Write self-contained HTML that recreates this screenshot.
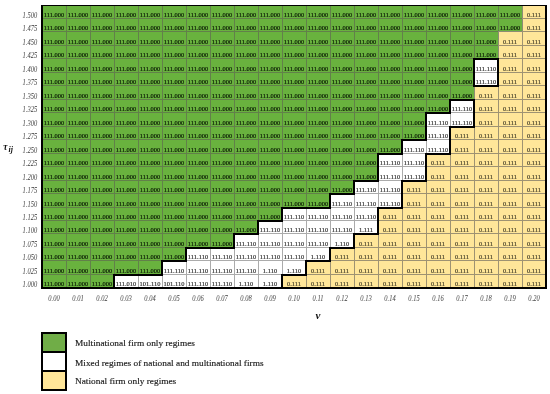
<!DOCTYPE html>
<html><head><meta charset="utf-8"><style>
html,body{margin:0;padding:0;background:#fff;}
body{width:550px;height:394px;position:relative;overflow:hidden;font-family:"Liberation Serif",serif;}
div{position:absolute;}
.t{white-space:nowrap;}
.t.b{-webkit-text-stroke:0.18px currentColor;}
.g{background:#69b23e;}
.y{background:#ffe699;}
.w{background:#fff;}
.L{left:0;top:0;width:550px;height:394px;will-change:transform;}
</style></head><body>
<div class="g" style="left:42px;top:5px;width:24px;height:13px"></div>
<div class="g" style="left:66px;top:5px;width:24px;height:13px"></div>
<div class="g" style="left:90px;top:5px;width:24px;height:13px"></div>
<div class="g" style="left:114px;top:5px;width:24px;height:13px"></div>
<div class="g" style="left:138px;top:5px;width:24px;height:13px"></div>
<div class="g" style="left:162px;top:5px;width:24px;height:13px"></div>
<div class="g" style="left:186px;top:5px;width:24px;height:13px"></div>
<div class="g" style="left:210px;top:5px;width:24px;height:13px"></div>
<div class="g" style="left:234px;top:5px;width:24px;height:13px"></div>
<div class="g" style="left:258px;top:5px;width:24px;height:13px"></div>
<div class="g" style="left:282px;top:5px;width:24px;height:13px"></div>
<div class="g" style="left:306px;top:5px;width:24px;height:13px"></div>
<div class="g" style="left:330px;top:5px;width:24px;height:13px"></div>
<div class="g" style="left:354px;top:5px;width:24px;height:13px"></div>
<div class="g" style="left:378px;top:5px;width:24px;height:13px"></div>
<div class="g" style="left:402px;top:5px;width:24px;height:13px"></div>
<div class="g" style="left:426px;top:5px;width:24px;height:13px"></div>
<div class="g" style="left:450px;top:5px;width:24px;height:13px"></div>
<div class="g" style="left:474px;top:5px;width:24px;height:13px"></div>
<div class="g" style="left:498px;top:5px;width:24px;height:13px"></div>
<div class="y" style="left:522px;top:5px;width:24px;height:13px"></div>
<div class="g" style="left:42px;top:18px;width:24px;height:13px"></div>
<div class="g" style="left:66px;top:18px;width:24px;height:13px"></div>
<div class="g" style="left:90px;top:18px;width:24px;height:13px"></div>
<div class="g" style="left:114px;top:18px;width:24px;height:13px"></div>
<div class="g" style="left:138px;top:18px;width:24px;height:13px"></div>
<div class="g" style="left:162px;top:18px;width:24px;height:13px"></div>
<div class="g" style="left:186px;top:18px;width:24px;height:13px"></div>
<div class="g" style="left:210px;top:18px;width:24px;height:13px"></div>
<div class="g" style="left:234px;top:18px;width:24px;height:13px"></div>
<div class="g" style="left:258px;top:18px;width:24px;height:13px"></div>
<div class="g" style="left:282px;top:18px;width:24px;height:13px"></div>
<div class="g" style="left:306px;top:18px;width:24px;height:13px"></div>
<div class="g" style="left:330px;top:18px;width:24px;height:13px"></div>
<div class="g" style="left:354px;top:18px;width:24px;height:13px"></div>
<div class="g" style="left:378px;top:18px;width:24px;height:13px"></div>
<div class="g" style="left:402px;top:18px;width:24px;height:13px"></div>
<div class="g" style="left:426px;top:18px;width:24px;height:13px"></div>
<div class="g" style="left:450px;top:18px;width:24px;height:13px"></div>
<div class="g" style="left:474px;top:18px;width:24px;height:13px"></div>
<div class="g" style="left:498px;top:18px;width:24px;height:13px"></div>
<div class="y" style="left:522px;top:18px;width:24px;height:13px"></div>
<div class="g" style="left:42px;top:31px;width:24px;height:14px"></div>
<div class="g" style="left:66px;top:31px;width:24px;height:14px"></div>
<div class="g" style="left:90px;top:31px;width:24px;height:14px"></div>
<div class="g" style="left:114px;top:31px;width:24px;height:14px"></div>
<div class="g" style="left:138px;top:31px;width:24px;height:14px"></div>
<div class="g" style="left:162px;top:31px;width:24px;height:14px"></div>
<div class="g" style="left:186px;top:31px;width:24px;height:14px"></div>
<div class="g" style="left:210px;top:31px;width:24px;height:14px"></div>
<div class="g" style="left:234px;top:31px;width:24px;height:14px"></div>
<div class="g" style="left:258px;top:31px;width:24px;height:14px"></div>
<div class="g" style="left:282px;top:31px;width:24px;height:14px"></div>
<div class="g" style="left:306px;top:31px;width:24px;height:14px"></div>
<div class="g" style="left:330px;top:31px;width:24px;height:14px"></div>
<div class="g" style="left:354px;top:31px;width:24px;height:14px"></div>
<div class="g" style="left:378px;top:31px;width:24px;height:14px"></div>
<div class="g" style="left:402px;top:31px;width:24px;height:14px"></div>
<div class="g" style="left:426px;top:31px;width:24px;height:14px"></div>
<div class="g" style="left:450px;top:31px;width:24px;height:14px"></div>
<div class="g" style="left:474px;top:31px;width:24px;height:14px"></div>
<div class="y" style="left:498px;top:31px;width:24px;height:14px"></div>
<div class="y" style="left:522px;top:31px;width:24px;height:14px"></div>
<div class="g" style="left:42px;top:45px;width:24px;height:13px"></div>
<div class="g" style="left:66px;top:45px;width:24px;height:13px"></div>
<div class="g" style="left:90px;top:45px;width:24px;height:13px"></div>
<div class="g" style="left:114px;top:45px;width:24px;height:13px"></div>
<div class="g" style="left:138px;top:45px;width:24px;height:13px"></div>
<div class="g" style="left:162px;top:45px;width:24px;height:13px"></div>
<div class="g" style="left:186px;top:45px;width:24px;height:13px"></div>
<div class="g" style="left:210px;top:45px;width:24px;height:13px"></div>
<div class="g" style="left:234px;top:45px;width:24px;height:13px"></div>
<div class="g" style="left:258px;top:45px;width:24px;height:13px"></div>
<div class="g" style="left:282px;top:45px;width:24px;height:13px"></div>
<div class="g" style="left:306px;top:45px;width:24px;height:13px"></div>
<div class="g" style="left:330px;top:45px;width:24px;height:13px"></div>
<div class="g" style="left:354px;top:45px;width:24px;height:13px"></div>
<div class="g" style="left:378px;top:45px;width:24px;height:13px"></div>
<div class="g" style="left:402px;top:45px;width:24px;height:13px"></div>
<div class="g" style="left:426px;top:45px;width:24px;height:13px"></div>
<div class="g" style="left:450px;top:45px;width:24px;height:13px"></div>
<div class="g" style="left:474px;top:45px;width:24px;height:13px"></div>
<div class="y" style="left:498px;top:45px;width:24px;height:13px"></div>
<div class="y" style="left:522px;top:45px;width:24px;height:13px"></div>
<div class="g" style="left:42px;top:58px;width:24px;height:14px"></div>
<div class="g" style="left:66px;top:58px;width:24px;height:14px"></div>
<div class="g" style="left:90px;top:58px;width:24px;height:14px"></div>
<div class="g" style="left:114px;top:58px;width:24px;height:14px"></div>
<div class="g" style="left:138px;top:58px;width:24px;height:14px"></div>
<div class="g" style="left:162px;top:58px;width:24px;height:14px"></div>
<div class="g" style="left:186px;top:58px;width:24px;height:14px"></div>
<div class="g" style="left:210px;top:58px;width:24px;height:14px"></div>
<div class="g" style="left:234px;top:58px;width:24px;height:14px"></div>
<div class="g" style="left:258px;top:58px;width:24px;height:14px"></div>
<div class="g" style="left:282px;top:58px;width:24px;height:14px"></div>
<div class="g" style="left:306px;top:58px;width:24px;height:14px"></div>
<div class="g" style="left:330px;top:58px;width:24px;height:14px"></div>
<div class="g" style="left:354px;top:58px;width:24px;height:14px"></div>
<div class="g" style="left:378px;top:58px;width:24px;height:14px"></div>
<div class="g" style="left:402px;top:58px;width:24px;height:14px"></div>
<div class="g" style="left:426px;top:58px;width:24px;height:14px"></div>
<div class="g" style="left:450px;top:58px;width:24px;height:14px"></div>
<div class="w" style="left:474px;top:58px;width:24px;height:14px"></div>
<div class="y" style="left:498px;top:58px;width:24px;height:14px"></div>
<div class="y" style="left:522px;top:58px;width:24px;height:14px"></div>
<div class="g" style="left:42px;top:72px;width:24px;height:13px"></div>
<div class="g" style="left:66px;top:72px;width:24px;height:13px"></div>
<div class="g" style="left:90px;top:72px;width:24px;height:13px"></div>
<div class="g" style="left:114px;top:72px;width:24px;height:13px"></div>
<div class="g" style="left:138px;top:72px;width:24px;height:13px"></div>
<div class="g" style="left:162px;top:72px;width:24px;height:13px"></div>
<div class="g" style="left:186px;top:72px;width:24px;height:13px"></div>
<div class="g" style="left:210px;top:72px;width:24px;height:13px"></div>
<div class="g" style="left:234px;top:72px;width:24px;height:13px"></div>
<div class="g" style="left:258px;top:72px;width:24px;height:13px"></div>
<div class="g" style="left:282px;top:72px;width:24px;height:13px"></div>
<div class="g" style="left:306px;top:72px;width:24px;height:13px"></div>
<div class="g" style="left:330px;top:72px;width:24px;height:13px"></div>
<div class="g" style="left:354px;top:72px;width:24px;height:13px"></div>
<div class="g" style="left:378px;top:72px;width:24px;height:13px"></div>
<div class="g" style="left:402px;top:72px;width:24px;height:13px"></div>
<div class="g" style="left:426px;top:72px;width:24px;height:13px"></div>
<div class="g" style="left:450px;top:72px;width:24px;height:13px"></div>
<div class="w" style="left:474px;top:72px;width:24px;height:13px"></div>
<div class="y" style="left:498px;top:72px;width:24px;height:13px"></div>
<div class="y" style="left:522px;top:72px;width:24px;height:13px"></div>
<div class="g" style="left:42px;top:85px;width:24px;height:14px"></div>
<div class="g" style="left:66px;top:85px;width:24px;height:14px"></div>
<div class="g" style="left:90px;top:85px;width:24px;height:14px"></div>
<div class="g" style="left:114px;top:85px;width:24px;height:14px"></div>
<div class="g" style="left:138px;top:85px;width:24px;height:14px"></div>
<div class="g" style="left:162px;top:85px;width:24px;height:14px"></div>
<div class="g" style="left:186px;top:85px;width:24px;height:14px"></div>
<div class="g" style="left:210px;top:85px;width:24px;height:14px"></div>
<div class="g" style="left:234px;top:85px;width:24px;height:14px"></div>
<div class="g" style="left:258px;top:85px;width:24px;height:14px"></div>
<div class="g" style="left:282px;top:85px;width:24px;height:14px"></div>
<div class="g" style="left:306px;top:85px;width:24px;height:14px"></div>
<div class="g" style="left:330px;top:85px;width:24px;height:14px"></div>
<div class="g" style="left:354px;top:85px;width:24px;height:14px"></div>
<div class="g" style="left:378px;top:85px;width:24px;height:14px"></div>
<div class="g" style="left:402px;top:85px;width:24px;height:14px"></div>
<div class="g" style="left:426px;top:85px;width:24px;height:14px"></div>
<div class="g" style="left:450px;top:85px;width:24px;height:14px"></div>
<div class="y" style="left:474px;top:85px;width:24px;height:14px"></div>
<div class="y" style="left:498px;top:85px;width:24px;height:14px"></div>
<div class="y" style="left:522px;top:85px;width:24px;height:14px"></div>
<div class="g" style="left:42px;top:99px;width:24px;height:13px"></div>
<div class="g" style="left:66px;top:99px;width:24px;height:13px"></div>
<div class="g" style="left:90px;top:99px;width:24px;height:13px"></div>
<div class="g" style="left:114px;top:99px;width:24px;height:13px"></div>
<div class="g" style="left:138px;top:99px;width:24px;height:13px"></div>
<div class="g" style="left:162px;top:99px;width:24px;height:13px"></div>
<div class="g" style="left:186px;top:99px;width:24px;height:13px"></div>
<div class="g" style="left:210px;top:99px;width:24px;height:13px"></div>
<div class="g" style="left:234px;top:99px;width:24px;height:13px"></div>
<div class="g" style="left:258px;top:99px;width:24px;height:13px"></div>
<div class="g" style="left:282px;top:99px;width:24px;height:13px"></div>
<div class="g" style="left:306px;top:99px;width:24px;height:13px"></div>
<div class="g" style="left:330px;top:99px;width:24px;height:13px"></div>
<div class="g" style="left:354px;top:99px;width:24px;height:13px"></div>
<div class="g" style="left:378px;top:99px;width:24px;height:13px"></div>
<div class="g" style="left:402px;top:99px;width:24px;height:13px"></div>
<div class="g" style="left:426px;top:99px;width:24px;height:13px"></div>
<div class="w" style="left:450px;top:99px;width:24px;height:13px"></div>
<div class="y" style="left:474px;top:99px;width:24px;height:13px"></div>
<div class="y" style="left:498px;top:99px;width:24px;height:13px"></div>
<div class="y" style="left:522px;top:99px;width:24px;height:13px"></div>
<div class="g" style="left:42px;top:112px;width:24px;height:14px"></div>
<div class="g" style="left:66px;top:112px;width:24px;height:14px"></div>
<div class="g" style="left:90px;top:112px;width:24px;height:14px"></div>
<div class="g" style="left:114px;top:112px;width:24px;height:14px"></div>
<div class="g" style="left:138px;top:112px;width:24px;height:14px"></div>
<div class="g" style="left:162px;top:112px;width:24px;height:14px"></div>
<div class="g" style="left:186px;top:112px;width:24px;height:14px"></div>
<div class="g" style="left:210px;top:112px;width:24px;height:14px"></div>
<div class="g" style="left:234px;top:112px;width:24px;height:14px"></div>
<div class="g" style="left:258px;top:112px;width:24px;height:14px"></div>
<div class="g" style="left:282px;top:112px;width:24px;height:14px"></div>
<div class="g" style="left:306px;top:112px;width:24px;height:14px"></div>
<div class="g" style="left:330px;top:112px;width:24px;height:14px"></div>
<div class="g" style="left:354px;top:112px;width:24px;height:14px"></div>
<div class="g" style="left:378px;top:112px;width:24px;height:14px"></div>
<div class="g" style="left:402px;top:112px;width:24px;height:14px"></div>
<div class="w" style="left:426px;top:112px;width:24px;height:14px"></div>
<div class="w" style="left:450px;top:112px;width:24px;height:14px"></div>
<div class="y" style="left:474px;top:112px;width:24px;height:14px"></div>
<div class="y" style="left:498px;top:112px;width:24px;height:14px"></div>
<div class="y" style="left:522px;top:112px;width:24px;height:14px"></div>
<div class="g" style="left:42px;top:126px;width:24px;height:13px"></div>
<div class="g" style="left:66px;top:126px;width:24px;height:13px"></div>
<div class="g" style="left:90px;top:126px;width:24px;height:13px"></div>
<div class="g" style="left:114px;top:126px;width:24px;height:13px"></div>
<div class="g" style="left:138px;top:126px;width:24px;height:13px"></div>
<div class="g" style="left:162px;top:126px;width:24px;height:13px"></div>
<div class="g" style="left:186px;top:126px;width:24px;height:13px"></div>
<div class="g" style="left:210px;top:126px;width:24px;height:13px"></div>
<div class="g" style="left:234px;top:126px;width:24px;height:13px"></div>
<div class="g" style="left:258px;top:126px;width:24px;height:13px"></div>
<div class="g" style="left:282px;top:126px;width:24px;height:13px"></div>
<div class="g" style="left:306px;top:126px;width:24px;height:13px"></div>
<div class="g" style="left:330px;top:126px;width:24px;height:13px"></div>
<div class="g" style="left:354px;top:126px;width:24px;height:13px"></div>
<div class="g" style="left:378px;top:126px;width:24px;height:13px"></div>
<div class="g" style="left:402px;top:126px;width:24px;height:13px"></div>
<div class="w" style="left:426px;top:126px;width:24px;height:13px"></div>
<div class="y" style="left:450px;top:126px;width:24px;height:13px"></div>
<div class="y" style="left:474px;top:126px;width:24px;height:13px"></div>
<div class="y" style="left:498px;top:126px;width:24px;height:13px"></div>
<div class="y" style="left:522px;top:126px;width:24px;height:13px"></div>
<div class="g" style="left:42px;top:139px;width:24px;height:14px"></div>
<div class="g" style="left:66px;top:139px;width:24px;height:14px"></div>
<div class="g" style="left:90px;top:139px;width:24px;height:14px"></div>
<div class="g" style="left:114px;top:139px;width:24px;height:14px"></div>
<div class="g" style="left:138px;top:139px;width:24px;height:14px"></div>
<div class="g" style="left:162px;top:139px;width:24px;height:14px"></div>
<div class="g" style="left:186px;top:139px;width:24px;height:14px"></div>
<div class="g" style="left:210px;top:139px;width:24px;height:14px"></div>
<div class="g" style="left:234px;top:139px;width:24px;height:14px"></div>
<div class="g" style="left:258px;top:139px;width:24px;height:14px"></div>
<div class="g" style="left:282px;top:139px;width:24px;height:14px"></div>
<div class="g" style="left:306px;top:139px;width:24px;height:14px"></div>
<div class="g" style="left:330px;top:139px;width:24px;height:14px"></div>
<div class="g" style="left:354px;top:139px;width:24px;height:14px"></div>
<div class="g" style="left:378px;top:139px;width:24px;height:14px"></div>
<div class="w" style="left:402px;top:139px;width:24px;height:14px"></div>
<div class="w" style="left:426px;top:139px;width:24px;height:14px"></div>
<div class="y" style="left:450px;top:139px;width:24px;height:14px"></div>
<div class="y" style="left:474px;top:139px;width:24px;height:14px"></div>
<div class="y" style="left:498px;top:139px;width:24px;height:14px"></div>
<div class="y" style="left:522px;top:139px;width:24px;height:14px"></div>
<div class="g" style="left:42px;top:153px;width:24px;height:13px"></div>
<div class="g" style="left:66px;top:153px;width:24px;height:13px"></div>
<div class="g" style="left:90px;top:153px;width:24px;height:13px"></div>
<div class="g" style="left:114px;top:153px;width:24px;height:13px"></div>
<div class="g" style="left:138px;top:153px;width:24px;height:13px"></div>
<div class="g" style="left:162px;top:153px;width:24px;height:13px"></div>
<div class="g" style="left:186px;top:153px;width:24px;height:13px"></div>
<div class="g" style="left:210px;top:153px;width:24px;height:13px"></div>
<div class="g" style="left:234px;top:153px;width:24px;height:13px"></div>
<div class="g" style="left:258px;top:153px;width:24px;height:13px"></div>
<div class="g" style="left:282px;top:153px;width:24px;height:13px"></div>
<div class="g" style="left:306px;top:153px;width:24px;height:13px"></div>
<div class="g" style="left:330px;top:153px;width:24px;height:13px"></div>
<div class="g" style="left:354px;top:153px;width:24px;height:13px"></div>
<div class="w" style="left:378px;top:153px;width:24px;height:13px"></div>
<div class="w" style="left:402px;top:153px;width:24px;height:13px"></div>
<div class="y" style="left:426px;top:153px;width:24px;height:13px"></div>
<div class="y" style="left:450px;top:153px;width:24px;height:13px"></div>
<div class="y" style="left:474px;top:153px;width:24px;height:13px"></div>
<div class="y" style="left:498px;top:153px;width:24px;height:13px"></div>
<div class="y" style="left:522px;top:153px;width:24px;height:13px"></div>
<div class="g" style="left:42px;top:166px;width:24px;height:14px"></div>
<div class="g" style="left:66px;top:166px;width:24px;height:14px"></div>
<div class="g" style="left:90px;top:166px;width:24px;height:14px"></div>
<div class="g" style="left:114px;top:166px;width:24px;height:14px"></div>
<div class="g" style="left:138px;top:166px;width:24px;height:14px"></div>
<div class="g" style="left:162px;top:166px;width:24px;height:14px"></div>
<div class="g" style="left:186px;top:166px;width:24px;height:14px"></div>
<div class="g" style="left:210px;top:166px;width:24px;height:14px"></div>
<div class="g" style="left:234px;top:166px;width:24px;height:14px"></div>
<div class="g" style="left:258px;top:166px;width:24px;height:14px"></div>
<div class="g" style="left:282px;top:166px;width:24px;height:14px"></div>
<div class="g" style="left:306px;top:166px;width:24px;height:14px"></div>
<div class="g" style="left:330px;top:166px;width:24px;height:14px"></div>
<div class="g" style="left:354px;top:166px;width:24px;height:14px"></div>
<div class="w" style="left:378px;top:166px;width:24px;height:14px"></div>
<div class="w" style="left:402px;top:166px;width:24px;height:14px"></div>
<div class="y" style="left:426px;top:166px;width:24px;height:14px"></div>
<div class="y" style="left:450px;top:166px;width:24px;height:14px"></div>
<div class="y" style="left:474px;top:166px;width:24px;height:14px"></div>
<div class="y" style="left:498px;top:166px;width:24px;height:14px"></div>
<div class="y" style="left:522px;top:166px;width:24px;height:14px"></div>
<div class="g" style="left:42px;top:180px;width:24px;height:13px"></div>
<div class="g" style="left:66px;top:180px;width:24px;height:13px"></div>
<div class="g" style="left:90px;top:180px;width:24px;height:13px"></div>
<div class="g" style="left:114px;top:180px;width:24px;height:13px"></div>
<div class="g" style="left:138px;top:180px;width:24px;height:13px"></div>
<div class="g" style="left:162px;top:180px;width:24px;height:13px"></div>
<div class="g" style="left:186px;top:180px;width:24px;height:13px"></div>
<div class="g" style="left:210px;top:180px;width:24px;height:13px"></div>
<div class="g" style="left:234px;top:180px;width:24px;height:13px"></div>
<div class="g" style="left:258px;top:180px;width:24px;height:13px"></div>
<div class="g" style="left:282px;top:180px;width:24px;height:13px"></div>
<div class="g" style="left:306px;top:180px;width:24px;height:13px"></div>
<div class="g" style="left:330px;top:180px;width:24px;height:13px"></div>
<div class="w" style="left:354px;top:180px;width:24px;height:13px"></div>
<div class="w" style="left:378px;top:180px;width:24px;height:13px"></div>
<div class="y" style="left:402px;top:180px;width:24px;height:13px"></div>
<div class="y" style="left:426px;top:180px;width:24px;height:13px"></div>
<div class="y" style="left:450px;top:180px;width:24px;height:13px"></div>
<div class="y" style="left:474px;top:180px;width:24px;height:13px"></div>
<div class="y" style="left:498px;top:180px;width:24px;height:13px"></div>
<div class="y" style="left:522px;top:180px;width:24px;height:13px"></div>
<div class="g" style="left:42px;top:193px;width:24px;height:14px"></div>
<div class="g" style="left:66px;top:193px;width:24px;height:14px"></div>
<div class="g" style="left:90px;top:193px;width:24px;height:14px"></div>
<div class="g" style="left:114px;top:193px;width:24px;height:14px"></div>
<div class="g" style="left:138px;top:193px;width:24px;height:14px"></div>
<div class="g" style="left:162px;top:193px;width:24px;height:14px"></div>
<div class="g" style="left:186px;top:193px;width:24px;height:14px"></div>
<div class="g" style="left:210px;top:193px;width:24px;height:14px"></div>
<div class="g" style="left:234px;top:193px;width:24px;height:14px"></div>
<div class="g" style="left:258px;top:193px;width:24px;height:14px"></div>
<div class="g" style="left:282px;top:193px;width:24px;height:14px"></div>
<div class="g" style="left:306px;top:193px;width:24px;height:14px"></div>
<div class="w" style="left:330px;top:193px;width:24px;height:14px"></div>
<div class="w" style="left:354px;top:193px;width:24px;height:14px"></div>
<div class="w" style="left:378px;top:193px;width:24px;height:14px"></div>
<div class="y" style="left:402px;top:193px;width:24px;height:14px"></div>
<div class="y" style="left:426px;top:193px;width:24px;height:14px"></div>
<div class="y" style="left:450px;top:193px;width:24px;height:14px"></div>
<div class="y" style="left:474px;top:193px;width:24px;height:14px"></div>
<div class="y" style="left:498px;top:193px;width:24px;height:14px"></div>
<div class="y" style="left:522px;top:193px;width:24px;height:14px"></div>
<div class="g" style="left:42px;top:207px;width:24px;height:13px"></div>
<div class="g" style="left:66px;top:207px;width:24px;height:13px"></div>
<div class="g" style="left:90px;top:207px;width:24px;height:13px"></div>
<div class="g" style="left:114px;top:207px;width:24px;height:13px"></div>
<div class="g" style="left:138px;top:207px;width:24px;height:13px"></div>
<div class="g" style="left:162px;top:207px;width:24px;height:13px"></div>
<div class="g" style="left:186px;top:207px;width:24px;height:13px"></div>
<div class="g" style="left:210px;top:207px;width:24px;height:13px"></div>
<div class="g" style="left:234px;top:207px;width:24px;height:13px"></div>
<div class="g" style="left:258px;top:207px;width:24px;height:13px"></div>
<div class="w" style="left:282px;top:207px;width:24px;height:13px"></div>
<div class="w" style="left:306px;top:207px;width:24px;height:13px"></div>
<div class="w" style="left:330px;top:207px;width:24px;height:13px"></div>
<div class="w" style="left:354px;top:207px;width:24px;height:13px"></div>
<div class="y" style="left:378px;top:207px;width:24px;height:13px"></div>
<div class="y" style="left:402px;top:207px;width:24px;height:13px"></div>
<div class="y" style="left:426px;top:207px;width:24px;height:13px"></div>
<div class="y" style="left:450px;top:207px;width:24px;height:13px"></div>
<div class="y" style="left:474px;top:207px;width:24px;height:13px"></div>
<div class="y" style="left:498px;top:207px;width:24px;height:13px"></div>
<div class="y" style="left:522px;top:207px;width:24px;height:13px"></div>
<div class="g" style="left:42px;top:220px;width:24px;height:13px"></div>
<div class="g" style="left:66px;top:220px;width:24px;height:13px"></div>
<div class="g" style="left:90px;top:220px;width:24px;height:13px"></div>
<div class="g" style="left:114px;top:220px;width:24px;height:13px"></div>
<div class="g" style="left:138px;top:220px;width:24px;height:13px"></div>
<div class="g" style="left:162px;top:220px;width:24px;height:13px"></div>
<div class="g" style="left:186px;top:220px;width:24px;height:13px"></div>
<div class="g" style="left:210px;top:220px;width:24px;height:13px"></div>
<div class="g" style="left:234px;top:220px;width:24px;height:13px"></div>
<div class="w" style="left:258px;top:220px;width:24px;height:13px"></div>
<div class="w" style="left:282px;top:220px;width:24px;height:13px"></div>
<div class="w" style="left:306px;top:220px;width:24px;height:13px"></div>
<div class="w" style="left:330px;top:220px;width:24px;height:13px"></div>
<div class="w" style="left:354px;top:220px;width:24px;height:13px"></div>
<div class="y" style="left:378px;top:220px;width:24px;height:13px"></div>
<div class="y" style="left:402px;top:220px;width:24px;height:13px"></div>
<div class="y" style="left:426px;top:220px;width:24px;height:13px"></div>
<div class="y" style="left:450px;top:220px;width:24px;height:13px"></div>
<div class="y" style="left:474px;top:220px;width:24px;height:13px"></div>
<div class="y" style="left:498px;top:220px;width:24px;height:13px"></div>
<div class="y" style="left:522px;top:220px;width:24px;height:13px"></div>
<div class="g" style="left:42px;top:233px;width:24px;height:14px"></div>
<div class="g" style="left:66px;top:233px;width:24px;height:14px"></div>
<div class="g" style="left:90px;top:233px;width:24px;height:14px"></div>
<div class="g" style="left:114px;top:233px;width:24px;height:14px"></div>
<div class="g" style="left:138px;top:233px;width:24px;height:14px"></div>
<div class="g" style="left:162px;top:233px;width:24px;height:14px"></div>
<div class="g" style="left:186px;top:233px;width:24px;height:14px"></div>
<div class="g" style="left:210px;top:233px;width:24px;height:14px"></div>
<div class="w" style="left:234px;top:233px;width:24px;height:14px"></div>
<div class="w" style="left:258px;top:233px;width:24px;height:14px"></div>
<div class="w" style="left:282px;top:233px;width:24px;height:14px"></div>
<div class="w" style="left:306px;top:233px;width:24px;height:14px"></div>
<div class="w" style="left:330px;top:233px;width:24px;height:14px"></div>
<div class="y" style="left:354px;top:233px;width:24px;height:14px"></div>
<div class="y" style="left:378px;top:233px;width:24px;height:14px"></div>
<div class="y" style="left:402px;top:233px;width:24px;height:14px"></div>
<div class="y" style="left:426px;top:233px;width:24px;height:14px"></div>
<div class="y" style="left:450px;top:233px;width:24px;height:14px"></div>
<div class="y" style="left:474px;top:233px;width:24px;height:14px"></div>
<div class="y" style="left:498px;top:233px;width:24px;height:14px"></div>
<div class="y" style="left:522px;top:233px;width:24px;height:14px"></div>
<div class="g" style="left:42px;top:247px;width:24px;height:13px"></div>
<div class="g" style="left:66px;top:247px;width:24px;height:13px"></div>
<div class="g" style="left:90px;top:247px;width:24px;height:13px"></div>
<div class="g" style="left:114px;top:247px;width:24px;height:13px"></div>
<div class="g" style="left:138px;top:247px;width:24px;height:13px"></div>
<div class="g" style="left:162px;top:247px;width:24px;height:13px"></div>
<div class="w" style="left:186px;top:247px;width:24px;height:13px"></div>
<div class="w" style="left:210px;top:247px;width:24px;height:13px"></div>
<div class="w" style="left:234px;top:247px;width:24px;height:13px"></div>
<div class="w" style="left:258px;top:247px;width:24px;height:13px"></div>
<div class="w" style="left:282px;top:247px;width:24px;height:13px"></div>
<div class="w" style="left:306px;top:247px;width:24px;height:13px"></div>
<div class="y" style="left:330px;top:247px;width:24px;height:13px"></div>
<div class="y" style="left:354px;top:247px;width:24px;height:13px"></div>
<div class="y" style="left:378px;top:247px;width:24px;height:13px"></div>
<div class="y" style="left:402px;top:247px;width:24px;height:13px"></div>
<div class="y" style="left:426px;top:247px;width:24px;height:13px"></div>
<div class="y" style="left:450px;top:247px;width:24px;height:13px"></div>
<div class="y" style="left:474px;top:247px;width:24px;height:13px"></div>
<div class="y" style="left:498px;top:247px;width:24px;height:13px"></div>
<div class="y" style="left:522px;top:247px;width:24px;height:13px"></div>
<div class="g" style="left:42px;top:260px;width:24px;height:14px"></div>
<div class="g" style="left:66px;top:260px;width:24px;height:14px"></div>
<div class="g" style="left:90px;top:260px;width:24px;height:14px"></div>
<div class="g" style="left:114px;top:260px;width:24px;height:14px"></div>
<div class="g" style="left:138px;top:260px;width:24px;height:14px"></div>
<div class="w" style="left:162px;top:260px;width:24px;height:14px"></div>
<div class="w" style="left:186px;top:260px;width:24px;height:14px"></div>
<div class="w" style="left:210px;top:260px;width:24px;height:14px"></div>
<div class="w" style="left:234px;top:260px;width:24px;height:14px"></div>
<div class="w" style="left:258px;top:260px;width:24px;height:14px"></div>
<div class="w" style="left:282px;top:260px;width:24px;height:14px"></div>
<div class="y" style="left:306px;top:260px;width:24px;height:14px"></div>
<div class="y" style="left:330px;top:260px;width:24px;height:14px"></div>
<div class="y" style="left:354px;top:260px;width:24px;height:14px"></div>
<div class="y" style="left:378px;top:260px;width:24px;height:14px"></div>
<div class="y" style="left:402px;top:260px;width:24px;height:14px"></div>
<div class="y" style="left:426px;top:260px;width:24px;height:14px"></div>
<div class="y" style="left:450px;top:260px;width:24px;height:14px"></div>
<div class="y" style="left:474px;top:260px;width:24px;height:14px"></div>
<div class="y" style="left:498px;top:260px;width:24px;height:14px"></div>
<div class="y" style="left:522px;top:260px;width:24px;height:14px"></div>
<div class="g" style="left:42px;top:274px;width:24px;height:13px"></div>
<div class="g" style="left:66px;top:274px;width:24px;height:13px"></div>
<div class="g" style="left:90px;top:274px;width:24px;height:13px"></div>
<div class="w" style="left:114px;top:274px;width:24px;height:13px"></div>
<div class="w" style="left:138px;top:274px;width:24px;height:13px"></div>
<div class="w" style="left:162px;top:274px;width:24px;height:13px"></div>
<div class="w" style="left:186px;top:274px;width:24px;height:13px"></div>
<div class="w" style="left:210px;top:274px;width:24px;height:13px"></div>
<div class="w" style="left:234px;top:274px;width:24px;height:13px"></div>
<div class="w" style="left:258px;top:274px;width:24px;height:13px"></div>
<div class="y" style="left:282px;top:274px;width:24px;height:13px"></div>
<div class="y" style="left:306px;top:274px;width:24px;height:13px"></div>
<div class="y" style="left:330px;top:274px;width:24px;height:13px"></div>
<div class="y" style="left:354px;top:274px;width:24px;height:13px"></div>
<div class="y" style="left:378px;top:274px;width:24px;height:13px"></div>
<div class="y" style="left:402px;top:274px;width:24px;height:13px"></div>
<div class="y" style="left:426px;top:274px;width:24px;height:13px"></div>
<div class="y" style="left:450px;top:274px;width:24px;height:13px"></div>
<div class="y" style="left:474px;top:274px;width:24px;height:13px"></div>
<div class="y" style="left:498px;top:274px;width:24px;height:13px"></div>
<div class="y" style="left:522px;top:274px;width:24px;height:13px"></div>
<div style="left:66px;top:5px;width:1px;height:13px;background:#62804a"></div>
<div style="left:66px;top:18px;width:1px;height:13px;background:#62804a"></div>
<div style="left:66px;top:31px;width:1px;height:14px;background:#62804a"></div>
<div style="left:66px;top:45px;width:1px;height:13px;background:#62804a"></div>
<div style="left:66px;top:58px;width:1px;height:14px;background:#62804a"></div>
<div style="left:66px;top:72px;width:1px;height:13px;background:#62804a"></div>
<div style="left:66px;top:85px;width:1px;height:14px;background:#62804a"></div>
<div style="left:66px;top:99px;width:1px;height:13px;background:#62804a"></div>
<div style="left:66px;top:112px;width:1px;height:14px;background:#62804a"></div>
<div style="left:66px;top:126px;width:1px;height:13px;background:#62804a"></div>
<div style="left:66px;top:139px;width:1px;height:14px;background:#62804a"></div>
<div style="left:66px;top:153px;width:1px;height:13px;background:#62804a"></div>
<div style="left:66px;top:166px;width:1px;height:14px;background:#62804a"></div>
<div style="left:66px;top:180px;width:1px;height:13px;background:#62804a"></div>
<div style="left:66px;top:193px;width:1px;height:14px;background:#62804a"></div>
<div style="left:66px;top:207px;width:1px;height:13px;background:#62804a"></div>
<div style="left:66px;top:220px;width:1px;height:13px;background:#62804a"></div>
<div style="left:66px;top:233px;width:1px;height:14px;background:#62804a"></div>
<div style="left:66px;top:247px;width:1px;height:13px;background:#62804a"></div>
<div style="left:66px;top:260px;width:1px;height:14px;background:#62804a"></div>
<div style="left:66px;top:274px;width:1px;height:13px;background:#62804a"></div>
<div style="left:90px;top:5px;width:1px;height:13px;background:#62804a"></div>
<div style="left:90px;top:18px;width:1px;height:13px;background:#62804a"></div>
<div style="left:90px;top:31px;width:1px;height:14px;background:#62804a"></div>
<div style="left:90px;top:45px;width:1px;height:13px;background:#62804a"></div>
<div style="left:90px;top:58px;width:1px;height:14px;background:#62804a"></div>
<div style="left:90px;top:72px;width:1px;height:13px;background:#62804a"></div>
<div style="left:90px;top:85px;width:1px;height:14px;background:#62804a"></div>
<div style="left:90px;top:99px;width:1px;height:13px;background:#62804a"></div>
<div style="left:90px;top:112px;width:1px;height:14px;background:#62804a"></div>
<div style="left:90px;top:126px;width:1px;height:13px;background:#62804a"></div>
<div style="left:90px;top:139px;width:1px;height:14px;background:#62804a"></div>
<div style="left:90px;top:153px;width:1px;height:13px;background:#62804a"></div>
<div style="left:90px;top:166px;width:1px;height:14px;background:#62804a"></div>
<div style="left:90px;top:180px;width:1px;height:13px;background:#62804a"></div>
<div style="left:90px;top:193px;width:1px;height:14px;background:#62804a"></div>
<div style="left:90px;top:207px;width:1px;height:13px;background:#62804a"></div>
<div style="left:90px;top:220px;width:1px;height:13px;background:#62804a"></div>
<div style="left:90px;top:233px;width:1px;height:14px;background:#62804a"></div>
<div style="left:90px;top:247px;width:1px;height:13px;background:#62804a"></div>
<div style="left:90px;top:260px;width:1px;height:14px;background:#62804a"></div>
<div style="left:90px;top:274px;width:1px;height:13px;background:#62804a"></div>
<div style="left:114px;top:5px;width:1px;height:13px;background:#62804a"></div>
<div style="left:114px;top:18px;width:1px;height:13px;background:#62804a"></div>
<div style="left:114px;top:31px;width:1px;height:14px;background:#62804a"></div>
<div style="left:114px;top:45px;width:1px;height:13px;background:#62804a"></div>
<div style="left:114px;top:58px;width:1px;height:14px;background:#62804a"></div>
<div style="left:114px;top:72px;width:1px;height:13px;background:#62804a"></div>
<div style="left:114px;top:85px;width:1px;height:14px;background:#62804a"></div>
<div style="left:114px;top:99px;width:1px;height:13px;background:#62804a"></div>
<div style="left:114px;top:112px;width:1px;height:14px;background:#62804a"></div>
<div style="left:114px;top:126px;width:1px;height:13px;background:#62804a"></div>
<div style="left:114px;top:139px;width:1px;height:14px;background:#62804a"></div>
<div style="left:114px;top:153px;width:1px;height:13px;background:#62804a"></div>
<div style="left:114px;top:166px;width:1px;height:14px;background:#62804a"></div>
<div style="left:114px;top:180px;width:1px;height:13px;background:#62804a"></div>
<div style="left:114px;top:193px;width:1px;height:14px;background:#62804a"></div>
<div style="left:114px;top:207px;width:1px;height:13px;background:#62804a"></div>
<div style="left:114px;top:220px;width:1px;height:13px;background:#62804a"></div>
<div style="left:114px;top:233px;width:1px;height:14px;background:#62804a"></div>
<div style="left:114px;top:247px;width:1px;height:13px;background:#62804a"></div>
<div style="left:114px;top:260px;width:1px;height:14px;background:#62804a"></div>
<div style="left:114px;top:274px;width:1px;height:13px;background:#8c8c74"></div>
<div style="left:138px;top:5px;width:1px;height:13px;background:#62804a"></div>
<div style="left:138px;top:18px;width:1px;height:13px;background:#62804a"></div>
<div style="left:138px;top:31px;width:1px;height:14px;background:#62804a"></div>
<div style="left:138px;top:45px;width:1px;height:13px;background:#62804a"></div>
<div style="left:138px;top:58px;width:1px;height:14px;background:#62804a"></div>
<div style="left:138px;top:72px;width:1px;height:13px;background:#62804a"></div>
<div style="left:138px;top:85px;width:1px;height:14px;background:#62804a"></div>
<div style="left:138px;top:99px;width:1px;height:13px;background:#62804a"></div>
<div style="left:138px;top:112px;width:1px;height:14px;background:#62804a"></div>
<div style="left:138px;top:126px;width:1px;height:13px;background:#62804a"></div>
<div style="left:138px;top:139px;width:1px;height:14px;background:#62804a"></div>
<div style="left:138px;top:153px;width:1px;height:13px;background:#62804a"></div>
<div style="left:138px;top:166px;width:1px;height:14px;background:#62804a"></div>
<div style="left:138px;top:180px;width:1px;height:13px;background:#62804a"></div>
<div style="left:138px;top:193px;width:1px;height:14px;background:#62804a"></div>
<div style="left:138px;top:207px;width:1px;height:13px;background:#62804a"></div>
<div style="left:138px;top:220px;width:1px;height:13px;background:#62804a"></div>
<div style="left:138px;top:233px;width:1px;height:14px;background:#62804a"></div>
<div style="left:138px;top:247px;width:1px;height:13px;background:#62804a"></div>
<div style="left:138px;top:260px;width:1px;height:14px;background:#62804a"></div>
<div style="left:138px;top:274px;width:1px;height:13px;background:#ababab"></div>
<div style="left:162px;top:5px;width:1px;height:13px;background:#62804a"></div>
<div style="left:162px;top:18px;width:1px;height:13px;background:#62804a"></div>
<div style="left:162px;top:31px;width:1px;height:14px;background:#62804a"></div>
<div style="left:162px;top:45px;width:1px;height:13px;background:#62804a"></div>
<div style="left:162px;top:58px;width:1px;height:14px;background:#62804a"></div>
<div style="left:162px;top:72px;width:1px;height:13px;background:#62804a"></div>
<div style="left:162px;top:85px;width:1px;height:14px;background:#62804a"></div>
<div style="left:162px;top:99px;width:1px;height:13px;background:#62804a"></div>
<div style="left:162px;top:112px;width:1px;height:14px;background:#62804a"></div>
<div style="left:162px;top:126px;width:1px;height:13px;background:#62804a"></div>
<div style="left:162px;top:139px;width:1px;height:14px;background:#62804a"></div>
<div style="left:162px;top:153px;width:1px;height:13px;background:#62804a"></div>
<div style="left:162px;top:166px;width:1px;height:14px;background:#62804a"></div>
<div style="left:162px;top:180px;width:1px;height:13px;background:#62804a"></div>
<div style="left:162px;top:193px;width:1px;height:14px;background:#62804a"></div>
<div style="left:162px;top:207px;width:1px;height:13px;background:#62804a"></div>
<div style="left:162px;top:220px;width:1px;height:13px;background:#62804a"></div>
<div style="left:162px;top:233px;width:1px;height:14px;background:#62804a"></div>
<div style="left:162px;top:247px;width:1px;height:13px;background:#62804a"></div>
<div style="left:162px;top:260px;width:1px;height:14px;background:#8c8c74"></div>
<div style="left:162px;top:274px;width:1px;height:13px;background:#ababab"></div>
<div style="left:186px;top:5px;width:1px;height:13px;background:#62804a"></div>
<div style="left:186px;top:18px;width:1px;height:13px;background:#62804a"></div>
<div style="left:186px;top:31px;width:1px;height:14px;background:#62804a"></div>
<div style="left:186px;top:45px;width:1px;height:13px;background:#62804a"></div>
<div style="left:186px;top:58px;width:1px;height:14px;background:#62804a"></div>
<div style="left:186px;top:72px;width:1px;height:13px;background:#62804a"></div>
<div style="left:186px;top:85px;width:1px;height:14px;background:#62804a"></div>
<div style="left:186px;top:99px;width:1px;height:13px;background:#62804a"></div>
<div style="left:186px;top:112px;width:1px;height:14px;background:#62804a"></div>
<div style="left:186px;top:126px;width:1px;height:13px;background:#62804a"></div>
<div style="left:186px;top:139px;width:1px;height:14px;background:#62804a"></div>
<div style="left:186px;top:153px;width:1px;height:13px;background:#62804a"></div>
<div style="left:186px;top:166px;width:1px;height:14px;background:#62804a"></div>
<div style="left:186px;top:180px;width:1px;height:13px;background:#62804a"></div>
<div style="left:186px;top:193px;width:1px;height:14px;background:#62804a"></div>
<div style="left:186px;top:207px;width:1px;height:13px;background:#62804a"></div>
<div style="left:186px;top:220px;width:1px;height:13px;background:#62804a"></div>
<div style="left:186px;top:233px;width:1px;height:14px;background:#62804a"></div>
<div style="left:186px;top:247px;width:1px;height:13px;background:#8c8c74"></div>
<div style="left:186px;top:260px;width:1px;height:14px;background:#ababab"></div>
<div style="left:186px;top:274px;width:1px;height:13px;background:#ababab"></div>
<div style="left:210px;top:5px;width:1px;height:13px;background:#62804a"></div>
<div style="left:210px;top:18px;width:1px;height:13px;background:#62804a"></div>
<div style="left:210px;top:31px;width:1px;height:14px;background:#62804a"></div>
<div style="left:210px;top:45px;width:1px;height:13px;background:#62804a"></div>
<div style="left:210px;top:58px;width:1px;height:14px;background:#62804a"></div>
<div style="left:210px;top:72px;width:1px;height:13px;background:#62804a"></div>
<div style="left:210px;top:85px;width:1px;height:14px;background:#62804a"></div>
<div style="left:210px;top:99px;width:1px;height:13px;background:#62804a"></div>
<div style="left:210px;top:112px;width:1px;height:14px;background:#62804a"></div>
<div style="left:210px;top:126px;width:1px;height:13px;background:#62804a"></div>
<div style="left:210px;top:139px;width:1px;height:14px;background:#62804a"></div>
<div style="left:210px;top:153px;width:1px;height:13px;background:#62804a"></div>
<div style="left:210px;top:166px;width:1px;height:14px;background:#62804a"></div>
<div style="left:210px;top:180px;width:1px;height:13px;background:#62804a"></div>
<div style="left:210px;top:193px;width:1px;height:14px;background:#62804a"></div>
<div style="left:210px;top:207px;width:1px;height:13px;background:#62804a"></div>
<div style="left:210px;top:220px;width:1px;height:13px;background:#62804a"></div>
<div style="left:210px;top:233px;width:1px;height:14px;background:#62804a"></div>
<div style="left:210px;top:247px;width:1px;height:13px;background:#ababab"></div>
<div style="left:210px;top:260px;width:1px;height:14px;background:#ababab"></div>
<div style="left:210px;top:274px;width:1px;height:13px;background:#ababab"></div>
<div style="left:234px;top:5px;width:1px;height:13px;background:#62804a"></div>
<div style="left:234px;top:18px;width:1px;height:13px;background:#62804a"></div>
<div style="left:234px;top:31px;width:1px;height:14px;background:#62804a"></div>
<div style="left:234px;top:45px;width:1px;height:13px;background:#62804a"></div>
<div style="left:234px;top:58px;width:1px;height:14px;background:#62804a"></div>
<div style="left:234px;top:72px;width:1px;height:13px;background:#62804a"></div>
<div style="left:234px;top:85px;width:1px;height:14px;background:#62804a"></div>
<div style="left:234px;top:99px;width:1px;height:13px;background:#62804a"></div>
<div style="left:234px;top:112px;width:1px;height:14px;background:#62804a"></div>
<div style="left:234px;top:126px;width:1px;height:13px;background:#62804a"></div>
<div style="left:234px;top:139px;width:1px;height:14px;background:#62804a"></div>
<div style="left:234px;top:153px;width:1px;height:13px;background:#62804a"></div>
<div style="left:234px;top:166px;width:1px;height:14px;background:#62804a"></div>
<div style="left:234px;top:180px;width:1px;height:13px;background:#62804a"></div>
<div style="left:234px;top:193px;width:1px;height:14px;background:#62804a"></div>
<div style="left:234px;top:207px;width:1px;height:13px;background:#62804a"></div>
<div style="left:234px;top:220px;width:1px;height:13px;background:#62804a"></div>
<div style="left:234px;top:233px;width:1px;height:14px;background:#8c8c74"></div>
<div style="left:234px;top:247px;width:1px;height:13px;background:#ababab"></div>
<div style="left:234px;top:260px;width:1px;height:14px;background:#ababab"></div>
<div style="left:234px;top:274px;width:1px;height:13px;background:#ababab"></div>
<div style="left:258px;top:5px;width:1px;height:13px;background:#62804a"></div>
<div style="left:258px;top:18px;width:1px;height:13px;background:#62804a"></div>
<div style="left:258px;top:31px;width:1px;height:14px;background:#62804a"></div>
<div style="left:258px;top:45px;width:1px;height:13px;background:#62804a"></div>
<div style="left:258px;top:58px;width:1px;height:14px;background:#62804a"></div>
<div style="left:258px;top:72px;width:1px;height:13px;background:#62804a"></div>
<div style="left:258px;top:85px;width:1px;height:14px;background:#62804a"></div>
<div style="left:258px;top:99px;width:1px;height:13px;background:#62804a"></div>
<div style="left:258px;top:112px;width:1px;height:14px;background:#62804a"></div>
<div style="left:258px;top:126px;width:1px;height:13px;background:#62804a"></div>
<div style="left:258px;top:139px;width:1px;height:14px;background:#62804a"></div>
<div style="left:258px;top:153px;width:1px;height:13px;background:#62804a"></div>
<div style="left:258px;top:166px;width:1px;height:14px;background:#62804a"></div>
<div style="left:258px;top:180px;width:1px;height:13px;background:#62804a"></div>
<div style="left:258px;top:193px;width:1px;height:14px;background:#62804a"></div>
<div style="left:258px;top:207px;width:1px;height:13px;background:#62804a"></div>
<div style="left:258px;top:220px;width:1px;height:13px;background:#8c8c74"></div>
<div style="left:258px;top:233px;width:1px;height:14px;background:#ababab"></div>
<div style="left:258px;top:247px;width:1px;height:13px;background:#ababab"></div>
<div style="left:258px;top:260px;width:1px;height:14px;background:#ababab"></div>
<div style="left:258px;top:274px;width:1px;height:13px;background:#ababab"></div>
<div style="left:282px;top:5px;width:1px;height:13px;background:#62804a"></div>
<div style="left:282px;top:18px;width:1px;height:13px;background:#62804a"></div>
<div style="left:282px;top:31px;width:1px;height:14px;background:#62804a"></div>
<div style="left:282px;top:45px;width:1px;height:13px;background:#62804a"></div>
<div style="left:282px;top:58px;width:1px;height:14px;background:#62804a"></div>
<div style="left:282px;top:72px;width:1px;height:13px;background:#62804a"></div>
<div style="left:282px;top:85px;width:1px;height:14px;background:#62804a"></div>
<div style="left:282px;top:99px;width:1px;height:13px;background:#62804a"></div>
<div style="left:282px;top:112px;width:1px;height:14px;background:#62804a"></div>
<div style="left:282px;top:126px;width:1px;height:13px;background:#62804a"></div>
<div style="left:282px;top:139px;width:1px;height:14px;background:#62804a"></div>
<div style="left:282px;top:153px;width:1px;height:13px;background:#62804a"></div>
<div style="left:282px;top:166px;width:1px;height:14px;background:#62804a"></div>
<div style="left:282px;top:180px;width:1px;height:13px;background:#62804a"></div>
<div style="left:282px;top:193px;width:1px;height:14px;background:#62804a"></div>
<div style="left:282px;top:207px;width:1px;height:13px;background:#8c8c74"></div>
<div style="left:282px;top:220px;width:1px;height:13px;background:#ababab"></div>
<div style="left:282px;top:233px;width:1px;height:14px;background:#ababab"></div>
<div style="left:282px;top:247px;width:1px;height:13px;background:#ababab"></div>
<div style="left:282px;top:260px;width:1px;height:14px;background:#ababab"></div>
<div style="left:282px;top:274px;width:1px;height:13px;background:#8c8c74"></div>
<div style="left:306px;top:5px;width:1px;height:13px;background:#62804a"></div>
<div style="left:306px;top:18px;width:1px;height:13px;background:#62804a"></div>
<div style="left:306px;top:31px;width:1px;height:14px;background:#62804a"></div>
<div style="left:306px;top:45px;width:1px;height:13px;background:#62804a"></div>
<div style="left:306px;top:58px;width:1px;height:14px;background:#62804a"></div>
<div style="left:306px;top:72px;width:1px;height:13px;background:#62804a"></div>
<div style="left:306px;top:85px;width:1px;height:14px;background:#62804a"></div>
<div style="left:306px;top:99px;width:1px;height:13px;background:#62804a"></div>
<div style="left:306px;top:112px;width:1px;height:14px;background:#62804a"></div>
<div style="left:306px;top:126px;width:1px;height:13px;background:#62804a"></div>
<div style="left:306px;top:139px;width:1px;height:14px;background:#62804a"></div>
<div style="left:306px;top:153px;width:1px;height:13px;background:#62804a"></div>
<div style="left:306px;top:166px;width:1px;height:14px;background:#62804a"></div>
<div style="left:306px;top:180px;width:1px;height:13px;background:#62804a"></div>
<div style="left:306px;top:193px;width:1px;height:14px;background:#62804a"></div>
<div style="left:306px;top:207px;width:1px;height:13px;background:#ababab"></div>
<div style="left:306px;top:220px;width:1px;height:13px;background:#ababab"></div>
<div style="left:306px;top:233px;width:1px;height:14px;background:#ababab"></div>
<div style="left:306px;top:247px;width:1px;height:13px;background:#ababab"></div>
<div style="left:306px;top:260px;width:1px;height:14px;background:#8c8c74"></div>
<div style="left:306px;top:274px;width:1px;height:13px;background:#9e9272"></div>
<div style="left:330px;top:5px;width:1px;height:13px;background:#62804a"></div>
<div style="left:330px;top:18px;width:1px;height:13px;background:#62804a"></div>
<div style="left:330px;top:31px;width:1px;height:14px;background:#62804a"></div>
<div style="left:330px;top:45px;width:1px;height:13px;background:#62804a"></div>
<div style="left:330px;top:58px;width:1px;height:14px;background:#62804a"></div>
<div style="left:330px;top:72px;width:1px;height:13px;background:#62804a"></div>
<div style="left:330px;top:85px;width:1px;height:14px;background:#62804a"></div>
<div style="left:330px;top:99px;width:1px;height:13px;background:#62804a"></div>
<div style="left:330px;top:112px;width:1px;height:14px;background:#62804a"></div>
<div style="left:330px;top:126px;width:1px;height:13px;background:#62804a"></div>
<div style="left:330px;top:139px;width:1px;height:14px;background:#62804a"></div>
<div style="left:330px;top:153px;width:1px;height:13px;background:#62804a"></div>
<div style="left:330px;top:166px;width:1px;height:14px;background:#62804a"></div>
<div style="left:330px;top:180px;width:1px;height:13px;background:#62804a"></div>
<div style="left:330px;top:193px;width:1px;height:14px;background:#8c8c74"></div>
<div style="left:330px;top:207px;width:1px;height:13px;background:#ababab"></div>
<div style="left:330px;top:220px;width:1px;height:13px;background:#ababab"></div>
<div style="left:330px;top:233px;width:1px;height:14px;background:#ababab"></div>
<div style="left:330px;top:247px;width:1px;height:13px;background:#8c8c74"></div>
<div style="left:330px;top:260px;width:1px;height:14px;background:#9e9272"></div>
<div style="left:330px;top:274px;width:1px;height:13px;background:#9e9272"></div>
<div style="left:354px;top:5px;width:1px;height:13px;background:#62804a"></div>
<div style="left:354px;top:18px;width:1px;height:13px;background:#62804a"></div>
<div style="left:354px;top:31px;width:1px;height:14px;background:#62804a"></div>
<div style="left:354px;top:45px;width:1px;height:13px;background:#62804a"></div>
<div style="left:354px;top:58px;width:1px;height:14px;background:#62804a"></div>
<div style="left:354px;top:72px;width:1px;height:13px;background:#62804a"></div>
<div style="left:354px;top:85px;width:1px;height:14px;background:#62804a"></div>
<div style="left:354px;top:99px;width:1px;height:13px;background:#62804a"></div>
<div style="left:354px;top:112px;width:1px;height:14px;background:#62804a"></div>
<div style="left:354px;top:126px;width:1px;height:13px;background:#62804a"></div>
<div style="left:354px;top:139px;width:1px;height:14px;background:#62804a"></div>
<div style="left:354px;top:153px;width:1px;height:13px;background:#62804a"></div>
<div style="left:354px;top:166px;width:1px;height:14px;background:#62804a"></div>
<div style="left:354px;top:180px;width:1px;height:13px;background:#8c8c74"></div>
<div style="left:354px;top:193px;width:1px;height:14px;background:#ababab"></div>
<div style="left:354px;top:207px;width:1px;height:13px;background:#ababab"></div>
<div style="left:354px;top:220px;width:1px;height:13px;background:#ababab"></div>
<div style="left:354px;top:233px;width:1px;height:14px;background:#8c8c74"></div>
<div style="left:354px;top:247px;width:1px;height:13px;background:#9e9272"></div>
<div style="left:354px;top:260px;width:1px;height:14px;background:#9e9272"></div>
<div style="left:354px;top:274px;width:1px;height:13px;background:#9e9272"></div>
<div style="left:378px;top:5px;width:1px;height:13px;background:#62804a"></div>
<div style="left:378px;top:18px;width:1px;height:13px;background:#62804a"></div>
<div style="left:378px;top:31px;width:1px;height:14px;background:#62804a"></div>
<div style="left:378px;top:45px;width:1px;height:13px;background:#62804a"></div>
<div style="left:378px;top:58px;width:1px;height:14px;background:#62804a"></div>
<div style="left:378px;top:72px;width:1px;height:13px;background:#62804a"></div>
<div style="left:378px;top:85px;width:1px;height:14px;background:#62804a"></div>
<div style="left:378px;top:99px;width:1px;height:13px;background:#62804a"></div>
<div style="left:378px;top:112px;width:1px;height:14px;background:#62804a"></div>
<div style="left:378px;top:126px;width:1px;height:13px;background:#62804a"></div>
<div style="left:378px;top:139px;width:1px;height:14px;background:#62804a"></div>
<div style="left:378px;top:153px;width:1px;height:13px;background:#8c8c74"></div>
<div style="left:378px;top:166px;width:1px;height:14px;background:#8c8c74"></div>
<div style="left:378px;top:180px;width:1px;height:13px;background:#ababab"></div>
<div style="left:378px;top:193px;width:1px;height:14px;background:#ababab"></div>
<div style="left:378px;top:207px;width:1px;height:13px;background:#8c8c74"></div>
<div style="left:378px;top:220px;width:1px;height:13px;background:#8c8c74"></div>
<div style="left:378px;top:233px;width:1px;height:14px;background:#9e9272"></div>
<div style="left:378px;top:247px;width:1px;height:13px;background:#9e9272"></div>
<div style="left:378px;top:260px;width:1px;height:14px;background:#9e9272"></div>
<div style="left:378px;top:274px;width:1px;height:13px;background:#9e9272"></div>
<div style="left:402px;top:5px;width:1px;height:13px;background:#62804a"></div>
<div style="left:402px;top:18px;width:1px;height:13px;background:#62804a"></div>
<div style="left:402px;top:31px;width:1px;height:14px;background:#62804a"></div>
<div style="left:402px;top:45px;width:1px;height:13px;background:#62804a"></div>
<div style="left:402px;top:58px;width:1px;height:14px;background:#62804a"></div>
<div style="left:402px;top:72px;width:1px;height:13px;background:#62804a"></div>
<div style="left:402px;top:85px;width:1px;height:14px;background:#62804a"></div>
<div style="left:402px;top:99px;width:1px;height:13px;background:#62804a"></div>
<div style="left:402px;top:112px;width:1px;height:14px;background:#62804a"></div>
<div style="left:402px;top:126px;width:1px;height:13px;background:#62804a"></div>
<div style="left:402px;top:139px;width:1px;height:14px;background:#8c8c74"></div>
<div style="left:402px;top:153px;width:1px;height:13px;background:#ababab"></div>
<div style="left:402px;top:166px;width:1px;height:14px;background:#ababab"></div>
<div style="left:402px;top:180px;width:1px;height:13px;background:#8c8c74"></div>
<div style="left:402px;top:193px;width:1px;height:14px;background:#8c8c74"></div>
<div style="left:402px;top:207px;width:1px;height:13px;background:#9e9272"></div>
<div style="left:402px;top:220px;width:1px;height:13px;background:#9e9272"></div>
<div style="left:402px;top:233px;width:1px;height:14px;background:#9e9272"></div>
<div style="left:402px;top:247px;width:1px;height:13px;background:#9e9272"></div>
<div style="left:402px;top:260px;width:1px;height:14px;background:#9e9272"></div>
<div style="left:402px;top:274px;width:1px;height:13px;background:#9e9272"></div>
<div style="left:426px;top:5px;width:1px;height:13px;background:#62804a"></div>
<div style="left:426px;top:18px;width:1px;height:13px;background:#62804a"></div>
<div style="left:426px;top:31px;width:1px;height:14px;background:#62804a"></div>
<div style="left:426px;top:45px;width:1px;height:13px;background:#62804a"></div>
<div style="left:426px;top:58px;width:1px;height:14px;background:#62804a"></div>
<div style="left:426px;top:72px;width:1px;height:13px;background:#62804a"></div>
<div style="left:426px;top:85px;width:1px;height:14px;background:#62804a"></div>
<div style="left:426px;top:99px;width:1px;height:13px;background:#62804a"></div>
<div style="left:426px;top:112px;width:1px;height:14px;background:#8c8c74"></div>
<div style="left:426px;top:126px;width:1px;height:13px;background:#8c8c74"></div>
<div style="left:426px;top:139px;width:1px;height:14px;background:#ababab"></div>
<div style="left:426px;top:153px;width:1px;height:13px;background:#8c8c74"></div>
<div style="left:426px;top:166px;width:1px;height:14px;background:#8c8c74"></div>
<div style="left:426px;top:180px;width:1px;height:13px;background:#9e9272"></div>
<div style="left:426px;top:193px;width:1px;height:14px;background:#9e9272"></div>
<div style="left:426px;top:207px;width:1px;height:13px;background:#9e9272"></div>
<div style="left:426px;top:220px;width:1px;height:13px;background:#9e9272"></div>
<div style="left:426px;top:233px;width:1px;height:14px;background:#9e9272"></div>
<div style="left:426px;top:247px;width:1px;height:13px;background:#9e9272"></div>
<div style="left:426px;top:260px;width:1px;height:14px;background:#9e9272"></div>
<div style="left:426px;top:274px;width:1px;height:13px;background:#9e9272"></div>
<div style="left:450px;top:5px;width:1px;height:13px;background:#62804a"></div>
<div style="left:450px;top:18px;width:1px;height:13px;background:#62804a"></div>
<div style="left:450px;top:31px;width:1px;height:14px;background:#62804a"></div>
<div style="left:450px;top:45px;width:1px;height:13px;background:#62804a"></div>
<div style="left:450px;top:58px;width:1px;height:14px;background:#62804a"></div>
<div style="left:450px;top:72px;width:1px;height:13px;background:#62804a"></div>
<div style="left:450px;top:85px;width:1px;height:14px;background:#62804a"></div>
<div style="left:450px;top:99px;width:1px;height:13px;background:#8c8c74"></div>
<div style="left:450px;top:112px;width:1px;height:14px;background:#ababab"></div>
<div style="left:450px;top:126px;width:1px;height:13px;background:#8c8c74"></div>
<div style="left:450px;top:139px;width:1px;height:14px;background:#8c8c74"></div>
<div style="left:450px;top:153px;width:1px;height:13px;background:#9e9272"></div>
<div style="left:450px;top:166px;width:1px;height:14px;background:#9e9272"></div>
<div style="left:450px;top:180px;width:1px;height:13px;background:#9e9272"></div>
<div style="left:450px;top:193px;width:1px;height:14px;background:#9e9272"></div>
<div style="left:450px;top:207px;width:1px;height:13px;background:#9e9272"></div>
<div style="left:450px;top:220px;width:1px;height:13px;background:#9e9272"></div>
<div style="left:450px;top:233px;width:1px;height:14px;background:#9e9272"></div>
<div style="left:450px;top:247px;width:1px;height:13px;background:#9e9272"></div>
<div style="left:450px;top:260px;width:1px;height:14px;background:#9e9272"></div>
<div style="left:450px;top:274px;width:1px;height:13px;background:#9e9272"></div>
<div style="left:474px;top:5px;width:1px;height:13px;background:#62804a"></div>
<div style="left:474px;top:18px;width:1px;height:13px;background:#62804a"></div>
<div style="left:474px;top:31px;width:1px;height:14px;background:#62804a"></div>
<div style="left:474px;top:45px;width:1px;height:13px;background:#62804a"></div>
<div style="left:474px;top:58px;width:1px;height:14px;background:#8c8c74"></div>
<div style="left:474px;top:72px;width:1px;height:13px;background:#8c8c74"></div>
<div style="left:474px;top:85px;width:1px;height:14px;background:#8c8c74"></div>
<div style="left:474px;top:99px;width:1px;height:13px;background:#8c8c74"></div>
<div style="left:474px;top:112px;width:1px;height:14px;background:#8c8c74"></div>
<div style="left:474px;top:126px;width:1px;height:13px;background:#9e9272"></div>
<div style="left:474px;top:139px;width:1px;height:14px;background:#9e9272"></div>
<div style="left:474px;top:153px;width:1px;height:13px;background:#9e9272"></div>
<div style="left:474px;top:166px;width:1px;height:14px;background:#9e9272"></div>
<div style="left:474px;top:180px;width:1px;height:13px;background:#9e9272"></div>
<div style="left:474px;top:193px;width:1px;height:14px;background:#9e9272"></div>
<div style="left:474px;top:207px;width:1px;height:13px;background:#9e9272"></div>
<div style="left:474px;top:220px;width:1px;height:13px;background:#9e9272"></div>
<div style="left:474px;top:233px;width:1px;height:14px;background:#9e9272"></div>
<div style="left:474px;top:247px;width:1px;height:13px;background:#9e9272"></div>
<div style="left:474px;top:260px;width:1px;height:14px;background:#9e9272"></div>
<div style="left:474px;top:274px;width:1px;height:13px;background:#9e9272"></div>
<div style="left:498px;top:5px;width:1px;height:13px;background:#62804a"></div>
<div style="left:498px;top:18px;width:1px;height:13px;background:#62804a"></div>
<div style="left:498px;top:31px;width:1px;height:14px;background:#8c8c74"></div>
<div style="left:498px;top:45px;width:1px;height:13px;background:#8c8c74"></div>
<div style="left:498px;top:58px;width:1px;height:14px;background:#8c8c74"></div>
<div style="left:498px;top:72px;width:1px;height:13px;background:#8c8c74"></div>
<div style="left:498px;top:85px;width:1px;height:14px;background:#9e9272"></div>
<div style="left:498px;top:99px;width:1px;height:13px;background:#9e9272"></div>
<div style="left:498px;top:112px;width:1px;height:14px;background:#9e9272"></div>
<div style="left:498px;top:126px;width:1px;height:13px;background:#9e9272"></div>
<div style="left:498px;top:139px;width:1px;height:14px;background:#9e9272"></div>
<div style="left:498px;top:153px;width:1px;height:13px;background:#9e9272"></div>
<div style="left:498px;top:166px;width:1px;height:14px;background:#9e9272"></div>
<div style="left:498px;top:180px;width:1px;height:13px;background:#9e9272"></div>
<div style="left:498px;top:193px;width:1px;height:14px;background:#9e9272"></div>
<div style="left:498px;top:207px;width:1px;height:13px;background:#9e9272"></div>
<div style="left:498px;top:220px;width:1px;height:13px;background:#9e9272"></div>
<div style="left:498px;top:233px;width:1px;height:14px;background:#9e9272"></div>
<div style="left:498px;top:247px;width:1px;height:13px;background:#9e9272"></div>
<div style="left:498px;top:260px;width:1px;height:14px;background:#9e9272"></div>
<div style="left:498px;top:274px;width:1px;height:13px;background:#9e9272"></div>
<div style="left:522px;top:5px;width:1px;height:13px;background:#8c8c74"></div>
<div style="left:522px;top:18px;width:1px;height:13px;background:#8c8c74"></div>
<div style="left:522px;top:31px;width:1px;height:14px;background:#9e9272"></div>
<div style="left:522px;top:45px;width:1px;height:13px;background:#9e9272"></div>
<div style="left:522px;top:58px;width:1px;height:14px;background:#9e9272"></div>
<div style="left:522px;top:72px;width:1px;height:13px;background:#9e9272"></div>
<div style="left:522px;top:85px;width:1px;height:14px;background:#9e9272"></div>
<div style="left:522px;top:99px;width:1px;height:13px;background:#9e9272"></div>
<div style="left:522px;top:112px;width:1px;height:14px;background:#9e9272"></div>
<div style="left:522px;top:126px;width:1px;height:13px;background:#9e9272"></div>
<div style="left:522px;top:139px;width:1px;height:14px;background:#9e9272"></div>
<div style="left:522px;top:153px;width:1px;height:13px;background:#9e9272"></div>
<div style="left:522px;top:166px;width:1px;height:14px;background:#9e9272"></div>
<div style="left:522px;top:180px;width:1px;height:13px;background:#9e9272"></div>
<div style="left:522px;top:193px;width:1px;height:14px;background:#9e9272"></div>
<div style="left:522px;top:207px;width:1px;height:13px;background:#9e9272"></div>
<div style="left:522px;top:220px;width:1px;height:13px;background:#9e9272"></div>
<div style="left:522px;top:233px;width:1px;height:14px;background:#9e9272"></div>
<div style="left:522px;top:247px;width:1px;height:13px;background:#9e9272"></div>
<div style="left:522px;top:260px;width:1px;height:14px;background:#9e9272"></div>
<div style="left:522px;top:274px;width:1px;height:13px;background:#9e9272"></div>
<div style="left:42px;top:18px;width:24px;height:1px;background:#62804a"></div>
<div style="left:66px;top:18px;width:24px;height:1px;background:#62804a"></div>
<div style="left:90px;top:18px;width:24px;height:1px;background:#62804a"></div>
<div style="left:114px;top:18px;width:24px;height:1px;background:#62804a"></div>
<div style="left:138px;top:18px;width:24px;height:1px;background:#62804a"></div>
<div style="left:162px;top:18px;width:24px;height:1px;background:#62804a"></div>
<div style="left:186px;top:18px;width:24px;height:1px;background:#62804a"></div>
<div style="left:210px;top:18px;width:24px;height:1px;background:#62804a"></div>
<div style="left:234px;top:18px;width:24px;height:1px;background:#62804a"></div>
<div style="left:258px;top:18px;width:24px;height:1px;background:#62804a"></div>
<div style="left:282px;top:18px;width:24px;height:1px;background:#62804a"></div>
<div style="left:306px;top:18px;width:24px;height:1px;background:#62804a"></div>
<div style="left:330px;top:18px;width:24px;height:1px;background:#62804a"></div>
<div style="left:354px;top:18px;width:24px;height:1px;background:#62804a"></div>
<div style="left:378px;top:18px;width:24px;height:1px;background:#62804a"></div>
<div style="left:402px;top:18px;width:24px;height:1px;background:#62804a"></div>
<div style="left:426px;top:18px;width:24px;height:1px;background:#62804a"></div>
<div style="left:450px;top:18px;width:24px;height:1px;background:#62804a"></div>
<div style="left:474px;top:18px;width:24px;height:1px;background:#62804a"></div>
<div style="left:498px;top:18px;width:24px;height:1px;background:#62804a"></div>
<div style="left:522px;top:18px;width:24px;height:1px;background:#9e9272"></div>
<div style="left:42px;top:31px;width:24px;height:1px;background:#62804a"></div>
<div style="left:66px;top:31px;width:24px;height:1px;background:#62804a"></div>
<div style="left:90px;top:31px;width:24px;height:1px;background:#62804a"></div>
<div style="left:114px;top:31px;width:24px;height:1px;background:#62804a"></div>
<div style="left:138px;top:31px;width:24px;height:1px;background:#62804a"></div>
<div style="left:162px;top:31px;width:24px;height:1px;background:#62804a"></div>
<div style="left:186px;top:31px;width:24px;height:1px;background:#62804a"></div>
<div style="left:210px;top:31px;width:24px;height:1px;background:#62804a"></div>
<div style="left:234px;top:31px;width:24px;height:1px;background:#62804a"></div>
<div style="left:258px;top:31px;width:24px;height:1px;background:#62804a"></div>
<div style="left:282px;top:31px;width:24px;height:1px;background:#62804a"></div>
<div style="left:306px;top:31px;width:24px;height:1px;background:#62804a"></div>
<div style="left:330px;top:31px;width:24px;height:1px;background:#62804a"></div>
<div style="left:354px;top:31px;width:24px;height:1px;background:#62804a"></div>
<div style="left:378px;top:31px;width:24px;height:1px;background:#62804a"></div>
<div style="left:402px;top:31px;width:24px;height:1px;background:#62804a"></div>
<div style="left:426px;top:31px;width:24px;height:1px;background:#62804a"></div>
<div style="left:450px;top:31px;width:24px;height:1px;background:#62804a"></div>
<div style="left:474px;top:31px;width:24px;height:1px;background:#62804a"></div>
<div style="left:498px;top:31px;width:24px;height:1px;background:#8c8c74"></div>
<div style="left:522px;top:31px;width:24px;height:1px;background:#9e9272"></div>
<div style="left:42px;top:45px;width:24px;height:1px;background:#62804a"></div>
<div style="left:66px;top:45px;width:24px;height:1px;background:#62804a"></div>
<div style="left:90px;top:45px;width:24px;height:1px;background:#62804a"></div>
<div style="left:114px;top:45px;width:24px;height:1px;background:#62804a"></div>
<div style="left:138px;top:45px;width:24px;height:1px;background:#62804a"></div>
<div style="left:162px;top:45px;width:24px;height:1px;background:#62804a"></div>
<div style="left:186px;top:45px;width:24px;height:1px;background:#62804a"></div>
<div style="left:210px;top:45px;width:24px;height:1px;background:#62804a"></div>
<div style="left:234px;top:45px;width:24px;height:1px;background:#62804a"></div>
<div style="left:258px;top:45px;width:24px;height:1px;background:#62804a"></div>
<div style="left:282px;top:45px;width:24px;height:1px;background:#62804a"></div>
<div style="left:306px;top:45px;width:24px;height:1px;background:#62804a"></div>
<div style="left:330px;top:45px;width:24px;height:1px;background:#62804a"></div>
<div style="left:354px;top:45px;width:24px;height:1px;background:#62804a"></div>
<div style="left:378px;top:45px;width:24px;height:1px;background:#62804a"></div>
<div style="left:402px;top:45px;width:24px;height:1px;background:#62804a"></div>
<div style="left:426px;top:45px;width:24px;height:1px;background:#62804a"></div>
<div style="left:450px;top:45px;width:24px;height:1px;background:#62804a"></div>
<div style="left:474px;top:45px;width:24px;height:1px;background:#62804a"></div>
<div style="left:498px;top:45px;width:24px;height:1px;background:#9e9272"></div>
<div style="left:522px;top:45px;width:24px;height:1px;background:#9e9272"></div>
<div style="left:42px;top:58px;width:24px;height:1px;background:#62804a"></div>
<div style="left:66px;top:58px;width:24px;height:1px;background:#62804a"></div>
<div style="left:90px;top:58px;width:24px;height:1px;background:#62804a"></div>
<div style="left:114px;top:58px;width:24px;height:1px;background:#62804a"></div>
<div style="left:138px;top:58px;width:24px;height:1px;background:#62804a"></div>
<div style="left:162px;top:58px;width:24px;height:1px;background:#62804a"></div>
<div style="left:186px;top:58px;width:24px;height:1px;background:#62804a"></div>
<div style="left:210px;top:58px;width:24px;height:1px;background:#62804a"></div>
<div style="left:234px;top:58px;width:24px;height:1px;background:#62804a"></div>
<div style="left:258px;top:58px;width:24px;height:1px;background:#62804a"></div>
<div style="left:282px;top:58px;width:24px;height:1px;background:#62804a"></div>
<div style="left:306px;top:58px;width:24px;height:1px;background:#62804a"></div>
<div style="left:330px;top:58px;width:24px;height:1px;background:#62804a"></div>
<div style="left:354px;top:58px;width:24px;height:1px;background:#62804a"></div>
<div style="left:378px;top:58px;width:24px;height:1px;background:#62804a"></div>
<div style="left:402px;top:58px;width:24px;height:1px;background:#62804a"></div>
<div style="left:426px;top:58px;width:24px;height:1px;background:#62804a"></div>
<div style="left:450px;top:58px;width:24px;height:1px;background:#62804a"></div>
<div style="left:474px;top:58px;width:24px;height:1px;background:#8c8c74"></div>
<div style="left:498px;top:58px;width:24px;height:1px;background:#9e9272"></div>
<div style="left:522px;top:58px;width:24px;height:1px;background:#9e9272"></div>
<div style="left:42px;top:72px;width:24px;height:1px;background:#62804a"></div>
<div style="left:66px;top:72px;width:24px;height:1px;background:#62804a"></div>
<div style="left:90px;top:72px;width:24px;height:1px;background:#62804a"></div>
<div style="left:114px;top:72px;width:24px;height:1px;background:#62804a"></div>
<div style="left:138px;top:72px;width:24px;height:1px;background:#62804a"></div>
<div style="left:162px;top:72px;width:24px;height:1px;background:#62804a"></div>
<div style="left:186px;top:72px;width:24px;height:1px;background:#62804a"></div>
<div style="left:210px;top:72px;width:24px;height:1px;background:#62804a"></div>
<div style="left:234px;top:72px;width:24px;height:1px;background:#62804a"></div>
<div style="left:258px;top:72px;width:24px;height:1px;background:#62804a"></div>
<div style="left:282px;top:72px;width:24px;height:1px;background:#62804a"></div>
<div style="left:306px;top:72px;width:24px;height:1px;background:#62804a"></div>
<div style="left:330px;top:72px;width:24px;height:1px;background:#62804a"></div>
<div style="left:354px;top:72px;width:24px;height:1px;background:#62804a"></div>
<div style="left:378px;top:72px;width:24px;height:1px;background:#62804a"></div>
<div style="left:402px;top:72px;width:24px;height:1px;background:#62804a"></div>
<div style="left:426px;top:72px;width:24px;height:1px;background:#62804a"></div>
<div style="left:450px;top:72px;width:24px;height:1px;background:#62804a"></div>
<div style="left:474px;top:72px;width:24px;height:1px;background:#ababab"></div>
<div style="left:498px;top:72px;width:24px;height:1px;background:#9e9272"></div>
<div style="left:522px;top:72px;width:24px;height:1px;background:#9e9272"></div>
<div style="left:42px;top:85px;width:24px;height:1px;background:#62804a"></div>
<div style="left:66px;top:85px;width:24px;height:1px;background:#62804a"></div>
<div style="left:90px;top:85px;width:24px;height:1px;background:#62804a"></div>
<div style="left:114px;top:85px;width:24px;height:1px;background:#62804a"></div>
<div style="left:138px;top:85px;width:24px;height:1px;background:#62804a"></div>
<div style="left:162px;top:85px;width:24px;height:1px;background:#62804a"></div>
<div style="left:186px;top:85px;width:24px;height:1px;background:#62804a"></div>
<div style="left:210px;top:85px;width:24px;height:1px;background:#62804a"></div>
<div style="left:234px;top:85px;width:24px;height:1px;background:#62804a"></div>
<div style="left:258px;top:85px;width:24px;height:1px;background:#62804a"></div>
<div style="left:282px;top:85px;width:24px;height:1px;background:#62804a"></div>
<div style="left:306px;top:85px;width:24px;height:1px;background:#62804a"></div>
<div style="left:330px;top:85px;width:24px;height:1px;background:#62804a"></div>
<div style="left:354px;top:85px;width:24px;height:1px;background:#62804a"></div>
<div style="left:378px;top:85px;width:24px;height:1px;background:#62804a"></div>
<div style="left:402px;top:85px;width:24px;height:1px;background:#62804a"></div>
<div style="left:426px;top:85px;width:24px;height:1px;background:#62804a"></div>
<div style="left:450px;top:85px;width:24px;height:1px;background:#62804a"></div>
<div style="left:474px;top:85px;width:24px;height:1px;background:#8c8c74"></div>
<div style="left:498px;top:85px;width:24px;height:1px;background:#9e9272"></div>
<div style="left:522px;top:85px;width:24px;height:1px;background:#9e9272"></div>
<div style="left:42px;top:99px;width:24px;height:1px;background:#62804a"></div>
<div style="left:66px;top:99px;width:24px;height:1px;background:#62804a"></div>
<div style="left:90px;top:99px;width:24px;height:1px;background:#62804a"></div>
<div style="left:114px;top:99px;width:24px;height:1px;background:#62804a"></div>
<div style="left:138px;top:99px;width:24px;height:1px;background:#62804a"></div>
<div style="left:162px;top:99px;width:24px;height:1px;background:#62804a"></div>
<div style="left:186px;top:99px;width:24px;height:1px;background:#62804a"></div>
<div style="left:210px;top:99px;width:24px;height:1px;background:#62804a"></div>
<div style="left:234px;top:99px;width:24px;height:1px;background:#62804a"></div>
<div style="left:258px;top:99px;width:24px;height:1px;background:#62804a"></div>
<div style="left:282px;top:99px;width:24px;height:1px;background:#62804a"></div>
<div style="left:306px;top:99px;width:24px;height:1px;background:#62804a"></div>
<div style="left:330px;top:99px;width:24px;height:1px;background:#62804a"></div>
<div style="left:354px;top:99px;width:24px;height:1px;background:#62804a"></div>
<div style="left:378px;top:99px;width:24px;height:1px;background:#62804a"></div>
<div style="left:402px;top:99px;width:24px;height:1px;background:#62804a"></div>
<div style="left:426px;top:99px;width:24px;height:1px;background:#62804a"></div>
<div style="left:450px;top:99px;width:24px;height:1px;background:#8c8c74"></div>
<div style="left:474px;top:99px;width:24px;height:1px;background:#9e9272"></div>
<div style="left:498px;top:99px;width:24px;height:1px;background:#9e9272"></div>
<div style="left:522px;top:99px;width:24px;height:1px;background:#9e9272"></div>
<div style="left:42px;top:112px;width:24px;height:1px;background:#62804a"></div>
<div style="left:66px;top:112px;width:24px;height:1px;background:#62804a"></div>
<div style="left:90px;top:112px;width:24px;height:1px;background:#62804a"></div>
<div style="left:114px;top:112px;width:24px;height:1px;background:#62804a"></div>
<div style="left:138px;top:112px;width:24px;height:1px;background:#62804a"></div>
<div style="left:162px;top:112px;width:24px;height:1px;background:#62804a"></div>
<div style="left:186px;top:112px;width:24px;height:1px;background:#62804a"></div>
<div style="left:210px;top:112px;width:24px;height:1px;background:#62804a"></div>
<div style="left:234px;top:112px;width:24px;height:1px;background:#62804a"></div>
<div style="left:258px;top:112px;width:24px;height:1px;background:#62804a"></div>
<div style="left:282px;top:112px;width:24px;height:1px;background:#62804a"></div>
<div style="left:306px;top:112px;width:24px;height:1px;background:#62804a"></div>
<div style="left:330px;top:112px;width:24px;height:1px;background:#62804a"></div>
<div style="left:354px;top:112px;width:24px;height:1px;background:#62804a"></div>
<div style="left:378px;top:112px;width:24px;height:1px;background:#62804a"></div>
<div style="left:402px;top:112px;width:24px;height:1px;background:#62804a"></div>
<div style="left:426px;top:112px;width:24px;height:1px;background:#8c8c74"></div>
<div style="left:450px;top:112px;width:24px;height:1px;background:#ababab"></div>
<div style="left:474px;top:112px;width:24px;height:1px;background:#9e9272"></div>
<div style="left:498px;top:112px;width:24px;height:1px;background:#9e9272"></div>
<div style="left:522px;top:112px;width:24px;height:1px;background:#9e9272"></div>
<div style="left:42px;top:126px;width:24px;height:1px;background:#62804a"></div>
<div style="left:66px;top:126px;width:24px;height:1px;background:#62804a"></div>
<div style="left:90px;top:126px;width:24px;height:1px;background:#62804a"></div>
<div style="left:114px;top:126px;width:24px;height:1px;background:#62804a"></div>
<div style="left:138px;top:126px;width:24px;height:1px;background:#62804a"></div>
<div style="left:162px;top:126px;width:24px;height:1px;background:#62804a"></div>
<div style="left:186px;top:126px;width:24px;height:1px;background:#62804a"></div>
<div style="left:210px;top:126px;width:24px;height:1px;background:#62804a"></div>
<div style="left:234px;top:126px;width:24px;height:1px;background:#62804a"></div>
<div style="left:258px;top:126px;width:24px;height:1px;background:#62804a"></div>
<div style="left:282px;top:126px;width:24px;height:1px;background:#62804a"></div>
<div style="left:306px;top:126px;width:24px;height:1px;background:#62804a"></div>
<div style="left:330px;top:126px;width:24px;height:1px;background:#62804a"></div>
<div style="left:354px;top:126px;width:24px;height:1px;background:#62804a"></div>
<div style="left:378px;top:126px;width:24px;height:1px;background:#62804a"></div>
<div style="left:402px;top:126px;width:24px;height:1px;background:#62804a"></div>
<div style="left:426px;top:126px;width:24px;height:1px;background:#ababab"></div>
<div style="left:450px;top:126px;width:24px;height:1px;background:#8c8c74"></div>
<div style="left:474px;top:126px;width:24px;height:1px;background:#9e9272"></div>
<div style="left:498px;top:126px;width:24px;height:1px;background:#9e9272"></div>
<div style="left:522px;top:126px;width:24px;height:1px;background:#9e9272"></div>
<div style="left:42px;top:139px;width:24px;height:1px;background:#62804a"></div>
<div style="left:66px;top:139px;width:24px;height:1px;background:#62804a"></div>
<div style="left:90px;top:139px;width:24px;height:1px;background:#62804a"></div>
<div style="left:114px;top:139px;width:24px;height:1px;background:#62804a"></div>
<div style="left:138px;top:139px;width:24px;height:1px;background:#62804a"></div>
<div style="left:162px;top:139px;width:24px;height:1px;background:#62804a"></div>
<div style="left:186px;top:139px;width:24px;height:1px;background:#62804a"></div>
<div style="left:210px;top:139px;width:24px;height:1px;background:#62804a"></div>
<div style="left:234px;top:139px;width:24px;height:1px;background:#62804a"></div>
<div style="left:258px;top:139px;width:24px;height:1px;background:#62804a"></div>
<div style="left:282px;top:139px;width:24px;height:1px;background:#62804a"></div>
<div style="left:306px;top:139px;width:24px;height:1px;background:#62804a"></div>
<div style="left:330px;top:139px;width:24px;height:1px;background:#62804a"></div>
<div style="left:354px;top:139px;width:24px;height:1px;background:#62804a"></div>
<div style="left:378px;top:139px;width:24px;height:1px;background:#62804a"></div>
<div style="left:402px;top:139px;width:24px;height:1px;background:#8c8c74"></div>
<div style="left:426px;top:139px;width:24px;height:1px;background:#ababab"></div>
<div style="left:450px;top:139px;width:24px;height:1px;background:#9e9272"></div>
<div style="left:474px;top:139px;width:24px;height:1px;background:#9e9272"></div>
<div style="left:498px;top:139px;width:24px;height:1px;background:#9e9272"></div>
<div style="left:522px;top:139px;width:24px;height:1px;background:#9e9272"></div>
<div style="left:42px;top:153px;width:24px;height:1px;background:#62804a"></div>
<div style="left:66px;top:153px;width:24px;height:1px;background:#62804a"></div>
<div style="left:90px;top:153px;width:24px;height:1px;background:#62804a"></div>
<div style="left:114px;top:153px;width:24px;height:1px;background:#62804a"></div>
<div style="left:138px;top:153px;width:24px;height:1px;background:#62804a"></div>
<div style="left:162px;top:153px;width:24px;height:1px;background:#62804a"></div>
<div style="left:186px;top:153px;width:24px;height:1px;background:#62804a"></div>
<div style="left:210px;top:153px;width:24px;height:1px;background:#62804a"></div>
<div style="left:234px;top:153px;width:24px;height:1px;background:#62804a"></div>
<div style="left:258px;top:153px;width:24px;height:1px;background:#62804a"></div>
<div style="left:282px;top:153px;width:24px;height:1px;background:#62804a"></div>
<div style="left:306px;top:153px;width:24px;height:1px;background:#62804a"></div>
<div style="left:330px;top:153px;width:24px;height:1px;background:#62804a"></div>
<div style="left:354px;top:153px;width:24px;height:1px;background:#62804a"></div>
<div style="left:378px;top:153px;width:24px;height:1px;background:#8c8c74"></div>
<div style="left:402px;top:153px;width:24px;height:1px;background:#ababab"></div>
<div style="left:426px;top:153px;width:24px;height:1px;background:#8c8c74"></div>
<div style="left:450px;top:153px;width:24px;height:1px;background:#9e9272"></div>
<div style="left:474px;top:153px;width:24px;height:1px;background:#9e9272"></div>
<div style="left:498px;top:153px;width:24px;height:1px;background:#9e9272"></div>
<div style="left:522px;top:153px;width:24px;height:1px;background:#9e9272"></div>
<div style="left:42px;top:166px;width:24px;height:1px;background:#62804a"></div>
<div style="left:66px;top:166px;width:24px;height:1px;background:#62804a"></div>
<div style="left:90px;top:166px;width:24px;height:1px;background:#62804a"></div>
<div style="left:114px;top:166px;width:24px;height:1px;background:#62804a"></div>
<div style="left:138px;top:166px;width:24px;height:1px;background:#62804a"></div>
<div style="left:162px;top:166px;width:24px;height:1px;background:#62804a"></div>
<div style="left:186px;top:166px;width:24px;height:1px;background:#62804a"></div>
<div style="left:210px;top:166px;width:24px;height:1px;background:#62804a"></div>
<div style="left:234px;top:166px;width:24px;height:1px;background:#62804a"></div>
<div style="left:258px;top:166px;width:24px;height:1px;background:#62804a"></div>
<div style="left:282px;top:166px;width:24px;height:1px;background:#62804a"></div>
<div style="left:306px;top:166px;width:24px;height:1px;background:#62804a"></div>
<div style="left:330px;top:166px;width:24px;height:1px;background:#62804a"></div>
<div style="left:354px;top:166px;width:24px;height:1px;background:#62804a"></div>
<div style="left:378px;top:166px;width:24px;height:1px;background:#ababab"></div>
<div style="left:402px;top:166px;width:24px;height:1px;background:#ababab"></div>
<div style="left:426px;top:166px;width:24px;height:1px;background:#9e9272"></div>
<div style="left:450px;top:166px;width:24px;height:1px;background:#9e9272"></div>
<div style="left:474px;top:166px;width:24px;height:1px;background:#9e9272"></div>
<div style="left:498px;top:166px;width:24px;height:1px;background:#9e9272"></div>
<div style="left:522px;top:166px;width:24px;height:1px;background:#9e9272"></div>
<div style="left:42px;top:180px;width:24px;height:1px;background:#62804a"></div>
<div style="left:66px;top:180px;width:24px;height:1px;background:#62804a"></div>
<div style="left:90px;top:180px;width:24px;height:1px;background:#62804a"></div>
<div style="left:114px;top:180px;width:24px;height:1px;background:#62804a"></div>
<div style="left:138px;top:180px;width:24px;height:1px;background:#62804a"></div>
<div style="left:162px;top:180px;width:24px;height:1px;background:#62804a"></div>
<div style="left:186px;top:180px;width:24px;height:1px;background:#62804a"></div>
<div style="left:210px;top:180px;width:24px;height:1px;background:#62804a"></div>
<div style="left:234px;top:180px;width:24px;height:1px;background:#62804a"></div>
<div style="left:258px;top:180px;width:24px;height:1px;background:#62804a"></div>
<div style="left:282px;top:180px;width:24px;height:1px;background:#62804a"></div>
<div style="left:306px;top:180px;width:24px;height:1px;background:#62804a"></div>
<div style="left:330px;top:180px;width:24px;height:1px;background:#62804a"></div>
<div style="left:354px;top:180px;width:24px;height:1px;background:#8c8c74"></div>
<div style="left:378px;top:180px;width:24px;height:1px;background:#ababab"></div>
<div style="left:402px;top:180px;width:24px;height:1px;background:#8c8c74"></div>
<div style="left:426px;top:180px;width:24px;height:1px;background:#9e9272"></div>
<div style="left:450px;top:180px;width:24px;height:1px;background:#9e9272"></div>
<div style="left:474px;top:180px;width:24px;height:1px;background:#9e9272"></div>
<div style="left:498px;top:180px;width:24px;height:1px;background:#9e9272"></div>
<div style="left:522px;top:180px;width:24px;height:1px;background:#9e9272"></div>
<div style="left:42px;top:193px;width:24px;height:1px;background:#62804a"></div>
<div style="left:66px;top:193px;width:24px;height:1px;background:#62804a"></div>
<div style="left:90px;top:193px;width:24px;height:1px;background:#62804a"></div>
<div style="left:114px;top:193px;width:24px;height:1px;background:#62804a"></div>
<div style="left:138px;top:193px;width:24px;height:1px;background:#62804a"></div>
<div style="left:162px;top:193px;width:24px;height:1px;background:#62804a"></div>
<div style="left:186px;top:193px;width:24px;height:1px;background:#62804a"></div>
<div style="left:210px;top:193px;width:24px;height:1px;background:#62804a"></div>
<div style="left:234px;top:193px;width:24px;height:1px;background:#62804a"></div>
<div style="left:258px;top:193px;width:24px;height:1px;background:#62804a"></div>
<div style="left:282px;top:193px;width:24px;height:1px;background:#62804a"></div>
<div style="left:306px;top:193px;width:24px;height:1px;background:#62804a"></div>
<div style="left:330px;top:193px;width:24px;height:1px;background:#8c8c74"></div>
<div style="left:354px;top:193px;width:24px;height:1px;background:#ababab"></div>
<div style="left:378px;top:193px;width:24px;height:1px;background:#ababab"></div>
<div style="left:402px;top:193px;width:24px;height:1px;background:#9e9272"></div>
<div style="left:426px;top:193px;width:24px;height:1px;background:#9e9272"></div>
<div style="left:450px;top:193px;width:24px;height:1px;background:#9e9272"></div>
<div style="left:474px;top:193px;width:24px;height:1px;background:#9e9272"></div>
<div style="left:498px;top:193px;width:24px;height:1px;background:#9e9272"></div>
<div style="left:522px;top:193px;width:24px;height:1px;background:#9e9272"></div>
<div style="left:42px;top:207px;width:24px;height:1px;background:#62804a"></div>
<div style="left:66px;top:207px;width:24px;height:1px;background:#62804a"></div>
<div style="left:90px;top:207px;width:24px;height:1px;background:#62804a"></div>
<div style="left:114px;top:207px;width:24px;height:1px;background:#62804a"></div>
<div style="left:138px;top:207px;width:24px;height:1px;background:#62804a"></div>
<div style="left:162px;top:207px;width:24px;height:1px;background:#62804a"></div>
<div style="left:186px;top:207px;width:24px;height:1px;background:#62804a"></div>
<div style="left:210px;top:207px;width:24px;height:1px;background:#62804a"></div>
<div style="left:234px;top:207px;width:24px;height:1px;background:#62804a"></div>
<div style="left:258px;top:207px;width:24px;height:1px;background:#62804a"></div>
<div style="left:282px;top:207px;width:24px;height:1px;background:#8c8c74"></div>
<div style="left:306px;top:207px;width:24px;height:1px;background:#8c8c74"></div>
<div style="left:330px;top:207px;width:24px;height:1px;background:#ababab"></div>
<div style="left:354px;top:207px;width:24px;height:1px;background:#ababab"></div>
<div style="left:378px;top:207px;width:24px;height:1px;background:#8c8c74"></div>
<div style="left:402px;top:207px;width:24px;height:1px;background:#9e9272"></div>
<div style="left:426px;top:207px;width:24px;height:1px;background:#9e9272"></div>
<div style="left:450px;top:207px;width:24px;height:1px;background:#9e9272"></div>
<div style="left:474px;top:207px;width:24px;height:1px;background:#9e9272"></div>
<div style="left:498px;top:207px;width:24px;height:1px;background:#9e9272"></div>
<div style="left:522px;top:207px;width:24px;height:1px;background:#9e9272"></div>
<div style="left:42px;top:220px;width:24px;height:1px;background:#62804a"></div>
<div style="left:66px;top:220px;width:24px;height:1px;background:#62804a"></div>
<div style="left:90px;top:220px;width:24px;height:1px;background:#62804a"></div>
<div style="left:114px;top:220px;width:24px;height:1px;background:#62804a"></div>
<div style="left:138px;top:220px;width:24px;height:1px;background:#62804a"></div>
<div style="left:162px;top:220px;width:24px;height:1px;background:#62804a"></div>
<div style="left:186px;top:220px;width:24px;height:1px;background:#62804a"></div>
<div style="left:210px;top:220px;width:24px;height:1px;background:#62804a"></div>
<div style="left:234px;top:220px;width:24px;height:1px;background:#62804a"></div>
<div style="left:258px;top:220px;width:24px;height:1px;background:#8c8c74"></div>
<div style="left:282px;top:220px;width:24px;height:1px;background:#ababab"></div>
<div style="left:306px;top:220px;width:24px;height:1px;background:#ababab"></div>
<div style="left:330px;top:220px;width:24px;height:1px;background:#ababab"></div>
<div style="left:354px;top:220px;width:24px;height:1px;background:#ababab"></div>
<div style="left:378px;top:220px;width:24px;height:1px;background:#9e9272"></div>
<div style="left:402px;top:220px;width:24px;height:1px;background:#9e9272"></div>
<div style="left:426px;top:220px;width:24px;height:1px;background:#9e9272"></div>
<div style="left:450px;top:220px;width:24px;height:1px;background:#9e9272"></div>
<div style="left:474px;top:220px;width:24px;height:1px;background:#9e9272"></div>
<div style="left:498px;top:220px;width:24px;height:1px;background:#9e9272"></div>
<div style="left:522px;top:220px;width:24px;height:1px;background:#9e9272"></div>
<div style="left:42px;top:233px;width:24px;height:1px;background:#62804a"></div>
<div style="left:66px;top:233px;width:24px;height:1px;background:#62804a"></div>
<div style="left:90px;top:233px;width:24px;height:1px;background:#62804a"></div>
<div style="left:114px;top:233px;width:24px;height:1px;background:#62804a"></div>
<div style="left:138px;top:233px;width:24px;height:1px;background:#62804a"></div>
<div style="left:162px;top:233px;width:24px;height:1px;background:#62804a"></div>
<div style="left:186px;top:233px;width:24px;height:1px;background:#62804a"></div>
<div style="left:210px;top:233px;width:24px;height:1px;background:#62804a"></div>
<div style="left:234px;top:233px;width:24px;height:1px;background:#8c8c74"></div>
<div style="left:258px;top:233px;width:24px;height:1px;background:#ababab"></div>
<div style="left:282px;top:233px;width:24px;height:1px;background:#ababab"></div>
<div style="left:306px;top:233px;width:24px;height:1px;background:#ababab"></div>
<div style="left:330px;top:233px;width:24px;height:1px;background:#ababab"></div>
<div style="left:354px;top:233px;width:24px;height:1px;background:#8c8c74"></div>
<div style="left:378px;top:233px;width:24px;height:1px;background:#9e9272"></div>
<div style="left:402px;top:233px;width:24px;height:1px;background:#9e9272"></div>
<div style="left:426px;top:233px;width:24px;height:1px;background:#9e9272"></div>
<div style="left:450px;top:233px;width:24px;height:1px;background:#9e9272"></div>
<div style="left:474px;top:233px;width:24px;height:1px;background:#9e9272"></div>
<div style="left:498px;top:233px;width:24px;height:1px;background:#9e9272"></div>
<div style="left:522px;top:233px;width:24px;height:1px;background:#9e9272"></div>
<div style="left:42px;top:247px;width:24px;height:1px;background:#62804a"></div>
<div style="left:66px;top:247px;width:24px;height:1px;background:#62804a"></div>
<div style="left:90px;top:247px;width:24px;height:1px;background:#62804a"></div>
<div style="left:114px;top:247px;width:24px;height:1px;background:#62804a"></div>
<div style="left:138px;top:247px;width:24px;height:1px;background:#62804a"></div>
<div style="left:162px;top:247px;width:24px;height:1px;background:#62804a"></div>
<div style="left:186px;top:247px;width:24px;height:1px;background:#8c8c74"></div>
<div style="left:210px;top:247px;width:24px;height:1px;background:#8c8c74"></div>
<div style="left:234px;top:247px;width:24px;height:1px;background:#ababab"></div>
<div style="left:258px;top:247px;width:24px;height:1px;background:#ababab"></div>
<div style="left:282px;top:247px;width:24px;height:1px;background:#ababab"></div>
<div style="left:306px;top:247px;width:24px;height:1px;background:#ababab"></div>
<div style="left:330px;top:247px;width:24px;height:1px;background:#8c8c74"></div>
<div style="left:354px;top:247px;width:24px;height:1px;background:#9e9272"></div>
<div style="left:378px;top:247px;width:24px;height:1px;background:#9e9272"></div>
<div style="left:402px;top:247px;width:24px;height:1px;background:#9e9272"></div>
<div style="left:426px;top:247px;width:24px;height:1px;background:#9e9272"></div>
<div style="left:450px;top:247px;width:24px;height:1px;background:#9e9272"></div>
<div style="left:474px;top:247px;width:24px;height:1px;background:#9e9272"></div>
<div style="left:498px;top:247px;width:24px;height:1px;background:#9e9272"></div>
<div style="left:522px;top:247px;width:24px;height:1px;background:#9e9272"></div>
<div style="left:42px;top:260px;width:24px;height:1px;background:#62804a"></div>
<div style="left:66px;top:260px;width:24px;height:1px;background:#62804a"></div>
<div style="left:90px;top:260px;width:24px;height:1px;background:#62804a"></div>
<div style="left:114px;top:260px;width:24px;height:1px;background:#62804a"></div>
<div style="left:138px;top:260px;width:24px;height:1px;background:#62804a"></div>
<div style="left:162px;top:260px;width:24px;height:1px;background:#8c8c74"></div>
<div style="left:186px;top:260px;width:24px;height:1px;background:#ababab"></div>
<div style="left:210px;top:260px;width:24px;height:1px;background:#ababab"></div>
<div style="left:234px;top:260px;width:24px;height:1px;background:#ababab"></div>
<div style="left:258px;top:260px;width:24px;height:1px;background:#ababab"></div>
<div style="left:282px;top:260px;width:24px;height:1px;background:#ababab"></div>
<div style="left:306px;top:260px;width:24px;height:1px;background:#8c8c74"></div>
<div style="left:330px;top:260px;width:24px;height:1px;background:#9e9272"></div>
<div style="left:354px;top:260px;width:24px;height:1px;background:#9e9272"></div>
<div style="left:378px;top:260px;width:24px;height:1px;background:#9e9272"></div>
<div style="left:402px;top:260px;width:24px;height:1px;background:#9e9272"></div>
<div style="left:426px;top:260px;width:24px;height:1px;background:#9e9272"></div>
<div style="left:450px;top:260px;width:24px;height:1px;background:#9e9272"></div>
<div style="left:474px;top:260px;width:24px;height:1px;background:#9e9272"></div>
<div style="left:498px;top:260px;width:24px;height:1px;background:#9e9272"></div>
<div style="left:522px;top:260px;width:24px;height:1px;background:#9e9272"></div>
<div style="left:42px;top:274px;width:24px;height:1px;background:#62804a"></div>
<div style="left:66px;top:274px;width:24px;height:1px;background:#62804a"></div>
<div style="left:90px;top:274px;width:24px;height:1px;background:#62804a"></div>
<div style="left:114px;top:274px;width:24px;height:1px;background:#8c8c74"></div>
<div style="left:138px;top:274px;width:24px;height:1px;background:#8c8c74"></div>
<div style="left:162px;top:274px;width:24px;height:1px;background:#ababab"></div>
<div style="left:186px;top:274px;width:24px;height:1px;background:#ababab"></div>
<div style="left:210px;top:274px;width:24px;height:1px;background:#ababab"></div>
<div style="left:234px;top:274px;width:24px;height:1px;background:#ababab"></div>
<div style="left:258px;top:274px;width:24px;height:1px;background:#ababab"></div>
<div style="left:282px;top:274px;width:24px;height:1px;background:#8c8c74"></div>
<div style="left:306px;top:274px;width:24px;height:1px;background:#9e9272"></div>
<div style="left:330px;top:274px;width:24px;height:1px;background:#9e9272"></div>
<div style="left:354px;top:274px;width:24px;height:1px;background:#9e9272"></div>
<div style="left:378px;top:274px;width:24px;height:1px;background:#9e9272"></div>
<div style="left:402px;top:274px;width:24px;height:1px;background:#9e9272"></div>
<div style="left:426px;top:274px;width:24px;height:1px;background:#9e9272"></div>
<div style="left:450px;top:274px;width:24px;height:1px;background:#9e9272"></div>
<div style="left:474px;top:274px;width:24px;height:1px;background:#9e9272"></div>
<div style="left:498px;top:274px;width:24px;height:1px;background:#9e9272"></div>
<div style="left:522px;top:274px;width:24px;height:1px;background:#9e9272"></div>
<div class="L">
<div class="t b" style="left:22.00px;width:64.00px;top:12.26px;font-size:6.6px;line-height:6.6px;text-align:center;transform:scaleX(0.98);color:#0a1a05;">111.000</div>
<div class="t b" style="left:46.00px;width:64.00px;top:12.26px;font-size:6.6px;line-height:6.6px;text-align:center;transform:scaleX(0.98);color:#0a1a05;">111.000</div>
<div class="t b" style="left:70.00px;width:64.00px;top:12.26px;font-size:6.6px;line-height:6.6px;text-align:center;transform:scaleX(0.98);color:#0a1a05;">111.000</div>
<div class="t b" style="left:94.00px;width:64.00px;top:12.26px;font-size:6.6px;line-height:6.6px;text-align:center;transform:scaleX(0.98);color:#0a1a05;">111.000</div>
<div class="t b" style="left:118.00px;width:64.00px;top:12.26px;font-size:6.6px;line-height:6.6px;text-align:center;transform:scaleX(0.98);color:#0a1a05;">111.000</div>
<div class="t b" style="left:142.00px;width:64.00px;top:12.26px;font-size:6.6px;line-height:6.6px;text-align:center;transform:scaleX(0.98);color:#0a1a05;">111.000</div>
<div class="t b" style="left:166.00px;width:64.00px;top:12.26px;font-size:6.6px;line-height:6.6px;text-align:center;transform:scaleX(0.98);color:#0a1a05;">111.000</div>
<div class="t b" style="left:190.00px;width:64.00px;top:12.26px;font-size:6.6px;line-height:6.6px;text-align:center;transform:scaleX(0.98);color:#0a1a05;">111.000</div>
<div class="t b" style="left:214.00px;width:64.00px;top:12.26px;font-size:6.6px;line-height:6.6px;text-align:center;transform:scaleX(0.98);color:#0a1a05;">111.000</div>
<div class="t b" style="left:238.00px;width:64.00px;top:12.26px;font-size:6.6px;line-height:6.6px;text-align:center;transform:scaleX(0.98);color:#0a1a05;">111.000</div>
<div class="t b" style="left:262.00px;width:64.00px;top:12.26px;font-size:6.6px;line-height:6.6px;text-align:center;transform:scaleX(0.98);color:#0a1a05;">111.000</div>
<div class="t b" style="left:286.00px;width:64.00px;top:12.26px;font-size:6.6px;line-height:6.6px;text-align:center;transform:scaleX(0.98);color:#0a1a05;">111.000</div>
<div class="t b" style="left:310.00px;width:64.00px;top:12.26px;font-size:6.6px;line-height:6.6px;text-align:center;transform:scaleX(0.98);color:#0a1a05;">111.000</div>
<div class="t b" style="left:334.00px;width:64.00px;top:12.26px;font-size:6.6px;line-height:6.6px;text-align:center;transform:scaleX(0.98);color:#0a1a05;">111.000</div>
<div class="t b" style="left:358.00px;width:64.00px;top:12.26px;font-size:6.6px;line-height:6.6px;text-align:center;transform:scaleX(0.98);color:#0a1a05;">111.000</div>
<div class="t b" style="left:382.00px;width:64.00px;top:12.26px;font-size:6.6px;line-height:6.6px;text-align:center;transform:scaleX(0.98);color:#0a1a05;">111.000</div>
<div class="t b" style="left:406.00px;width:64.00px;top:12.26px;font-size:6.6px;line-height:6.6px;text-align:center;transform:scaleX(0.98);color:#0a1a05;">111.000</div>
<div class="t b" style="left:430.00px;width:64.00px;top:12.26px;font-size:6.6px;line-height:6.6px;text-align:center;transform:scaleX(0.98);color:#0a1a05;">111.000</div>
<div class="t b" style="left:454.00px;width:64.00px;top:12.26px;font-size:6.6px;line-height:6.6px;text-align:center;transform:scaleX(0.98);color:#0a1a05;">111.000</div>
<div class="t b" style="left:478.00px;width:64.00px;top:12.26px;font-size:6.6px;line-height:6.6px;text-align:center;transform:scaleX(0.98);color:#0a1a05;">111.000</div>
<div class="t b" style="left:502.00px;width:64.00px;top:12.26px;font-size:6.6px;line-height:6.6px;text-align:center;transform:scaleX(0.98);color:#433d28;">0.111</div>
<div class="t b" style="left:22.00px;width:64.00px;top:25.26px;font-size:6.6px;line-height:6.6px;text-align:center;transform:scaleX(0.98);color:#0a1a05;">111.000</div>
<div class="t b" style="left:46.00px;width:64.00px;top:25.26px;font-size:6.6px;line-height:6.6px;text-align:center;transform:scaleX(0.98);color:#0a1a05;">111.000</div>
<div class="t b" style="left:70.00px;width:64.00px;top:25.26px;font-size:6.6px;line-height:6.6px;text-align:center;transform:scaleX(0.98);color:#0a1a05;">111.000</div>
<div class="t b" style="left:94.00px;width:64.00px;top:25.26px;font-size:6.6px;line-height:6.6px;text-align:center;transform:scaleX(0.98);color:#0a1a05;">111.000</div>
<div class="t b" style="left:118.00px;width:64.00px;top:25.26px;font-size:6.6px;line-height:6.6px;text-align:center;transform:scaleX(0.98);color:#0a1a05;">111.000</div>
<div class="t b" style="left:142.00px;width:64.00px;top:25.26px;font-size:6.6px;line-height:6.6px;text-align:center;transform:scaleX(0.98);color:#0a1a05;">111.000</div>
<div class="t b" style="left:166.00px;width:64.00px;top:25.26px;font-size:6.6px;line-height:6.6px;text-align:center;transform:scaleX(0.98);color:#0a1a05;">111.000</div>
<div class="t b" style="left:190.00px;width:64.00px;top:25.26px;font-size:6.6px;line-height:6.6px;text-align:center;transform:scaleX(0.98);color:#0a1a05;">111.000</div>
<div class="t b" style="left:214.00px;width:64.00px;top:25.26px;font-size:6.6px;line-height:6.6px;text-align:center;transform:scaleX(0.98);color:#0a1a05;">111.000</div>
<div class="t b" style="left:238.00px;width:64.00px;top:25.26px;font-size:6.6px;line-height:6.6px;text-align:center;transform:scaleX(0.98);color:#0a1a05;">111.000</div>
<div class="t b" style="left:262.00px;width:64.00px;top:25.26px;font-size:6.6px;line-height:6.6px;text-align:center;transform:scaleX(0.98);color:#0a1a05;">111.000</div>
<div class="t b" style="left:286.00px;width:64.00px;top:25.26px;font-size:6.6px;line-height:6.6px;text-align:center;transform:scaleX(0.98);color:#0a1a05;">111.000</div>
<div class="t b" style="left:310.00px;width:64.00px;top:25.26px;font-size:6.6px;line-height:6.6px;text-align:center;transform:scaleX(0.98);color:#0a1a05;">111.000</div>
<div class="t b" style="left:334.00px;width:64.00px;top:25.26px;font-size:6.6px;line-height:6.6px;text-align:center;transform:scaleX(0.98);color:#0a1a05;">111.000</div>
<div class="t b" style="left:358.00px;width:64.00px;top:25.26px;font-size:6.6px;line-height:6.6px;text-align:center;transform:scaleX(0.98);color:#0a1a05;">111.000</div>
<div class="t b" style="left:382.00px;width:64.00px;top:25.26px;font-size:6.6px;line-height:6.6px;text-align:center;transform:scaleX(0.98);color:#0a1a05;">111.000</div>
<div class="t b" style="left:406.00px;width:64.00px;top:25.26px;font-size:6.6px;line-height:6.6px;text-align:center;transform:scaleX(0.98);color:#0a1a05;">111.000</div>
<div class="t b" style="left:430.00px;width:64.00px;top:25.26px;font-size:6.6px;line-height:6.6px;text-align:center;transform:scaleX(0.98);color:#0a1a05;">111.000</div>
<div class="t b" style="left:454.00px;width:64.00px;top:25.26px;font-size:6.6px;line-height:6.6px;text-align:center;transform:scaleX(0.98);color:#0a1a05;">111.000</div>
<div class="t b" style="left:478.00px;width:64.00px;top:25.26px;font-size:6.6px;line-height:6.6px;text-align:center;transform:scaleX(0.98);color:#0a1a05;">111.000</div>
<div class="t b" style="left:502.00px;width:64.00px;top:25.26px;font-size:6.6px;line-height:6.6px;text-align:center;transform:scaleX(0.98);color:#433d28;">0.111</div>
<div class="t b" style="left:22.00px;width:64.00px;top:39.26px;font-size:6.6px;line-height:6.6px;text-align:center;transform:scaleX(0.98);color:#0a1a05;">111.000</div>
<div class="t b" style="left:46.00px;width:64.00px;top:39.26px;font-size:6.6px;line-height:6.6px;text-align:center;transform:scaleX(0.98);color:#0a1a05;">111.000</div>
<div class="t b" style="left:70.00px;width:64.00px;top:39.26px;font-size:6.6px;line-height:6.6px;text-align:center;transform:scaleX(0.98);color:#0a1a05;">111.000</div>
<div class="t b" style="left:94.00px;width:64.00px;top:39.26px;font-size:6.6px;line-height:6.6px;text-align:center;transform:scaleX(0.98);color:#0a1a05;">111.000</div>
<div class="t b" style="left:118.00px;width:64.00px;top:39.26px;font-size:6.6px;line-height:6.6px;text-align:center;transform:scaleX(0.98);color:#0a1a05;">111.000</div>
<div class="t b" style="left:142.00px;width:64.00px;top:39.26px;font-size:6.6px;line-height:6.6px;text-align:center;transform:scaleX(0.98);color:#0a1a05;">111.000</div>
<div class="t b" style="left:166.00px;width:64.00px;top:39.26px;font-size:6.6px;line-height:6.6px;text-align:center;transform:scaleX(0.98);color:#0a1a05;">111.000</div>
<div class="t b" style="left:190.00px;width:64.00px;top:39.26px;font-size:6.6px;line-height:6.6px;text-align:center;transform:scaleX(0.98);color:#0a1a05;">111.000</div>
<div class="t b" style="left:214.00px;width:64.00px;top:39.26px;font-size:6.6px;line-height:6.6px;text-align:center;transform:scaleX(0.98);color:#0a1a05;">111.000</div>
<div class="t b" style="left:238.00px;width:64.00px;top:39.26px;font-size:6.6px;line-height:6.6px;text-align:center;transform:scaleX(0.98);color:#0a1a05;">111.000</div>
<div class="t b" style="left:262.00px;width:64.00px;top:39.26px;font-size:6.6px;line-height:6.6px;text-align:center;transform:scaleX(0.98);color:#0a1a05;">111.000</div>
<div class="t b" style="left:286.00px;width:64.00px;top:39.26px;font-size:6.6px;line-height:6.6px;text-align:center;transform:scaleX(0.98);color:#0a1a05;">111.000</div>
<div class="t b" style="left:310.00px;width:64.00px;top:39.26px;font-size:6.6px;line-height:6.6px;text-align:center;transform:scaleX(0.98);color:#0a1a05;">111.000</div>
<div class="t b" style="left:334.00px;width:64.00px;top:39.26px;font-size:6.6px;line-height:6.6px;text-align:center;transform:scaleX(0.98);color:#0a1a05;">111.000</div>
<div class="t b" style="left:358.00px;width:64.00px;top:39.26px;font-size:6.6px;line-height:6.6px;text-align:center;transform:scaleX(0.98);color:#0a1a05;">111.000</div>
<div class="t b" style="left:382.00px;width:64.00px;top:39.26px;font-size:6.6px;line-height:6.6px;text-align:center;transform:scaleX(0.98);color:#0a1a05;">111.000</div>
<div class="t b" style="left:406.00px;width:64.00px;top:39.26px;font-size:6.6px;line-height:6.6px;text-align:center;transform:scaleX(0.98);color:#0a1a05;">111.000</div>
<div class="t b" style="left:430.00px;width:64.00px;top:39.26px;font-size:6.6px;line-height:6.6px;text-align:center;transform:scaleX(0.98);color:#0a1a05;">111.000</div>
<div class="t b" style="left:454.00px;width:64.00px;top:39.26px;font-size:6.6px;line-height:6.6px;text-align:center;transform:scaleX(0.98);color:#0a1a05;">111.000</div>
<div class="t b" style="left:478.00px;width:64.00px;top:39.26px;font-size:6.6px;line-height:6.6px;text-align:center;transform:scaleX(0.98);color:#433d28;">0.111</div>
<div class="t b" style="left:502.00px;width:64.00px;top:39.26px;font-size:6.6px;line-height:6.6px;text-align:center;transform:scaleX(0.98);color:#433d28;">0.111</div>
<div class="t b" style="left:22.00px;width:64.00px;top:52.26px;font-size:6.6px;line-height:6.6px;text-align:center;transform:scaleX(0.98);color:#0a1a05;">111.000</div>
<div class="t b" style="left:46.00px;width:64.00px;top:52.26px;font-size:6.6px;line-height:6.6px;text-align:center;transform:scaleX(0.98);color:#0a1a05;">111.000</div>
<div class="t b" style="left:70.00px;width:64.00px;top:52.26px;font-size:6.6px;line-height:6.6px;text-align:center;transform:scaleX(0.98);color:#0a1a05;">111.000</div>
<div class="t b" style="left:94.00px;width:64.00px;top:52.26px;font-size:6.6px;line-height:6.6px;text-align:center;transform:scaleX(0.98);color:#0a1a05;">111.000</div>
<div class="t b" style="left:118.00px;width:64.00px;top:52.26px;font-size:6.6px;line-height:6.6px;text-align:center;transform:scaleX(0.98);color:#0a1a05;">111.000</div>
<div class="t b" style="left:142.00px;width:64.00px;top:52.26px;font-size:6.6px;line-height:6.6px;text-align:center;transform:scaleX(0.98);color:#0a1a05;">111.000</div>
<div class="t b" style="left:166.00px;width:64.00px;top:52.26px;font-size:6.6px;line-height:6.6px;text-align:center;transform:scaleX(0.98);color:#0a1a05;">111.000</div>
<div class="t b" style="left:190.00px;width:64.00px;top:52.26px;font-size:6.6px;line-height:6.6px;text-align:center;transform:scaleX(0.98);color:#0a1a05;">111.000</div>
<div class="t b" style="left:214.00px;width:64.00px;top:52.26px;font-size:6.6px;line-height:6.6px;text-align:center;transform:scaleX(0.98);color:#0a1a05;">111.000</div>
<div class="t b" style="left:238.00px;width:64.00px;top:52.26px;font-size:6.6px;line-height:6.6px;text-align:center;transform:scaleX(0.98);color:#0a1a05;">111.000</div>
<div class="t b" style="left:262.00px;width:64.00px;top:52.26px;font-size:6.6px;line-height:6.6px;text-align:center;transform:scaleX(0.98);color:#0a1a05;">111.000</div>
<div class="t b" style="left:286.00px;width:64.00px;top:52.26px;font-size:6.6px;line-height:6.6px;text-align:center;transform:scaleX(0.98);color:#0a1a05;">111.000</div>
<div class="t b" style="left:310.00px;width:64.00px;top:52.26px;font-size:6.6px;line-height:6.6px;text-align:center;transform:scaleX(0.98);color:#0a1a05;">111.000</div>
<div class="t b" style="left:334.00px;width:64.00px;top:52.26px;font-size:6.6px;line-height:6.6px;text-align:center;transform:scaleX(0.98);color:#0a1a05;">111.000</div>
<div class="t b" style="left:358.00px;width:64.00px;top:52.26px;font-size:6.6px;line-height:6.6px;text-align:center;transform:scaleX(0.98);color:#0a1a05;">111.000</div>
<div class="t b" style="left:382.00px;width:64.00px;top:52.26px;font-size:6.6px;line-height:6.6px;text-align:center;transform:scaleX(0.98);color:#0a1a05;">111.000</div>
<div class="t b" style="left:406.00px;width:64.00px;top:52.26px;font-size:6.6px;line-height:6.6px;text-align:center;transform:scaleX(0.98);color:#0a1a05;">111.000</div>
<div class="t b" style="left:430.00px;width:64.00px;top:52.26px;font-size:6.6px;line-height:6.6px;text-align:center;transform:scaleX(0.98);color:#0a1a05;">111.000</div>
<div class="t b" style="left:454.00px;width:64.00px;top:52.26px;font-size:6.6px;line-height:6.6px;text-align:center;transform:scaleX(0.98);color:#0a1a05;">111.000</div>
<div class="t b" style="left:478.00px;width:64.00px;top:52.26px;font-size:6.6px;line-height:6.6px;text-align:center;transform:scaleX(0.98);color:#433d28;">0.111</div>
<div class="t b" style="left:502.00px;width:64.00px;top:52.26px;font-size:6.6px;line-height:6.6px;text-align:center;transform:scaleX(0.98);color:#433d28;">0.111</div>
<div class="t b" style="left:22.00px;width:64.00px;top:66.26px;font-size:6.6px;line-height:6.6px;text-align:center;transform:scaleX(0.98);color:#0a1a05;">111.000</div>
<div class="t b" style="left:46.00px;width:64.00px;top:66.26px;font-size:6.6px;line-height:6.6px;text-align:center;transform:scaleX(0.98);color:#0a1a05;">111.000</div>
<div class="t b" style="left:70.00px;width:64.00px;top:66.26px;font-size:6.6px;line-height:6.6px;text-align:center;transform:scaleX(0.98);color:#0a1a05;">111.000</div>
<div class="t b" style="left:94.00px;width:64.00px;top:66.26px;font-size:6.6px;line-height:6.6px;text-align:center;transform:scaleX(0.98);color:#0a1a05;">111.000</div>
<div class="t b" style="left:118.00px;width:64.00px;top:66.26px;font-size:6.6px;line-height:6.6px;text-align:center;transform:scaleX(0.98);color:#0a1a05;">111.000</div>
<div class="t b" style="left:142.00px;width:64.00px;top:66.26px;font-size:6.6px;line-height:6.6px;text-align:center;transform:scaleX(0.98);color:#0a1a05;">111.000</div>
<div class="t b" style="left:166.00px;width:64.00px;top:66.26px;font-size:6.6px;line-height:6.6px;text-align:center;transform:scaleX(0.98);color:#0a1a05;">111.000</div>
<div class="t b" style="left:190.00px;width:64.00px;top:66.26px;font-size:6.6px;line-height:6.6px;text-align:center;transform:scaleX(0.98);color:#0a1a05;">111.000</div>
<div class="t b" style="left:214.00px;width:64.00px;top:66.26px;font-size:6.6px;line-height:6.6px;text-align:center;transform:scaleX(0.98);color:#0a1a05;">111.000</div>
<div class="t b" style="left:238.00px;width:64.00px;top:66.26px;font-size:6.6px;line-height:6.6px;text-align:center;transform:scaleX(0.98);color:#0a1a05;">111.000</div>
<div class="t b" style="left:262.00px;width:64.00px;top:66.26px;font-size:6.6px;line-height:6.6px;text-align:center;transform:scaleX(0.98);color:#0a1a05;">111.000</div>
<div class="t b" style="left:286.00px;width:64.00px;top:66.26px;font-size:6.6px;line-height:6.6px;text-align:center;transform:scaleX(0.98);color:#0a1a05;">111.000</div>
<div class="t b" style="left:310.00px;width:64.00px;top:66.26px;font-size:6.6px;line-height:6.6px;text-align:center;transform:scaleX(0.98);color:#0a1a05;">111.000</div>
<div class="t b" style="left:334.00px;width:64.00px;top:66.26px;font-size:6.6px;line-height:6.6px;text-align:center;transform:scaleX(0.98);color:#0a1a05;">111.000</div>
<div class="t b" style="left:358.00px;width:64.00px;top:66.26px;font-size:6.6px;line-height:6.6px;text-align:center;transform:scaleX(0.98);color:#0a1a05;">111.000</div>
<div class="t b" style="left:382.00px;width:64.00px;top:66.26px;font-size:6.6px;line-height:6.6px;text-align:center;transform:scaleX(0.98);color:#0a1a05;">111.000</div>
<div class="t b" style="left:406.00px;width:64.00px;top:66.26px;font-size:6.6px;line-height:6.6px;text-align:center;transform:scaleX(0.98);color:#0a1a05;">111.000</div>
<div class="t b" style="left:430.00px;width:64.00px;top:66.26px;font-size:6.6px;line-height:6.6px;text-align:center;transform:scaleX(0.98);color:#0a1a05;">111.000</div>
<div class="t b" style="left:454.00px;width:64.00px;top:66.26px;font-size:6.6px;line-height:6.6px;text-align:center;transform:scaleX(0.98);color:#2e2e2e;">111.110</div>
<div class="t b" style="left:478.00px;width:64.00px;top:66.26px;font-size:6.6px;line-height:6.6px;text-align:center;transform:scaleX(0.98);color:#433d28;">0.111</div>
<div class="t b" style="left:502.00px;width:64.00px;top:66.26px;font-size:6.6px;line-height:6.6px;text-align:center;transform:scaleX(0.98);color:#433d28;">0.111</div>
<div class="t b" style="left:22.00px;width:64.00px;top:79.26px;font-size:6.6px;line-height:6.6px;text-align:center;transform:scaleX(0.98);color:#0a1a05;">111.000</div>
<div class="t b" style="left:46.00px;width:64.00px;top:79.26px;font-size:6.6px;line-height:6.6px;text-align:center;transform:scaleX(0.98);color:#0a1a05;">111.000</div>
<div class="t b" style="left:70.00px;width:64.00px;top:79.26px;font-size:6.6px;line-height:6.6px;text-align:center;transform:scaleX(0.98);color:#0a1a05;">111.000</div>
<div class="t b" style="left:94.00px;width:64.00px;top:79.26px;font-size:6.6px;line-height:6.6px;text-align:center;transform:scaleX(0.98);color:#0a1a05;">111.000</div>
<div class="t b" style="left:118.00px;width:64.00px;top:79.26px;font-size:6.6px;line-height:6.6px;text-align:center;transform:scaleX(0.98);color:#0a1a05;">111.000</div>
<div class="t b" style="left:142.00px;width:64.00px;top:79.26px;font-size:6.6px;line-height:6.6px;text-align:center;transform:scaleX(0.98);color:#0a1a05;">111.000</div>
<div class="t b" style="left:166.00px;width:64.00px;top:79.26px;font-size:6.6px;line-height:6.6px;text-align:center;transform:scaleX(0.98);color:#0a1a05;">111.000</div>
<div class="t b" style="left:190.00px;width:64.00px;top:79.26px;font-size:6.6px;line-height:6.6px;text-align:center;transform:scaleX(0.98);color:#0a1a05;">111.000</div>
<div class="t b" style="left:214.00px;width:64.00px;top:79.26px;font-size:6.6px;line-height:6.6px;text-align:center;transform:scaleX(0.98);color:#0a1a05;">111.000</div>
<div class="t b" style="left:238.00px;width:64.00px;top:79.26px;font-size:6.6px;line-height:6.6px;text-align:center;transform:scaleX(0.98);color:#0a1a05;">111.000</div>
<div class="t b" style="left:262.00px;width:64.00px;top:79.26px;font-size:6.6px;line-height:6.6px;text-align:center;transform:scaleX(0.98);color:#0a1a05;">111.000</div>
<div class="t b" style="left:286.00px;width:64.00px;top:79.26px;font-size:6.6px;line-height:6.6px;text-align:center;transform:scaleX(0.98);color:#0a1a05;">111.000</div>
<div class="t b" style="left:310.00px;width:64.00px;top:79.26px;font-size:6.6px;line-height:6.6px;text-align:center;transform:scaleX(0.98);color:#0a1a05;">111.000</div>
<div class="t b" style="left:334.00px;width:64.00px;top:79.26px;font-size:6.6px;line-height:6.6px;text-align:center;transform:scaleX(0.98);color:#0a1a05;">111.000</div>
<div class="t b" style="left:358.00px;width:64.00px;top:79.26px;font-size:6.6px;line-height:6.6px;text-align:center;transform:scaleX(0.98);color:#0a1a05;">111.000</div>
<div class="t b" style="left:382.00px;width:64.00px;top:79.26px;font-size:6.6px;line-height:6.6px;text-align:center;transform:scaleX(0.98);color:#0a1a05;">111.000</div>
<div class="t b" style="left:406.00px;width:64.00px;top:79.26px;font-size:6.6px;line-height:6.6px;text-align:center;transform:scaleX(0.98);color:#0a1a05;">111.000</div>
<div class="t b" style="left:430.00px;width:64.00px;top:79.26px;font-size:6.6px;line-height:6.6px;text-align:center;transform:scaleX(0.98);color:#0a1a05;">111.000</div>
<div class="t b" style="left:454.00px;width:64.00px;top:79.26px;font-size:6.6px;line-height:6.6px;text-align:center;transform:scaleX(0.98);color:#2e2e2e;">111.110</div>
<div class="t b" style="left:478.00px;width:64.00px;top:79.26px;font-size:6.6px;line-height:6.6px;text-align:center;transform:scaleX(0.98);color:#433d28;">0.111</div>
<div class="t b" style="left:502.00px;width:64.00px;top:79.26px;font-size:6.6px;line-height:6.6px;text-align:center;transform:scaleX(0.98);color:#433d28;">0.111</div>
<div class="t b" style="left:22.00px;width:64.00px;top:93.26px;font-size:6.6px;line-height:6.6px;text-align:center;transform:scaleX(0.98);color:#0a1a05;">111.000</div>
<div class="t b" style="left:46.00px;width:64.00px;top:93.26px;font-size:6.6px;line-height:6.6px;text-align:center;transform:scaleX(0.98);color:#0a1a05;">111.000</div>
<div class="t b" style="left:70.00px;width:64.00px;top:93.26px;font-size:6.6px;line-height:6.6px;text-align:center;transform:scaleX(0.98);color:#0a1a05;">111.000</div>
<div class="t b" style="left:94.00px;width:64.00px;top:93.26px;font-size:6.6px;line-height:6.6px;text-align:center;transform:scaleX(0.98);color:#0a1a05;">111.000</div>
<div class="t b" style="left:118.00px;width:64.00px;top:93.26px;font-size:6.6px;line-height:6.6px;text-align:center;transform:scaleX(0.98);color:#0a1a05;">111.000</div>
<div class="t b" style="left:142.00px;width:64.00px;top:93.26px;font-size:6.6px;line-height:6.6px;text-align:center;transform:scaleX(0.98);color:#0a1a05;">111.000</div>
<div class="t b" style="left:166.00px;width:64.00px;top:93.26px;font-size:6.6px;line-height:6.6px;text-align:center;transform:scaleX(0.98);color:#0a1a05;">111.000</div>
<div class="t b" style="left:190.00px;width:64.00px;top:93.26px;font-size:6.6px;line-height:6.6px;text-align:center;transform:scaleX(0.98);color:#0a1a05;">111.000</div>
<div class="t b" style="left:214.00px;width:64.00px;top:93.26px;font-size:6.6px;line-height:6.6px;text-align:center;transform:scaleX(0.98);color:#0a1a05;">111.000</div>
<div class="t b" style="left:238.00px;width:64.00px;top:93.26px;font-size:6.6px;line-height:6.6px;text-align:center;transform:scaleX(0.98);color:#0a1a05;">111.000</div>
<div class="t b" style="left:262.00px;width:64.00px;top:93.26px;font-size:6.6px;line-height:6.6px;text-align:center;transform:scaleX(0.98);color:#0a1a05;">111.000</div>
<div class="t b" style="left:286.00px;width:64.00px;top:93.26px;font-size:6.6px;line-height:6.6px;text-align:center;transform:scaleX(0.98);color:#0a1a05;">111.000</div>
<div class="t b" style="left:310.00px;width:64.00px;top:93.26px;font-size:6.6px;line-height:6.6px;text-align:center;transform:scaleX(0.98);color:#0a1a05;">111.000</div>
<div class="t b" style="left:334.00px;width:64.00px;top:93.26px;font-size:6.6px;line-height:6.6px;text-align:center;transform:scaleX(0.98);color:#0a1a05;">111.000</div>
<div class="t b" style="left:358.00px;width:64.00px;top:93.26px;font-size:6.6px;line-height:6.6px;text-align:center;transform:scaleX(0.98);color:#0a1a05;">111.000</div>
<div class="t b" style="left:382.00px;width:64.00px;top:93.26px;font-size:6.6px;line-height:6.6px;text-align:center;transform:scaleX(0.98);color:#0a1a05;">111.000</div>
<div class="t b" style="left:406.00px;width:64.00px;top:93.26px;font-size:6.6px;line-height:6.6px;text-align:center;transform:scaleX(0.98);color:#0a1a05;">111.000</div>
<div class="t b" style="left:430.00px;width:64.00px;top:93.26px;font-size:6.6px;line-height:6.6px;text-align:center;transform:scaleX(0.98);color:#0a1a05;">111.000</div>
<div class="t b" style="left:454.00px;width:64.00px;top:93.26px;font-size:6.6px;line-height:6.6px;text-align:center;transform:scaleX(0.98);color:#433d28;">0.111</div>
<div class="t b" style="left:478.00px;width:64.00px;top:93.26px;font-size:6.6px;line-height:6.6px;text-align:center;transform:scaleX(0.98);color:#433d28;">0.111</div>
<div class="t b" style="left:502.00px;width:64.00px;top:93.26px;font-size:6.6px;line-height:6.6px;text-align:center;transform:scaleX(0.98);color:#433d28;">0.111</div>
<div class="t b" style="left:22.00px;width:64.00px;top:106.26px;font-size:6.6px;line-height:6.6px;text-align:center;transform:scaleX(0.98);color:#0a1a05;">111.000</div>
<div class="t b" style="left:46.00px;width:64.00px;top:106.26px;font-size:6.6px;line-height:6.6px;text-align:center;transform:scaleX(0.98);color:#0a1a05;">111.000</div>
<div class="t b" style="left:70.00px;width:64.00px;top:106.26px;font-size:6.6px;line-height:6.6px;text-align:center;transform:scaleX(0.98);color:#0a1a05;">111.000</div>
<div class="t b" style="left:94.00px;width:64.00px;top:106.26px;font-size:6.6px;line-height:6.6px;text-align:center;transform:scaleX(0.98);color:#0a1a05;">111.000</div>
<div class="t b" style="left:118.00px;width:64.00px;top:106.26px;font-size:6.6px;line-height:6.6px;text-align:center;transform:scaleX(0.98);color:#0a1a05;">111.000</div>
<div class="t b" style="left:142.00px;width:64.00px;top:106.26px;font-size:6.6px;line-height:6.6px;text-align:center;transform:scaleX(0.98);color:#0a1a05;">111.000</div>
<div class="t b" style="left:166.00px;width:64.00px;top:106.26px;font-size:6.6px;line-height:6.6px;text-align:center;transform:scaleX(0.98);color:#0a1a05;">111.000</div>
<div class="t b" style="left:190.00px;width:64.00px;top:106.26px;font-size:6.6px;line-height:6.6px;text-align:center;transform:scaleX(0.98);color:#0a1a05;">111.000</div>
<div class="t b" style="left:214.00px;width:64.00px;top:106.26px;font-size:6.6px;line-height:6.6px;text-align:center;transform:scaleX(0.98);color:#0a1a05;">111.000</div>
<div class="t b" style="left:238.00px;width:64.00px;top:106.26px;font-size:6.6px;line-height:6.6px;text-align:center;transform:scaleX(0.98);color:#0a1a05;">111.000</div>
<div class="t b" style="left:262.00px;width:64.00px;top:106.26px;font-size:6.6px;line-height:6.6px;text-align:center;transform:scaleX(0.98);color:#0a1a05;">111.000</div>
<div class="t b" style="left:286.00px;width:64.00px;top:106.26px;font-size:6.6px;line-height:6.6px;text-align:center;transform:scaleX(0.98);color:#0a1a05;">111.000</div>
<div class="t b" style="left:310.00px;width:64.00px;top:106.26px;font-size:6.6px;line-height:6.6px;text-align:center;transform:scaleX(0.98);color:#0a1a05;">111.000</div>
<div class="t b" style="left:334.00px;width:64.00px;top:106.26px;font-size:6.6px;line-height:6.6px;text-align:center;transform:scaleX(0.98);color:#0a1a05;">111.000</div>
<div class="t b" style="left:358.00px;width:64.00px;top:106.26px;font-size:6.6px;line-height:6.6px;text-align:center;transform:scaleX(0.98);color:#0a1a05;">111.000</div>
<div class="t b" style="left:382.00px;width:64.00px;top:106.26px;font-size:6.6px;line-height:6.6px;text-align:center;transform:scaleX(0.98);color:#0a1a05;">111.000</div>
<div class="t b" style="left:406.00px;width:64.00px;top:106.26px;font-size:6.6px;line-height:6.6px;text-align:center;transform:scaleX(0.98);color:#0a1a05;">111.000</div>
<div class="t b" style="left:430.00px;width:64.00px;top:106.26px;font-size:6.6px;line-height:6.6px;text-align:center;transform:scaleX(0.98);color:#2e2e2e;">111.110</div>
<div class="t b" style="left:454.00px;width:64.00px;top:106.26px;font-size:6.6px;line-height:6.6px;text-align:center;transform:scaleX(0.98);color:#433d28;">0.111</div>
<div class="t b" style="left:478.00px;width:64.00px;top:106.26px;font-size:6.6px;line-height:6.6px;text-align:center;transform:scaleX(0.98);color:#433d28;">0.111</div>
<div class="t b" style="left:502.00px;width:64.00px;top:106.26px;font-size:6.6px;line-height:6.6px;text-align:center;transform:scaleX(0.98);color:#433d28;">0.111</div>
<div class="t b" style="left:22.00px;width:64.00px;top:120.26px;font-size:6.6px;line-height:6.6px;text-align:center;transform:scaleX(0.98);color:#0a1a05;">111.000</div>
<div class="t b" style="left:46.00px;width:64.00px;top:120.26px;font-size:6.6px;line-height:6.6px;text-align:center;transform:scaleX(0.98);color:#0a1a05;">111.000</div>
<div class="t b" style="left:70.00px;width:64.00px;top:120.26px;font-size:6.6px;line-height:6.6px;text-align:center;transform:scaleX(0.98);color:#0a1a05;">111.000</div>
<div class="t b" style="left:94.00px;width:64.00px;top:120.26px;font-size:6.6px;line-height:6.6px;text-align:center;transform:scaleX(0.98);color:#0a1a05;">111.000</div>
<div class="t b" style="left:118.00px;width:64.00px;top:120.26px;font-size:6.6px;line-height:6.6px;text-align:center;transform:scaleX(0.98);color:#0a1a05;">111.000</div>
<div class="t b" style="left:142.00px;width:64.00px;top:120.26px;font-size:6.6px;line-height:6.6px;text-align:center;transform:scaleX(0.98);color:#0a1a05;">111.000</div>
<div class="t b" style="left:166.00px;width:64.00px;top:120.26px;font-size:6.6px;line-height:6.6px;text-align:center;transform:scaleX(0.98);color:#0a1a05;">111.000</div>
<div class="t b" style="left:190.00px;width:64.00px;top:120.26px;font-size:6.6px;line-height:6.6px;text-align:center;transform:scaleX(0.98);color:#0a1a05;">111.000</div>
<div class="t b" style="left:214.00px;width:64.00px;top:120.26px;font-size:6.6px;line-height:6.6px;text-align:center;transform:scaleX(0.98);color:#0a1a05;">111.000</div>
<div class="t b" style="left:238.00px;width:64.00px;top:120.26px;font-size:6.6px;line-height:6.6px;text-align:center;transform:scaleX(0.98);color:#0a1a05;">111.000</div>
<div class="t b" style="left:262.00px;width:64.00px;top:120.26px;font-size:6.6px;line-height:6.6px;text-align:center;transform:scaleX(0.98);color:#0a1a05;">111.000</div>
<div class="t b" style="left:286.00px;width:64.00px;top:120.26px;font-size:6.6px;line-height:6.6px;text-align:center;transform:scaleX(0.98);color:#0a1a05;">111.000</div>
<div class="t b" style="left:310.00px;width:64.00px;top:120.26px;font-size:6.6px;line-height:6.6px;text-align:center;transform:scaleX(0.98);color:#0a1a05;">111.000</div>
<div class="t b" style="left:334.00px;width:64.00px;top:120.26px;font-size:6.6px;line-height:6.6px;text-align:center;transform:scaleX(0.98);color:#0a1a05;">111.000</div>
<div class="t b" style="left:358.00px;width:64.00px;top:120.26px;font-size:6.6px;line-height:6.6px;text-align:center;transform:scaleX(0.98);color:#0a1a05;">111.000</div>
<div class="t b" style="left:382.00px;width:64.00px;top:120.26px;font-size:6.6px;line-height:6.6px;text-align:center;transform:scaleX(0.98);color:#0a1a05;">111.000</div>
<div class="t b" style="left:406.00px;width:64.00px;top:120.26px;font-size:6.6px;line-height:6.6px;text-align:center;transform:scaleX(0.98);color:#2e2e2e;">111.110</div>
<div class="t b" style="left:430.00px;width:64.00px;top:120.26px;font-size:6.6px;line-height:6.6px;text-align:center;transform:scaleX(0.98);color:#2e2e2e;">111.110</div>
<div class="t b" style="left:454.00px;width:64.00px;top:120.26px;font-size:6.6px;line-height:6.6px;text-align:center;transform:scaleX(0.98);color:#433d28;">0.111</div>
<div class="t b" style="left:478.00px;width:64.00px;top:120.26px;font-size:6.6px;line-height:6.6px;text-align:center;transform:scaleX(0.98);color:#433d28;">0.111</div>
<div class="t b" style="left:502.00px;width:64.00px;top:120.26px;font-size:6.6px;line-height:6.6px;text-align:center;transform:scaleX(0.98);color:#433d28;">0.111</div>
<div class="t b" style="left:22.00px;width:64.00px;top:133.26px;font-size:6.6px;line-height:6.6px;text-align:center;transform:scaleX(0.98);color:#0a1a05;">111.000</div>
<div class="t b" style="left:46.00px;width:64.00px;top:133.26px;font-size:6.6px;line-height:6.6px;text-align:center;transform:scaleX(0.98);color:#0a1a05;">111.000</div>
<div class="t b" style="left:70.00px;width:64.00px;top:133.26px;font-size:6.6px;line-height:6.6px;text-align:center;transform:scaleX(0.98);color:#0a1a05;">111.000</div>
<div class="t b" style="left:94.00px;width:64.00px;top:133.26px;font-size:6.6px;line-height:6.6px;text-align:center;transform:scaleX(0.98);color:#0a1a05;">111.000</div>
<div class="t b" style="left:118.00px;width:64.00px;top:133.26px;font-size:6.6px;line-height:6.6px;text-align:center;transform:scaleX(0.98);color:#0a1a05;">111.000</div>
<div class="t b" style="left:142.00px;width:64.00px;top:133.26px;font-size:6.6px;line-height:6.6px;text-align:center;transform:scaleX(0.98);color:#0a1a05;">111.000</div>
<div class="t b" style="left:166.00px;width:64.00px;top:133.26px;font-size:6.6px;line-height:6.6px;text-align:center;transform:scaleX(0.98);color:#0a1a05;">111.000</div>
<div class="t b" style="left:190.00px;width:64.00px;top:133.26px;font-size:6.6px;line-height:6.6px;text-align:center;transform:scaleX(0.98);color:#0a1a05;">111.000</div>
<div class="t b" style="left:214.00px;width:64.00px;top:133.26px;font-size:6.6px;line-height:6.6px;text-align:center;transform:scaleX(0.98);color:#0a1a05;">111.000</div>
<div class="t b" style="left:238.00px;width:64.00px;top:133.26px;font-size:6.6px;line-height:6.6px;text-align:center;transform:scaleX(0.98);color:#0a1a05;">111.000</div>
<div class="t b" style="left:262.00px;width:64.00px;top:133.26px;font-size:6.6px;line-height:6.6px;text-align:center;transform:scaleX(0.98);color:#0a1a05;">111.000</div>
<div class="t b" style="left:286.00px;width:64.00px;top:133.26px;font-size:6.6px;line-height:6.6px;text-align:center;transform:scaleX(0.98);color:#0a1a05;">111.000</div>
<div class="t b" style="left:310.00px;width:64.00px;top:133.26px;font-size:6.6px;line-height:6.6px;text-align:center;transform:scaleX(0.98);color:#0a1a05;">111.000</div>
<div class="t b" style="left:334.00px;width:64.00px;top:133.26px;font-size:6.6px;line-height:6.6px;text-align:center;transform:scaleX(0.98);color:#0a1a05;">111.000</div>
<div class="t b" style="left:358.00px;width:64.00px;top:133.26px;font-size:6.6px;line-height:6.6px;text-align:center;transform:scaleX(0.98);color:#0a1a05;">111.000</div>
<div class="t b" style="left:382.00px;width:64.00px;top:133.26px;font-size:6.6px;line-height:6.6px;text-align:center;transform:scaleX(0.98);color:#0a1a05;">111.000</div>
<div class="t b" style="left:406.00px;width:64.00px;top:133.26px;font-size:6.6px;line-height:6.6px;text-align:center;transform:scaleX(0.98);color:#2e2e2e;">111.110</div>
<div class="t b" style="left:430.00px;width:64.00px;top:133.26px;font-size:6.6px;line-height:6.6px;text-align:center;transform:scaleX(0.98);color:#433d28;">0.111</div>
<div class="t b" style="left:454.00px;width:64.00px;top:133.26px;font-size:6.6px;line-height:6.6px;text-align:center;transform:scaleX(0.98);color:#433d28;">0.111</div>
<div class="t b" style="left:478.00px;width:64.00px;top:133.26px;font-size:6.6px;line-height:6.6px;text-align:center;transform:scaleX(0.98);color:#433d28;">0.111</div>
<div class="t b" style="left:502.00px;width:64.00px;top:133.26px;font-size:6.6px;line-height:6.6px;text-align:center;transform:scaleX(0.98);color:#433d28;">0.111</div>
<div class="t b" style="left:22.00px;width:64.00px;top:147.26px;font-size:6.6px;line-height:6.6px;text-align:center;transform:scaleX(0.98);color:#0a1a05;">111.000</div>
<div class="t b" style="left:46.00px;width:64.00px;top:147.26px;font-size:6.6px;line-height:6.6px;text-align:center;transform:scaleX(0.98);color:#0a1a05;">111.000</div>
<div class="t b" style="left:70.00px;width:64.00px;top:147.26px;font-size:6.6px;line-height:6.6px;text-align:center;transform:scaleX(0.98);color:#0a1a05;">111.000</div>
<div class="t b" style="left:94.00px;width:64.00px;top:147.26px;font-size:6.6px;line-height:6.6px;text-align:center;transform:scaleX(0.98);color:#0a1a05;">111.000</div>
<div class="t b" style="left:118.00px;width:64.00px;top:147.26px;font-size:6.6px;line-height:6.6px;text-align:center;transform:scaleX(0.98);color:#0a1a05;">111.000</div>
<div class="t b" style="left:142.00px;width:64.00px;top:147.26px;font-size:6.6px;line-height:6.6px;text-align:center;transform:scaleX(0.98);color:#0a1a05;">111.000</div>
<div class="t b" style="left:166.00px;width:64.00px;top:147.26px;font-size:6.6px;line-height:6.6px;text-align:center;transform:scaleX(0.98);color:#0a1a05;">111.000</div>
<div class="t b" style="left:190.00px;width:64.00px;top:147.26px;font-size:6.6px;line-height:6.6px;text-align:center;transform:scaleX(0.98);color:#0a1a05;">111.000</div>
<div class="t b" style="left:214.00px;width:64.00px;top:147.26px;font-size:6.6px;line-height:6.6px;text-align:center;transform:scaleX(0.98);color:#0a1a05;">111.000</div>
<div class="t b" style="left:238.00px;width:64.00px;top:147.26px;font-size:6.6px;line-height:6.6px;text-align:center;transform:scaleX(0.98);color:#0a1a05;">111.000</div>
<div class="t b" style="left:262.00px;width:64.00px;top:147.26px;font-size:6.6px;line-height:6.6px;text-align:center;transform:scaleX(0.98);color:#0a1a05;">111.000</div>
<div class="t b" style="left:286.00px;width:64.00px;top:147.26px;font-size:6.6px;line-height:6.6px;text-align:center;transform:scaleX(0.98);color:#0a1a05;">111.000</div>
<div class="t b" style="left:310.00px;width:64.00px;top:147.26px;font-size:6.6px;line-height:6.6px;text-align:center;transform:scaleX(0.98);color:#0a1a05;">111.000</div>
<div class="t b" style="left:334.00px;width:64.00px;top:147.26px;font-size:6.6px;line-height:6.6px;text-align:center;transform:scaleX(0.98);color:#0a1a05;">111.000</div>
<div class="t b" style="left:358.00px;width:64.00px;top:147.26px;font-size:6.6px;line-height:6.6px;text-align:center;transform:scaleX(0.98);color:#0a1a05;">111.000</div>
<div class="t b" style="left:382.00px;width:64.00px;top:147.26px;font-size:6.6px;line-height:6.6px;text-align:center;transform:scaleX(0.98);color:#2e2e2e;">111.110</div>
<div class="t b" style="left:406.00px;width:64.00px;top:147.26px;font-size:6.6px;line-height:6.6px;text-align:center;transform:scaleX(0.98);color:#2e2e2e;">111.110</div>
<div class="t b" style="left:430.00px;width:64.00px;top:147.26px;font-size:6.6px;line-height:6.6px;text-align:center;transform:scaleX(0.98);color:#433d28;">0.111</div>
<div class="t b" style="left:454.00px;width:64.00px;top:147.26px;font-size:6.6px;line-height:6.6px;text-align:center;transform:scaleX(0.98);color:#433d28;">0.111</div>
<div class="t b" style="left:478.00px;width:64.00px;top:147.26px;font-size:6.6px;line-height:6.6px;text-align:center;transform:scaleX(0.98);color:#433d28;">0.111</div>
<div class="t b" style="left:502.00px;width:64.00px;top:147.26px;font-size:6.6px;line-height:6.6px;text-align:center;transform:scaleX(0.98);color:#433d28;">0.111</div>
<div class="t b" style="left:22.00px;width:64.00px;top:160.26px;font-size:6.6px;line-height:6.6px;text-align:center;transform:scaleX(0.98);color:#0a1a05;">111.000</div>
<div class="t b" style="left:46.00px;width:64.00px;top:160.26px;font-size:6.6px;line-height:6.6px;text-align:center;transform:scaleX(0.98);color:#0a1a05;">111.000</div>
<div class="t b" style="left:70.00px;width:64.00px;top:160.26px;font-size:6.6px;line-height:6.6px;text-align:center;transform:scaleX(0.98);color:#0a1a05;">111.000</div>
<div class="t b" style="left:94.00px;width:64.00px;top:160.26px;font-size:6.6px;line-height:6.6px;text-align:center;transform:scaleX(0.98);color:#0a1a05;">111.000</div>
<div class="t b" style="left:118.00px;width:64.00px;top:160.26px;font-size:6.6px;line-height:6.6px;text-align:center;transform:scaleX(0.98);color:#0a1a05;">111.000</div>
<div class="t b" style="left:142.00px;width:64.00px;top:160.26px;font-size:6.6px;line-height:6.6px;text-align:center;transform:scaleX(0.98);color:#0a1a05;">111.000</div>
<div class="t b" style="left:166.00px;width:64.00px;top:160.26px;font-size:6.6px;line-height:6.6px;text-align:center;transform:scaleX(0.98);color:#0a1a05;">111.000</div>
<div class="t b" style="left:190.00px;width:64.00px;top:160.26px;font-size:6.6px;line-height:6.6px;text-align:center;transform:scaleX(0.98);color:#0a1a05;">111.000</div>
<div class="t b" style="left:214.00px;width:64.00px;top:160.26px;font-size:6.6px;line-height:6.6px;text-align:center;transform:scaleX(0.98);color:#0a1a05;">111.000</div>
<div class="t b" style="left:238.00px;width:64.00px;top:160.26px;font-size:6.6px;line-height:6.6px;text-align:center;transform:scaleX(0.98);color:#0a1a05;">111.000</div>
<div class="t b" style="left:262.00px;width:64.00px;top:160.26px;font-size:6.6px;line-height:6.6px;text-align:center;transform:scaleX(0.98);color:#0a1a05;">111.000</div>
<div class="t b" style="left:286.00px;width:64.00px;top:160.26px;font-size:6.6px;line-height:6.6px;text-align:center;transform:scaleX(0.98);color:#0a1a05;">111.000</div>
<div class="t b" style="left:310.00px;width:64.00px;top:160.26px;font-size:6.6px;line-height:6.6px;text-align:center;transform:scaleX(0.98);color:#0a1a05;">111.000</div>
<div class="t b" style="left:334.00px;width:64.00px;top:160.26px;font-size:6.6px;line-height:6.6px;text-align:center;transform:scaleX(0.98);color:#0a1a05;">111.000</div>
<div class="t b" style="left:358.00px;width:64.00px;top:160.26px;font-size:6.6px;line-height:6.6px;text-align:center;transform:scaleX(0.98);color:#2e2e2e;">111.110</div>
<div class="t b" style="left:382.00px;width:64.00px;top:160.26px;font-size:6.6px;line-height:6.6px;text-align:center;transform:scaleX(0.98);color:#2e2e2e;">111.110</div>
<div class="t b" style="left:406.00px;width:64.00px;top:160.26px;font-size:6.6px;line-height:6.6px;text-align:center;transform:scaleX(0.98);color:#433d28;">0.111</div>
<div class="t b" style="left:430.00px;width:64.00px;top:160.26px;font-size:6.6px;line-height:6.6px;text-align:center;transform:scaleX(0.98);color:#433d28;">0.111</div>
<div class="t b" style="left:454.00px;width:64.00px;top:160.26px;font-size:6.6px;line-height:6.6px;text-align:center;transform:scaleX(0.98);color:#433d28;">0.111</div>
<div class="t b" style="left:478.00px;width:64.00px;top:160.26px;font-size:6.6px;line-height:6.6px;text-align:center;transform:scaleX(0.98);color:#433d28;">0.111</div>
<div class="t b" style="left:502.00px;width:64.00px;top:160.26px;font-size:6.6px;line-height:6.6px;text-align:center;transform:scaleX(0.98);color:#433d28;">0.111</div>
<div class="t b" style="left:22.00px;width:64.00px;top:174.26px;font-size:6.6px;line-height:6.6px;text-align:center;transform:scaleX(0.98);color:#0a1a05;">111.000</div>
<div class="t b" style="left:46.00px;width:64.00px;top:174.26px;font-size:6.6px;line-height:6.6px;text-align:center;transform:scaleX(0.98);color:#0a1a05;">111.000</div>
<div class="t b" style="left:70.00px;width:64.00px;top:174.26px;font-size:6.6px;line-height:6.6px;text-align:center;transform:scaleX(0.98);color:#0a1a05;">111.000</div>
<div class="t b" style="left:94.00px;width:64.00px;top:174.26px;font-size:6.6px;line-height:6.6px;text-align:center;transform:scaleX(0.98);color:#0a1a05;">111.000</div>
<div class="t b" style="left:118.00px;width:64.00px;top:174.26px;font-size:6.6px;line-height:6.6px;text-align:center;transform:scaleX(0.98);color:#0a1a05;">111.000</div>
<div class="t b" style="left:142.00px;width:64.00px;top:174.26px;font-size:6.6px;line-height:6.6px;text-align:center;transform:scaleX(0.98);color:#0a1a05;">111.000</div>
<div class="t b" style="left:166.00px;width:64.00px;top:174.26px;font-size:6.6px;line-height:6.6px;text-align:center;transform:scaleX(0.98);color:#0a1a05;">111.000</div>
<div class="t b" style="left:190.00px;width:64.00px;top:174.26px;font-size:6.6px;line-height:6.6px;text-align:center;transform:scaleX(0.98);color:#0a1a05;">111.000</div>
<div class="t b" style="left:214.00px;width:64.00px;top:174.26px;font-size:6.6px;line-height:6.6px;text-align:center;transform:scaleX(0.98);color:#0a1a05;">111.000</div>
<div class="t b" style="left:238.00px;width:64.00px;top:174.26px;font-size:6.6px;line-height:6.6px;text-align:center;transform:scaleX(0.98);color:#0a1a05;">111.000</div>
<div class="t b" style="left:262.00px;width:64.00px;top:174.26px;font-size:6.6px;line-height:6.6px;text-align:center;transform:scaleX(0.98);color:#0a1a05;">111.000</div>
<div class="t b" style="left:286.00px;width:64.00px;top:174.26px;font-size:6.6px;line-height:6.6px;text-align:center;transform:scaleX(0.98);color:#0a1a05;">111.000</div>
<div class="t b" style="left:310.00px;width:64.00px;top:174.26px;font-size:6.6px;line-height:6.6px;text-align:center;transform:scaleX(0.98);color:#0a1a05;">111.000</div>
<div class="t b" style="left:334.00px;width:64.00px;top:174.26px;font-size:6.6px;line-height:6.6px;text-align:center;transform:scaleX(0.98);color:#0a1a05;">111.000</div>
<div class="t b" style="left:358.00px;width:64.00px;top:174.26px;font-size:6.6px;line-height:6.6px;text-align:center;transform:scaleX(0.98);color:#2e2e2e;">111.110</div>
<div class="t b" style="left:382.00px;width:64.00px;top:174.26px;font-size:6.6px;line-height:6.6px;text-align:center;transform:scaleX(0.98);color:#2e2e2e;">111.110</div>
<div class="t b" style="left:406.00px;width:64.00px;top:174.26px;font-size:6.6px;line-height:6.6px;text-align:center;transform:scaleX(0.98);color:#433d28;">0.111</div>
<div class="t b" style="left:430.00px;width:64.00px;top:174.26px;font-size:6.6px;line-height:6.6px;text-align:center;transform:scaleX(0.98);color:#433d28;">0.111</div>
<div class="t b" style="left:454.00px;width:64.00px;top:174.26px;font-size:6.6px;line-height:6.6px;text-align:center;transform:scaleX(0.98);color:#433d28;">0.111</div>
<div class="t b" style="left:478.00px;width:64.00px;top:174.26px;font-size:6.6px;line-height:6.6px;text-align:center;transform:scaleX(0.98);color:#433d28;">0.111</div>
<div class="t b" style="left:502.00px;width:64.00px;top:174.26px;font-size:6.6px;line-height:6.6px;text-align:center;transform:scaleX(0.98);color:#433d28;">0.111</div>
<div class="t b" style="left:22.00px;width:64.00px;top:187.26px;font-size:6.6px;line-height:6.6px;text-align:center;transform:scaleX(0.98);color:#0a1a05;">111.000</div>
<div class="t b" style="left:46.00px;width:64.00px;top:187.26px;font-size:6.6px;line-height:6.6px;text-align:center;transform:scaleX(0.98);color:#0a1a05;">111.000</div>
<div class="t b" style="left:70.00px;width:64.00px;top:187.26px;font-size:6.6px;line-height:6.6px;text-align:center;transform:scaleX(0.98);color:#0a1a05;">111.000</div>
<div class="t b" style="left:94.00px;width:64.00px;top:187.26px;font-size:6.6px;line-height:6.6px;text-align:center;transform:scaleX(0.98);color:#0a1a05;">111.000</div>
<div class="t b" style="left:118.00px;width:64.00px;top:187.26px;font-size:6.6px;line-height:6.6px;text-align:center;transform:scaleX(0.98);color:#0a1a05;">111.000</div>
<div class="t b" style="left:142.00px;width:64.00px;top:187.26px;font-size:6.6px;line-height:6.6px;text-align:center;transform:scaleX(0.98);color:#0a1a05;">111.000</div>
<div class="t b" style="left:166.00px;width:64.00px;top:187.26px;font-size:6.6px;line-height:6.6px;text-align:center;transform:scaleX(0.98);color:#0a1a05;">111.000</div>
<div class="t b" style="left:190.00px;width:64.00px;top:187.26px;font-size:6.6px;line-height:6.6px;text-align:center;transform:scaleX(0.98);color:#0a1a05;">111.000</div>
<div class="t b" style="left:214.00px;width:64.00px;top:187.26px;font-size:6.6px;line-height:6.6px;text-align:center;transform:scaleX(0.98);color:#0a1a05;">111.000</div>
<div class="t b" style="left:238.00px;width:64.00px;top:187.26px;font-size:6.6px;line-height:6.6px;text-align:center;transform:scaleX(0.98);color:#0a1a05;">111.000</div>
<div class="t b" style="left:262.00px;width:64.00px;top:187.26px;font-size:6.6px;line-height:6.6px;text-align:center;transform:scaleX(0.98);color:#0a1a05;">111.000</div>
<div class="t b" style="left:286.00px;width:64.00px;top:187.26px;font-size:6.6px;line-height:6.6px;text-align:center;transform:scaleX(0.98);color:#0a1a05;">111.000</div>
<div class="t b" style="left:310.00px;width:64.00px;top:187.26px;font-size:6.6px;line-height:6.6px;text-align:center;transform:scaleX(0.98);color:#0a1a05;">111.000</div>
<div class="t b" style="left:334.00px;width:64.00px;top:187.26px;font-size:6.6px;line-height:6.6px;text-align:center;transform:scaleX(0.98);color:#2e2e2e;">111.110</div>
<div class="t b" style="left:358.00px;width:64.00px;top:187.26px;font-size:6.6px;line-height:6.6px;text-align:center;transform:scaleX(0.98);color:#2e2e2e;">111.110</div>
<div class="t b" style="left:382.00px;width:64.00px;top:187.26px;font-size:6.6px;line-height:6.6px;text-align:center;transform:scaleX(0.98);color:#433d28;">0.111</div>
<div class="t b" style="left:406.00px;width:64.00px;top:187.26px;font-size:6.6px;line-height:6.6px;text-align:center;transform:scaleX(0.98);color:#433d28;">0.111</div>
<div class="t b" style="left:430.00px;width:64.00px;top:187.26px;font-size:6.6px;line-height:6.6px;text-align:center;transform:scaleX(0.98);color:#433d28;">0.111</div>
<div class="t b" style="left:454.00px;width:64.00px;top:187.26px;font-size:6.6px;line-height:6.6px;text-align:center;transform:scaleX(0.98);color:#433d28;">0.111</div>
<div class="t b" style="left:478.00px;width:64.00px;top:187.26px;font-size:6.6px;line-height:6.6px;text-align:center;transform:scaleX(0.98);color:#433d28;">0.111</div>
<div class="t b" style="left:502.00px;width:64.00px;top:187.26px;font-size:6.6px;line-height:6.6px;text-align:center;transform:scaleX(0.98);color:#433d28;">0.111</div>
<div class="t b" style="left:22.00px;width:64.00px;top:201.26px;font-size:6.6px;line-height:6.6px;text-align:center;transform:scaleX(0.98);color:#0a1a05;">111.000</div>
<div class="t b" style="left:46.00px;width:64.00px;top:201.26px;font-size:6.6px;line-height:6.6px;text-align:center;transform:scaleX(0.98);color:#0a1a05;">111.000</div>
<div class="t b" style="left:70.00px;width:64.00px;top:201.26px;font-size:6.6px;line-height:6.6px;text-align:center;transform:scaleX(0.98);color:#0a1a05;">111.000</div>
<div class="t b" style="left:94.00px;width:64.00px;top:201.26px;font-size:6.6px;line-height:6.6px;text-align:center;transform:scaleX(0.98);color:#0a1a05;">111.000</div>
<div class="t b" style="left:118.00px;width:64.00px;top:201.26px;font-size:6.6px;line-height:6.6px;text-align:center;transform:scaleX(0.98);color:#0a1a05;">111.000</div>
<div class="t b" style="left:142.00px;width:64.00px;top:201.26px;font-size:6.6px;line-height:6.6px;text-align:center;transform:scaleX(0.98);color:#0a1a05;">111.000</div>
<div class="t b" style="left:166.00px;width:64.00px;top:201.26px;font-size:6.6px;line-height:6.6px;text-align:center;transform:scaleX(0.98);color:#0a1a05;">111.000</div>
<div class="t b" style="left:190.00px;width:64.00px;top:201.26px;font-size:6.6px;line-height:6.6px;text-align:center;transform:scaleX(0.98);color:#0a1a05;">111.000</div>
<div class="t b" style="left:214.00px;width:64.00px;top:201.26px;font-size:6.6px;line-height:6.6px;text-align:center;transform:scaleX(0.98);color:#0a1a05;">111.000</div>
<div class="t b" style="left:238.00px;width:64.00px;top:201.26px;font-size:6.6px;line-height:6.6px;text-align:center;transform:scaleX(0.98);color:#0a1a05;">111.000</div>
<div class="t b" style="left:262.00px;width:64.00px;top:201.26px;font-size:6.6px;line-height:6.6px;text-align:center;transform:scaleX(0.98);color:#0a1a05;">111.000</div>
<div class="t b" style="left:286.00px;width:64.00px;top:201.26px;font-size:6.6px;line-height:6.6px;text-align:center;transform:scaleX(0.98);color:#0a1a05;">111.000</div>
<div class="t b" style="left:310.00px;width:64.00px;top:201.26px;font-size:6.6px;line-height:6.6px;text-align:center;transform:scaleX(0.98);color:#2e2e2e;">111.110</div>
<div class="t b" style="left:334.00px;width:64.00px;top:201.26px;font-size:6.6px;line-height:6.6px;text-align:center;transform:scaleX(0.98);color:#2e2e2e;">111.110</div>
<div class="t b" style="left:358.00px;width:64.00px;top:201.26px;font-size:6.6px;line-height:6.6px;text-align:center;transform:scaleX(0.98);color:#2e2e2e;">111.110</div>
<div class="t b" style="left:382.00px;width:64.00px;top:201.26px;font-size:6.6px;line-height:6.6px;text-align:center;transform:scaleX(0.98);color:#433d28;">0.111</div>
<div class="t b" style="left:406.00px;width:64.00px;top:201.26px;font-size:6.6px;line-height:6.6px;text-align:center;transform:scaleX(0.98);color:#433d28;">0.111</div>
<div class="t b" style="left:430.00px;width:64.00px;top:201.26px;font-size:6.6px;line-height:6.6px;text-align:center;transform:scaleX(0.98);color:#433d28;">0.111</div>
<div class="t b" style="left:454.00px;width:64.00px;top:201.26px;font-size:6.6px;line-height:6.6px;text-align:center;transform:scaleX(0.98);color:#433d28;">0.111</div>
<div class="t b" style="left:478.00px;width:64.00px;top:201.26px;font-size:6.6px;line-height:6.6px;text-align:center;transform:scaleX(0.98);color:#433d28;">0.111</div>
<div class="t b" style="left:502.00px;width:64.00px;top:201.26px;font-size:6.6px;line-height:6.6px;text-align:center;transform:scaleX(0.98);color:#433d28;">0.111</div>
<div class="t b" style="left:22.00px;width:64.00px;top:214.26px;font-size:6.6px;line-height:6.6px;text-align:center;transform:scaleX(0.98);color:#0a1a05;">111.000</div>
<div class="t b" style="left:46.00px;width:64.00px;top:214.26px;font-size:6.6px;line-height:6.6px;text-align:center;transform:scaleX(0.98);color:#0a1a05;">111.000</div>
<div class="t b" style="left:70.00px;width:64.00px;top:214.26px;font-size:6.6px;line-height:6.6px;text-align:center;transform:scaleX(0.98);color:#0a1a05;">111.000</div>
<div class="t b" style="left:94.00px;width:64.00px;top:214.26px;font-size:6.6px;line-height:6.6px;text-align:center;transform:scaleX(0.98);color:#0a1a05;">111.000</div>
<div class="t b" style="left:118.00px;width:64.00px;top:214.26px;font-size:6.6px;line-height:6.6px;text-align:center;transform:scaleX(0.98);color:#0a1a05;">111.000</div>
<div class="t b" style="left:142.00px;width:64.00px;top:214.26px;font-size:6.6px;line-height:6.6px;text-align:center;transform:scaleX(0.98);color:#0a1a05;">111.000</div>
<div class="t b" style="left:166.00px;width:64.00px;top:214.26px;font-size:6.6px;line-height:6.6px;text-align:center;transform:scaleX(0.98);color:#0a1a05;">111.000</div>
<div class="t b" style="left:190.00px;width:64.00px;top:214.26px;font-size:6.6px;line-height:6.6px;text-align:center;transform:scaleX(0.98);color:#0a1a05;">111.000</div>
<div class="t b" style="left:214.00px;width:64.00px;top:214.26px;font-size:6.6px;line-height:6.6px;text-align:center;transform:scaleX(0.98);color:#0a1a05;">111.000</div>
<div class="t b" style="left:238.00px;width:64.00px;top:214.26px;font-size:6.6px;line-height:6.6px;text-align:center;transform:scaleX(0.98);color:#0a1a05;">111.000</div>
<div class="t b" style="left:262.00px;width:64.00px;top:214.26px;font-size:6.6px;line-height:6.6px;text-align:center;transform:scaleX(0.98);color:#2e2e2e;">111.110</div>
<div class="t b" style="left:286.00px;width:64.00px;top:214.26px;font-size:6.6px;line-height:6.6px;text-align:center;transform:scaleX(0.98);color:#2e2e2e;">111.110</div>
<div class="t b" style="left:310.00px;width:64.00px;top:214.26px;font-size:6.6px;line-height:6.6px;text-align:center;transform:scaleX(0.98);color:#2e2e2e;">111.110</div>
<div class="t b" style="left:334.00px;width:64.00px;top:214.26px;font-size:6.6px;line-height:6.6px;text-align:center;transform:scaleX(0.98);color:#2e2e2e;">111.110</div>
<div class="t b" style="left:358.00px;width:64.00px;top:214.26px;font-size:6.6px;line-height:6.6px;text-align:center;transform:scaleX(0.98);color:#433d28;">0.111</div>
<div class="t b" style="left:382.00px;width:64.00px;top:214.26px;font-size:6.6px;line-height:6.6px;text-align:center;transform:scaleX(0.98);color:#433d28;">0.111</div>
<div class="t b" style="left:406.00px;width:64.00px;top:214.26px;font-size:6.6px;line-height:6.6px;text-align:center;transform:scaleX(0.98);color:#433d28;">0.111</div>
<div class="t b" style="left:430.00px;width:64.00px;top:214.26px;font-size:6.6px;line-height:6.6px;text-align:center;transform:scaleX(0.98);color:#433d28;">0.111</div>
<div class="t b" style="left:454.00px;width:64.00px;top:214.26px;font-size:6.6px;line-height:6.6px;text-align:center;transform:scaleX(0.98);color:#433d28;">0.111</div>
<div class="t b" style="left:478.00px;width:64.00px;top:214.26px;font-size:6.6px;line-height:6.6px;text-align:center;transform:scaleX(0.98);color:#433d28;">0.111</div>
<div class="t b" style="left:502.00px;width:64.00px;top:214.26px;font-size:6.6px;line-height:6.6px;text-align:center;transform:scaleX(0.98);color:#433d28;">0.111</div>
<div class="t b" style="left:22.00px;width:64.00px;top:227.26px;font-size:6.6px;line-height:6.6px;text-align:center;transform:scaleX(0.98);color:#0a1a05;">111.000</div>
<div class="t b" style="left:46.00px;width:64.00px;top:227.26px;font-size:6.6px;line-height:6.6px;text-align:center;transform:scaleX(0.98);color:#0a1a05;">111.000</div>
<div class="t b" style="left:70.00px;width:64.00px;top:227.26px;font-size:6.6px;line-height:6.6px;text-align:center;transform:scaleX(0.98);color:#0a1a05;">111.000</div>
<div class="t b" style="left:94.00px;width:64.00px;top:227.26px;font-size:6.6px;line-height:6.6px;text-align:center;transform:scaleX(0.98);color:#0a1a05;">111.000</div>
<div class="t b" style="left:118.00px;width:64.00px;top:227.26px;font-size:6.6px;line-height:6.6px;text-align:center;transform:scaleX(0.98);color:#0a1a05;">111.000</div>
<div class="t b" style="left:142.00px;width:64.00px;top:227.26px;font-size:6.6px;line-height:6.6px;text-align:center;transform:scaleX(0.98);color:#0a1a05;">111.000</div>
<div class="t b" style="left:166.00px;width:64.00px;top:227.26px;font-size:6.6px;line-height:6.6px;text-align:center;transform:scaleX(0.98);color:#0a1a05;">111.000</div>
<div class="t b" style="left:190.00px;width:64.00px;top:227.26px;font-size:6.6px;line-height:6.6px;text-align:center;transform:scaleX(0.98);color:#0a1a05;">111.000</div>
<div class="t b" style="left:214.00px;width:64.00px;top:227.26px;font-size:6.6px;line-height:6.6px;text-align:center;transform:scaleX(0.98);color:#0a1a05;">111.000</div>
<div class="t b" style="left:238.00px;width:64.00px;top:227.26px;font-size:6.6px;line-height:6.6px;text-align:center;transform:scaleX(0.98);color:#2e2e2e;">111.110</div>
<div class="t b" style="left:262.00px;width:64.00px;top:227.26px;font-size:6.6px;line-height:6.6px;text-align:center;transform:scaleX(0.98);color:#2e2e2e;">111.110</div>
<div class="t b" style="left:286.00px;width:64.00px;top:227.26px;font-size:6.6px;line-height:6.6px;text-align:center;transform:scaleX(0.98);color:#2e2e2e;">111.110</div>
<div class="t b" style="left:310.00px;width:64.00px;top:227.26px;font-size:6.6px;line-height:6.6px;text-align:center;transform:scaleX(0.98);color:#2e2e2e;">111.110</div>
<div class="t b" style="left:334.00px;width:64.00px;top:227.26px;font-size:6.6px;line-height:6.6px;text-align:center;transform:scaleX(0.98);color:#2e2e2e;">1.111</div>
<div class="t b" style="left:358.00px;width:64.00px;top:227.26px;font-size:6.6px;line-height:6.6px;text-align:center;transform:scaleX(0.98);color:#433d28;">0.111</div>
<div class="t b" style="left:382.00px;width:64.00px;top:227.26px;font-size:6.6px;line-height:6.6px;text-align:center;transform:scaleX(0.98);color:#433d28;">0.111</div>
<div class="t b" style="left:406.00px;width:64.00px;top:227.26px;font-size:6.6px;line-height:6.6px;text-align:center;transform:scaleX(0.98);color:#433d28;">0.111</div>
<div class="t b" style="left:430.00px;width:64.00px;top:227.26px;font-size:6.6px;line-height:6.6px;text-align:center;transform:scaleX(0.98);color:#433d28;">0.111</div>
<div class="t b" style="left:454.00px;width:64.00px;top:227.26px;font-size:6.6px;line-height:6.6px;text-align:center;transform:scaleX(0.98);color:#433d28;">0.111</div>
<div class="t b" style="left:478.00px;width:64.00px;top:227.26px;font-size:6.6px;line-height:6.6px;text-align:center;transform:scaleX(0.98);color:#433d28;">0.111</div>
<div class="t b" style="left:502.00px;width:64.00px;top:227.26px;font-size:6.6px;line-height:6.6px;text-align:center;transform:scaleX(0.98);color:#433d28;">0.111</div>
<div class="t b" style="left:22.00px;width:64.00px;top:241.26px;font-size:6.6px;line-height:6.6px;text-align:center;transform:scaleX(0.98);color:#0a1a05;">111.000</div>
<div class="t b" style="left:46.00px;width:64.00px;top:241.26px;font-size:6.6px;line-height:6.6px;text-align:center;transform:scaleX(0.98);color:#0a1a05;">111.000</div>
<div class="t b" style="left:70.00px;width:64.00px;top:241.26px;font-size:6.6px;line-height:6.6px;text-align:center;transform:scaleX(0.98);color:#0a1a05;">111.000</div>
<div class="t b" style="left:94.00px;width:64.00px;top:241.26px;font-size:6.6px;line-height:6.6px;text-align:center;transform:scaleX(0.98);color:#0a1a05;">111.000</div>
<div class="t b" style="left:118.00px;width:64.00px;top:241.26px;font-size:6.6px;line-height:6.6px;text-align:center;transform:scaleX(0.98);color:#0a1a05;">111.000</div>
<div class="t b" style="left:142.00px;width:64.00px;top:241.26px;font-size:6.6px;line-height:6.6px;text-align:center;transform:scaleX(0.98);color:#0a1a05;">111.000</div>
<div class="t b" style="left:166.00px;width:64.00px;top:241.26px;font-size:6.6px;line-height:6.6px;text-align:center;transform:scaleX(0.98);color:#0a1a05;">111.000</div>
<div class="t b" style="left:190.00px;width:64.00px;top:241.26px;font-size:6.6px;line-height:6.6px;text-align:center;transform:scaleX(0.98);color:#0a1a05;">111.000</div>
<div class="t b" style="left:214.00px;width:64.00px;top:241.26px;font-size:6.6px;line-height:6.6px;text-align:center;transform:scaleX(0.98);color:#2e2e2e;">111.110</div>
<div class="t b" style="left:238.00px;width:64.00px;top:241.26px;font-size:6.6px;line-height:6.6px;text-align:center;transform:scaleX(0.98);color:#2e2e2e;">111.110</div>
<div class="t b" style="left:262.00px;width:64.00px;top:241.26px;font-size:6.6px;line-height:6.6px;text-align:center;transform:scaleX(0.98);color:#2e2e2e;">111.110</div>
<div class="t b" style="left:286.00px;width:64.00px;top:241.26px;font-size:6.6px;line-height:6.6px;text-align:center;transform:scaleX(0.98);color:#2e2e2e;">111.110</div>
<div class="t b" style="left:310.00px;width:64.00px;top:241.26px;font-size:6.6px;line-height:6.6px;text-align:center;transform:scaleX(0.98);color:#2e2e2e;">1.110</div>
<div class="t b" style="left:334.00px;width:64.00px;top:241.26px;font-size:6.6px;line-height:6.6px;text-align:center;transform:scaleX(0.98);color:#433d28;">0.111</div>
<div class="t b" style="left:358.00px;width:64.00px;top:241.26px;font-size:6.6px;line-height:6.6px;text-align:center;transform:scaleX(0.98);color:#433d28;">0.111</div>
<div class="t b" style="left:382.00px;width:64.00px;top:241.26px;font-size:6.6px;line-height:6.6px;text-align:center;transform:scaleX(0.98);color:#433d28;">0.111</div>
<div class="t b" style="left:406.00px;width:64.00px;top:241.26px;font-size:6.6px;line-height:6.6px;text-align:center;transform:scaleX(0.98);color:#433d28;">0.111</div>
<div class="t b" style="left:430.00px;width:64.00px;top:241.26px;font-size:6.6px;line-height:6.6px;text-align:center;transform:scaleX(0.98);color:#433d28;">0.111</div>
<div class="t b" style="left:454.00px;width:64.00px;top:241.26px;font-size:6.6px;line-height:6.6px;text-align:center;transform:scaleX(0.98);color:#433d28;">0.111</div>
<div class="t b" style="left:478.00px;width:64.00px;top:241.26px;font-size:6.6px;line-height:6.6px;text-align:center;transform:scaleX(0.98);color:#433d28;">0.111</div>
<div class="t b" style="left:502.00px;width:64.00px;top:241.26px;font-size:6.6px;line-height:6.6px;text-align:center;transform:scaleX(0.98);color:#433d28;">0.111</div>
<div class="t b" style="left:22.00px;width:64.00px;top:254.26px;font-size:6.6px;line-height:6.6px;text-align:center;transform:scaleX(0.98);color:#0a1a05;">111.000</div>
<div class="t b" style="left:46.00px;width:64.00px;top:254.26px;font-size:6.6px;line-height:6.6px;text-align:center;transform:scaleX(0.98);color:#0a1a05;">111.000</div>
<div class="t b" style="left:70.00px;width:64.00px;top:254.26px;font-size:6.6px;line-height:6.6px;text-align:center;transform:scaleX(0.98);color:#0a1a05;">111.000</div>
<div class="t b" style="left:94.00px;width:64.00px;top:254.26px;font-size:6.6px;line-height:6.6px;text-align:center;transform:scaleX(0.98);color:#0a1a05;">111.000</div>
<div class="t b" style="left:118.00px;width:64.00px;top:254.26px;font-size:6.6px;line-height:6.6px;text-align:center;transform:scaleX(0.98);color:#0a1a05;">111.000</div>
<div class="t b" style="left:142.00px;width:64.00px;top:254.26px;font-size:6.6px;line-height:6.6px;text-align:center;transform:scaleX(0.98);color:#0a1a05;">111.000</div>
<div class="t b" style="left:166.00px;width:64.00px;top:254.26px;font-size:6.6px;line-height:6.6px;text-align:center;transform:scaleX(0.98);color:#2e2e2e;">111.110</div>
<div class="t b" style="left:190.00px;width:64.00px;top:254.26px;font-size:6.6px;line-height:6.6px;text-align:center;transform:scaleX(0.98);color:#2e2e2e;">111.110</div>
<div class="t b" style="left:214.00px;width:64.00px;top:254.26px;font-size:6.6px;line-height:6.6px;text-align:center;transform:scaleX(0.98);color:#2e2e2e;">111.110</div>
<div class="t b" style="left:238.00px;width:64.00px;top:254.26px;font-size:6.6px;line-height:6.6px;text-align:center;transform:scaleX(0.98);color:#2e2e2e;">111.110</div>
<div class="t b" style="left:262.00px;width:64.00px;top:254.26px;font-size:6.6px;line-height:6.6px;text-align:center;transform:scaleX(0.98);color:#2e2e2e;">111.110</div>
<div class="t b" style="left:286.00px;width:64.00px;top:254.26px;font-size:6.6px;line-height:6.6px;text-align:center;transform:scaleX(0.98);color:#2e2e2e;">1.110</div>
<div class="t b" style="left:310.00px;width:64.00px;top:254.26px;font-size:6.6px;line-height:6.6px;text-align:center;transform:scaleX(0.98);color:#433d28;">0.111</div>
<div class="t b" style="left:334.00px;width:64.00px;top:254.26px;font-size:6.6px;line-height:6.6px;text-align:center;transform:scaleX(0.98);color:#433d28;">0.111</div>
<div class="t b" style="left:358.00px;width:64.00px;top:254.26px;font-size:6.6px;line-height:6.6px;text-align:center;transform:scaleX(0.98);color:#433d28;">0.111</div>
<div class="t b" style="left:382.00px;width:64.00px;top:254.26px;font-size:6.6px;line-height:6.6px;text-align:center;transform:scaleX(0.98);color:#433d28;">0.111</div>
<div class="t b" style="left:406.00px;width:64.00px;top:254.26px;font-size:6.6px;line-height:6.6px;text-align:center;transform:scaleX(0.98);color:#433d28;">0.111</div>
<div class="t b" style="left:430.00px;width:64.00px;top:254.26px;font-size:6.6px;line-height:6.6px;text-align:center;transform:scaleX(0.98);color:#433d28;">0.111</div>
<div class="t b" style="left:454.00px;width:64.00px;top:254.26px;font-size:6.6px;line-height:6.6px;text-align:center;transform:scaleX(0.98);color:#433d28;">0.111</div>
<div class="t b" style="left:478.00px;width:64.00px;top:254.26px;font-size:6.6px;line-height:6.6px;text-align:center;transform:scaleX(0.98);color:#433d28;">0.111</div>
<div class="t b" style="left:502.00px;width:64.00px;top:254.26px;font-size:6.6px;line-height:6.6px;text-align:center;transform:scaleX(0.98);color:#433d28;">0.111</div>
<div class="t b" style="left:22.00px;width:64.00px;top:268.26px;font-size:6.6px;line-height:6.6px;text-align:center;transform:scaleX(0.98);color:#0a1a05;">111.000</div>
<div class="t b" style="left:46.00px;width:64.00px;top:268.26px;font-size:6.6px;line-height:6.6px;text-align:center;transform:scaleX(0.98);color:#0a1a05;">111.000</div>
<div class="t b" style="left:70.00px;width:64.00px;top:268.26px;font-size:6.6px;line-height:6.6px;text-align:center;transform:scaleX(0.98);color:#0a1a05;">111.000</div>
<div class="t b" style="left:94.00px;width:64.00px;top:268.26px;font-size:6.6px;line-height:6.6px;text-align:center;transform:scaleX(0.98);color:#0a1a05;">111.000</div>
<div class="t b" style="left:118.00px;width:64.00px;top:268.26px;font-size:6.6px;line-height:6.6px;text-align:center;transform:scaleX(0.98);color:#0a1a05;">111.000</div>
<div class="t b" style="left:142.00px;width:64.00px;top:268.26px;font-size:6.6px;line-height:6.6px;text-align:center;transform:scaleX(0.98);color:#2e2e2e;">111.110</div>
<div class="t b" style="left:166.00px;width:64.00px;top:268.26px;font-size:6.6px;line-height:6.6px;text-align:center;transform:scaleX(0.98);color:#2e2e2e;">111.110</div>
<div class="t b" style="left:190.00px;width:64.00px;top:268.26px;font-size:6.6px;line-height:6.6px;text-align:center;transform:scaleX(0.98);color:#2e2e2e;">111.110</div>
<div class="t b" style="left:214.00px;width:64.00px;top:268.26px;font-size:6.6px;line-height:6.6px;text-align:center;transform:scaleX(0.98);color:#2e2e2e;">111.110</div>
<div class="t b" style="left:238.00px;width:64.00px;top:268.26px;font-size:6.6px;line-height:6.6px;text-align:center;transform:scaleX(0.98);color:#2e2e2e;">1.110</div>
<div class="t b" style="left:262.00px;width:64.00px;top:268.26px;font-size:6.6px;line-height:6.6px;text-align:center;transform:scaleX(0.98);color:#2e2e2e;">1.110</div>
<div class="t b" style="left:286.00px;width:64.00px;top:268.26px;font-size:6.6px;line-height:6.6px;text-align:center;transform:scaleX(0.98);color:#433d28;">0.111</div>
<div class="t b" style="left:310.00px;width:64.00px;top:268.26px;font-size:6.6px;line-height:6.6px;text-align:center;transform:scaleX(0.98);color:#433d28;">0.111</div>
<div class="t b" style="left:334.00px;width:64.00px;top:268.26px;font-size:6.6px;line-height:6.6px;text-align:center;transform:scaleX(0.98);color:#433d28;">0.111</div>
<div class="t b" style="left:358.00px;width:64.00px;top:268.26px;font-size:6.6px;line-height:6.6px;text-align:center;transform:scaleX(0.98);color:#433d28;">0.111</div>
<div class="t b" style="left:382.00px;width:64.00px;top:268.26px;font-size:6.6px;line-height:6.6px;text-align:center;transform:scaleX(0.98);color:#433d28;">0.111</div>
<div class="t b" style="left:406.00px;width:64.00px;top:268.26px;font-size:6.6px;line-height:6.6px;text-align:center;transform:scaleX(0.98);color:#433d28;">0.111</div>
<div class="t b" style="left:430.00px;width:64.00px;top:268.26px;font-size:6.6px;line-height:6.6px;text-align:center;transform:scaleX(0.98);color:#433d28;">0.111</div>
<div class="t b" style="left:454.00px;width:64.00px;top:268.26px;font-size:6.6px;line-height:6.6px;text-align:center;transform:scaleX(0.98);color:#433d28;">0.111</div>
<div class="t b" style="left:478.00px;width:64.00px;top:268.26px;font-size:6.6px;line-height:6.6px;text-align:center;transform:scaleX(0.98);color:#433d28;">0.111</div>
<div class="t b" style="left:502.00px;width:64.00px;top:268.26px;font-size:6.6px;line-height:6.6px;text-align:center;transform:scaleX(0.98);color:#433d28;">0.111</div>
<div class="t b" style="left:22.00px;width:64.00px;top:281.26px;font-size:6.6px;line-height:6.6px;text-align:center;transform:scaleX(0.98);color:#0a1a05;">111.000</div>
<div class="t b" style="left:46.00px;width:64.00px;top:281.26px;font-size:6.6px;line-height:6.6px;text-align:center;transform:scaleX(0.98);color:#0a1a05;">111.000</div>
<div class="t b" style="left:70.00px;width:64.00px;top:281.26px;font-size:6.6px;line-height:6.6px;text-align:center;transform:scaleX(0.98);color:#0a1a05;">111.000</div>
<div class="t b" style="left:94.00px;width:64.00px;top:281.26px;font-size:6.6px;line-height:6.6px;text-align:center;transform:scaleX(0.98);color:#2e2e2e;">111.010</div>
<div class="t b" style="left:118.00px;width:64.00px;top:281.26px;font-size:6.6px;line-height:6.6px;text-align:center;transform:scaleX(0.98);color:#2e2e2e;">101.110</div>
<div class="t b" style="left:142.00px;width:64.00px;top:281.26px;font-size:6.6px;line-height:6.6px;text-align:center;transform:scaleX(0.98);color:#2e2e2e;">101.110</div>
<div class="t b" style="left:166.00px;width:64.00px;top:281.26px;font-size:6.6px;line-height:6.6px;text-align:center;transform:scaleX(0.98);color:#2e2e2e;">111.110</div>
<div class="t b" style="left:190.00px;width:64.00px;top:281.26px;font-size:6.6px;line-height:6.6px;text-align:center;transform:scaleX(0.98);color:#2e2e2e;">111.110</div>
<div class="t b" style="left:214.00px;width:64.00px;top:281.26px;font-size:6.6px;line-height:6.6px;text-align:center;transform:scaleX(0.98);color:#2e2e2e;">1.110</div>
<div class="t b" style="left:238.00px;width:64.00px;top:281.26px;font-size:6.6px;line-height:6.6px;text-align:center;transform:scaleX(0.98);color:#2e2e2e;">1.110</div>
<div class="t b" style="left:262.00px;width:64.00px;top:281.26px;font-size:6.6px;line-height:6.6px;text-align:center;transform:scaleX(0.98);color:#433d28;">0.111</div>
<div class="t b" style="left:286.00px;width:64.00px;top:281.26px;font-size:6.6px;line-height:6.6px;text-align:center;transform:scaleX(0.98);color:#433d28;">0.111</div>
<div class="t b" style="left:310.00px;width:64.00px;top:281.26px;font-size:6.6px;line-height:6.6px;text-align:center;transform:scaleX(0.98);color:#433d28;">0.111</div>
<div class="t b" style="left:334.00px;width:64.00px;top:281.26px;font-size:6.6px;line-height:6.6px;text-align:center;transform:scaleX(0.98);color:#433d28;">0.111</div>
<div class="t b" style="left:358.00px;width:64.00px;top:281.26px;font-size:6.6px;line-height:6.6px;text-align:center;transform:scaleX(0.98);color:#433d28;">0.111</div>
<div class="t b" style="left:382.00px;width:64.00px;top:281.26px;font-size:6.6px;line-height:6.6px;text-align:center;transform:scaleX(0.98);color:#433d28;">0.111</div>
<div class="t b" style="left:406.00px;width:64.00px;top:281.26px;font-size:6.6px;line-height:6.6px;text-align:center;transform:scaleX(0.98);color:#433d28;">0.111</div>
<div class="t b" style="left:430.00px;width:64.00px;top:281.26px;font-size:6.6px;line-height:6.6px;text-align:center;transform:scaleX(0.98);color:#433d28;">0.111</div>
<div class="t b" style="left:454.00px;width:64.00px;top:281.26px;font-size:6.6px;line-height:6.6px;text-align:center;transform:scaleX(0.98);color:#433d28;">0.111</div>
<div class="t b" style="left:478.00px;width:64.00px;top:281.26px;font-size:6.6px;line-height:6.6px;text-align:center;transform:scaleX(0.98);color:#433d28;">0.111</div>
<div class="t b" style="left:502.00px;width:64.00px;top:281.26px;font-size:6.6px;line-height:6.6px;text-align:center;transform:scaleX(0.98);color:#433d28;">0.111</div>
</div>
<div style="left:473px;top:58px;width:2px;height:16px;background:#000"></div>
<div style="left:497px;top:58px;width:2px;height:16px;background:#000"></div>
<div style="left:473px;top:58px;width:26px;height:2px;background:#000"></div>
<div style="left:473px;top:72px;width:2px;height:15px;background:#000"></div>
<div style="left:497px;top:72px;width:2px;height:15px;background:#000"></div>
<div style="left:473px;top:85px;width:26px;height:2px;background:#000"></div>
<div style="left:449px;top:99px;width:2px;height:15px;background:#000"></div>
<div style="left:473px;top:99px;width:2px;height:15px;background:#000"></div>
<div style="left:449px;top:99px;width:26px;height:2px;background:#000"></div>
<div style="left:425px;top:112px;width:2px;height:16px;background:#000"></div>
<div style="left:425px;top:112px;width:26px;height:2px;background:#000"></div>
<div style="left:473px;top:112px;width:2px;height:16px;background:#000"></div>
<div style="left:449px;top:126px;width:26px;height:2px;background:#000"></div>
<div style="left:425px;top:126px;width:2px;height:15px;background:#000"></div>
<div style="left:449px;top:126px;width:2px;height:15px;background:#000"></div>
<div style="left:401px;top:139px;width:2px;height:16px;background:#000"></div>
<div style="left:401px;top:139px;width:26px;height:2px;background:#000"></div>
<div style="left:449px;top:139px;width:2px;height:16px;background:#000"></div>
<div style="left:425px;top:153px;width:26px;height:2px;background:#000"></div>
<div style="left:377px;top:153px;width:2px;height:15px;background:#000"></div>
<div style="left:377px;top:153px;width:26px;height:2px;background:#000"></div>
<div style="left:425px;top:153px;width:2px;height:15px;background:#000"></div>
<div style="left:377px;top:166px;width:2px;height:16px;background:#000"></div>
<div style="left:425px;top:166px;width:2px;height:16px;background:#000"></div>
<div style="left:401px;top:180px;width:26px;height:2px;background:#000"></div>
<div style="left:353px;top:180px;width:2px;height:15px;background:#000"></div>
<div style="left:353px;top:180px;width:26px;height:2px;background:#000"></div>
<div style="left:401px;top:180px;width:2px;height:15px;background:#000"></div>
<div style="left:329px;top:193px;width:2px;height:16px;background:#000"></div>
<div style="left:329px;top:193px;width:26px;height:2px;background:#000"></div>
<div style="left:401px;top:193px;width:2px;height:16px;background:#000"></div>
<div style="left:377px;top:207px;width:26px;height:2px;background:#000"></div>
<div style="left:281px;top:207px;width:2px;height:15px;background:#000"></div>
<div style="left:281px;top:207px;width:26px;height:2px;background:#000"></div>
<div style="left:305px;top:207px;width:26px;height:2px;background:#000"></div>
<div style="left:377px;top:207px;width:2px;height:15px;background:#000"></div>
<div style="left:257px;top:220px;width:2px;height:15px;background:#000"></div>
<div style="left:257px;top:220px;width:26px;height:2px;background:#000"></div>
<div style="left:377px;top:220px;width:2px;height:15px;background:#000"></div>
<div style="left:353px;top:233px;width:26px;height:2px;background:#000"></div>
<div style="left:233px;top:233px;width:2px;height:16px;background:#000"></div>
<div style="left:233px;top:233px;width:26px;height:2px;background:#000"></div>
<div style="left:353px;top:233px;width:2px;height:16px;background:#000"></div>
<div style="left:329px;top:247px;width:26px;height:2px;background:#000"></div>
<div style="left:185px;top:247px;width:2px;height:15px;background:#000"></div>
<div style="left:185px;top:247px;width:26px;height:2px;background:#000"></div>
<div style="left:209px;top:247px;width:26px;height:2px;background:#000"></div>
<div style="left:329px;top:247px;width:2px;height:15px;background:#000"></div>
<div style="left:305px;top:260px;width:26px;height:2px;background:#000"></div>
<div style="left:161px;top:260px;width:2px;height:16px;background:#000"></div>
<div style="left:161px;top:260px;width:26px;height:2px;background:#000"></div>
<div style="left:305px;top:260px;width:2px;height:16px;background:#000"></div>
<div style="left:281px;top:274px;width:26px;height:2px;background:#000"></div>
<div style="left:113px;top:274px;width:2px;height:15px;background:#000"></div>
<div style="left:113px;top:274px;width:26px;height:2px;background:#000"></div>
<div style="left:113px;top:287px;width:26px;height:2px;background:#000"></div>
<div style="left:137px;top:274px;width:26px;height:2px;background:#000"></div>
<div style="left:137px;top:287px;width:26px;height:2px;background:#000"></div>
<div style="left:161px;top:287px;width:26px;height:2px;background:#000"></div>
<div style="left:185px;top:287px;width:26px;height:2px;background:#000"></div>
<div style="left:209px;top:287px;width:26px;height:2px;background:#000"></div>
<div style="left:233px;top:287px;width:26px;height:2px;background:#000"></div>
<div style="left:281px;top:274px;width:2px;height:15px;background:#000"></div>
<div style="left:257px;top:287px;width:26px;height:2px;background:#000"></div>
<div style="left:41px;top:5px;width:506px;height:1px;background:#000"></div>
<div style="left:41px;top:287px;width:506px;height:2px;background:#000"></div>
<div style="left:41px;top:5px;width:2px;height:284px;background:#000"></div>
<div style="left:545px;top:5px;width:2px;height:284px;background:#000"></div>
<div class="L">
<div class="t" style="right:513.00px;top:12.95px;font-size:7.2px;line-height:7.2px;text-align:right;transform-origin:100% 50%;transform:scaleX(0.9);color:#3a3a3a;font-style:italic">1.500</div>
<div class="t" style="right:513.00px;top:25.95px;font-size:7.2px;line-height:7.2px;text-align:right;transform-origin:100% 50%;transform:scaleX(0.9);color:#3a3a3a;font-style:italic">1.475</div>
<div class="t" style="right:513.00px;top:39.95px;font-size:7.2px;line-height:7.2px;text-align:right;transform-origin:100% 50%;transform:scaleX(0.9);color:#3a3a3a;font-style:italic">1.450</div>
<div class="t" style="right:513.00px;top:52.95px;font-size:7.2px;line-height:7.2px;text-align:right;transform-origin:100% 50%;transform:scaleX(0.9);color:#3a3a3a;font-style:italic">1.425</div>
<div class="t" style="right:513.00px;top:66.95px;font-size:7.2px;line-height:7.2px;text-align:right;transform-origin:100% 50%;transform:scaleX(0.9);color:#3a3a3a;font-style:italic">1.400</div>
<div class="t" style="right:513.00px;top:79.95px;font-size:7.2px;line-height:7.2px;text-align:right;transform-origin:100% 50%;transform:scaleX(0.9);color:#3a3a3a;font-style:italic">1.375</div>
<div class="t" style="right:513.00px;top:93.95px;font-size:7.2px;line-height:7.2px;text-align:right;transform-origin:100% 50%;transform:scaleX(0.9);color:#3a3a3a;font-style:italic">1.350</div>
<div class="t" style="right:513.00px;top:106.95px;font-size:7.2px;line-height:7.2px;text-align:right;transform-origin:100% 50%;transform:scaleX(0.9);color:#3a3a3a;font-style:italic">1.325</div>
<div class="t" style="right:513.00px;top:120.95px;font-size:7.2px;line-height:7.2px;text-align:right;transform-origin:100% 50%;transform:scaleX(0.9);color:#3a3a3a;font-style:italic">1.300</div>
<div class="t" style="right:513.00px;top:133.95px;font-size:7.2px;line-height:7.2px;text-align:right;transform-origin:100% 50%;transform:scaleX(0.9);color:#3a3a3a;font-style:italic">1.275</div>
<div class="t" style="right:513.00px;top:147.95px;font-size:7.2px;line-height:7.2px;text-align:right;transform-origin:100% 50%;transform:scaleX(0.9);color:#3a3a3a;font-style:italic">1.250</div>
<div class="t" style="right:513.00px;top:160.95px;font-size:7.2px;line-height:7.2px;text-align:right;transform-origin:100% 50%;transform:scaleX(0.9);color:#3a3a3a;font-style:italic">1.225</div>
<div class="t" style="right:513.00px;top:174.95px;font-size:7.2px;line-height:7.2px;text-align:right;transform-origin:100% 50%;transform:scaleX(0.9);color:#3a3a3a;font-style:italic">1.200</div>
<div class="t" style="right:513.00px;top:187.95px;font-size:7.2px;line-height:7.2px;text-align:right;transform-origin:100% 50%;transform:scaleX(0.9);color:#3a3a3a;font-style:italic">1.175</div>
<div class="t" style="right:513.00px;top:201.95px;font-size:7.2px;line-height:7.2px;text-align:right;transform-origin:100% 50%;transform:scaleX(0.9);color:#3a3a3a;font-style:italic">1.150</div>
<div class="t" style="right:513.00px;top:214.95px;font-size:7.2px;line-height:7.2px;text-align:right;transform-origin:100% 50%;transform:scaleX(0.9);color:#3a3a3a;font-style:italic">1.125</div>
<div class="t" style="right:513.00px;top:227.95px;font-size:7.2px;line-height:7.2px;text-align:right;transform-origin:100% 50%;transform:scaleX(0.9);color:#3a3a3a;font-style:italic">1.100</div>
<div class="t" style="right:513.00px;top:241.95px;font-size:7.2px;line-height:7.2px;text-align:right;transform-origin:100% 50%;transform:scaleX(0.9);color:#3a3a3a;font-style:italic">1.075</div>
<div class="t" style="right:513.00px;top:254.95px;font-size:7.2px;line-height:7.2px;text-align:right;transform-origin:100% 50%;transform:scaleX(0.9);color:#3a3a3a;font-style:italic">1.050</div>
<div class="t" style="right:513.00px;top:268.95px;font-size:7.2px;line-height:7.2px;text-align:right;transform-origin:100% 50%;transform:scaleX(0.9);color:#3a3a3a;font-style:italic">1.025</div>
<div class="t" style="right:513.00px;top:281.95px;font-size:7.2px;line-height:7.2px;text-align:right;transform-origin:100% 50%;transform:scaleX(0.9);color:#3a3a3a;font-style:italic">1.000</div>
<div class="t" style="left:22.00px;width:64.00px;top:295.95px;font-size:7.2px;line-height:7.2px;text-align:center;transform:scaleX(0.9);color:#3a3a3a;font-style:italic">0.00</div>
<div class="t" style="left:46.00px;width:64.00px;top:295.95px;font-size:7.2px;line-height:7.2px;text-align:center;transform:scaleX(0.9);color:#3a3a3a;font-style:italic">0.01</div>
<div class="t" style="left:70.00px;width:64.00px;top:295.95px;font-size:7.2px;line-height:7.2px;text-align:center;transform:scaleX(0.9);color:#3a3a3a;font-style:italic">0.02</div>
<div class="t" style="left:94.00px;width:64.00px;top:295.95px;font-size:7.2px;line-height:7.2px;text-align:center;transform:scaleX(0.9);color:#3a3a3a;font-style:italic">0.03</div>
<div class="t" style="left:118.00px;width:64.00px;top:295.95px;font-size:7.2px;line-height:7.2px;text-align:center;transform:scaleX(0.9);color:#3a3a3a;font-style:italic">0.04</div>
<div class="t" style="left:142.00px;width:64.00px;top:295.95px;font-size:7.2px;line-height:7.2px;text-align:center;transform:scaleX(0.9);color:#3a3a3a;font-style:italic">0.05</div>
<div class="t" style="left:166.00px;width:64.00px;top:295.95px;font-size:7.2px;line-height:7.2px;text-align:center;transform:scaleX(0.9);color:#3a3a3a;font-style:italic">0.06</div>
<div class="t" style="left:190.00px;width:64.00px;top:295.95px;font-size:7.2px;line-height:7.2px;text-align:center;transform:scaleX(0.9);color:#3a3a3a;font-style:italic">0.07</div>
<div class="t" style="left:214.00px;width:64.00px;top:295.95px;font-size:7.2px;line-height:7.2px;text-align:center;transform:scaleX(0.9);color:#3a3a3a;font-style:italic">0.08</div>
<div class="t" style="left:238.00px;width:64.00px;top:295.95px;font-size:7.2px;line-height:7.2px;text-align:center;transform:scaleX(0.9);color:#3a3a3a;font-style:italic">0.09</div>
<div class="t" style="left:262.00px;width:64.00px;top:295.95px;font-size:7.2px;line-height:7.2px;text-align:center;transform:scaleX(0.9);color:#3a3a3a;font-style:italic">0.10</div>
<div class="t" style="left:286.00px;width:64.00px;top:295.95px;font-size:7.2px;line-height:7.2px;text-align:center;transform:scaleX(0.9);color:#3a3a3a;font-style:italic">0.11</div>
<div class="t" style="left:310.00px;width:64.00px;top:295.95px;font-size:7.2px;line-height:7.2px;text-align:center;transform:scaleX(0.9);color:#3a3a3a;font-style:italic">0.12</div>
<div class="t" style="left:334.00px;width:64.00px;top:295.95px;font-size:7.2px;line-height:7.2px;text-align:center;transform:scaleX(0.9);color:#3a3a3a;font-style:italic">0.13</div>
<div class="t" style="left:358.00px;width:64.00px;top:295.95px;font-size:7.2px;line-height:7.2px;text-align:center;transform:scaleX(0.9);color:#3a3a3a;font-style:italic">0.14</div>
<div class="t" style="left:382.00px;width:64.00px;top:295.95px;font-size:7.2px;line-height:7.2px;text-align:center;transform:scaleX(0.9);color:#3a3a3a;font-style:italic">0.15</div>
<div class="t" style="left:406.00px;width:64.00px;top:295.95px;font-size:7.2px;line-height:7.2px;text-align:center;transform:scaleX(0.9);color:#3a3a3a;font-style:italic">0.16</div>
<div class="t" style="left:430.00px;width:64.00px;top:295.95px;font-size:7.2px;line-height:7.2px;text-align:center;transform:scaleX(0.9);color:#3a3a3a;font-style:italic">0.17</div>
<div class="t" style="left:454.00px;width:64.00px;top:295.95px;font-size:7.2px;line-height:7.2px;text-align:center;transform:scaleX(0.9);color:#3a3a3a;font-style:italic">0.18</div>
<div class="t" style="left:478.00px;width:64.00px;top:295.95px;font-size:7.2px;line-height:7.2px;text-align:center;transform:scaleX(0.9);color:#3a3a3a;font-style:italic">0.19</div>
<div class="t" style="left:502.00px;width:64.00px;top:295.95px;font-size:7.2px;line-height:7.2px;text-align:center;transform:scaleX(0.9);color:#3a3a3a;font-style:italic">0.20</div>
<div style="left:3.2px;top:142px;font-size:9.6px;font-weight:bold;font-style:italic;line-height:9.6px;color:#111">&tau;</div>
<div style="left:8.6px;top:146px;font-size:8px;font-weight:bold;font-style:italic;line-height:8px;color:#111">ij</div>
<div style="left:315.4px;top:310px;font-size:11px;font-weight:bold;font-style:italic;line-height:11px;color:#111">v</div>
<div style="left:41px;top:332px;width:22px;height:55px;border:2px solid #000;background:#fff"></div>
<div style="left:43px;top:334px;width:22px;height:17px;background:#70ad47"></div>
<div style="left:43px;top:351px;width:22px;height:2px;background:#000"></div>
<div style="left:43px;top:370px;width:22px;height:2px;background:#000"></div>
<div style="left:43px;top:372px;width:22px;height:17px;background:#ffe699"></div>
<div class="t" style="left:75.30px;top:339.41px;font-size:8.8px;line-height:8.8px;transform-origin:0 50%;transform:scaleX(1.06);color:#1a1a1a;-webkit-text-stroke:0.15px #1a1a1a">Multinational firm only regimes</div>
<div class="t" style="left:75.30px;top:358.51px;font-size:8.8px;line-height:8.8px;transform-origin:0 50%;transform:scaleX(1.06);color:#1a1a1a;-webkit-text-stroke:0.15px #1a1a1a">Mixed regimes of national and multinational firms</div>
<div class="t" style="left:75.30px;top:377.31px;font-size:8.8px;line-height:8.8px;transform-origin:0 50%;transform:scaleX(1.06);color:#1a1a1a;-webkit-text-stroke:0.15px #1a1a1a">National firm only regimes</div>
</div>
</body></html>
